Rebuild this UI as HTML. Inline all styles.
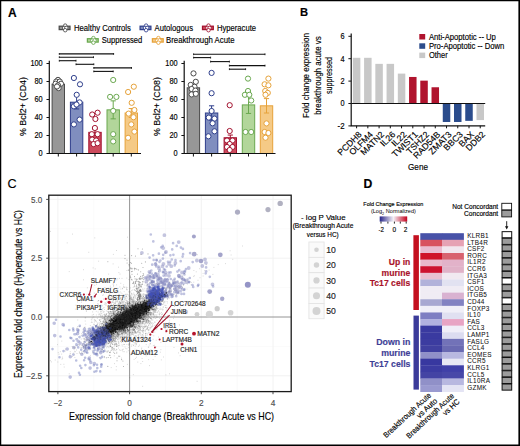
<!DOCTYPE html>
<html><head><meta charset="utf-8"><style>
html,body{margin:0;padding:0;background:#fff;}
svg{display:block;font-family:"Liberation Sans", sans-serif;}
</style></head><body>
<svg width="520" height="446" viewBox="0 0 520 446">
<rect x="0" y="0" width="520" height="446" fill="#fff"/>
<text x="8" y="16.5" font-size="12" font-weight="bold" stroke="#000" stroke-width="0.15">A</text>
<rect x="59.2" y="26.20" width="10.8" height="3.4" fill="#979797" stroke="#4a4a4a" stroke-width="1.25"/>
<circle cx="65.20" cy="25.60" r="1.75" fill="#fff" stroke="#4a4a4a" stroke-width="0.85"/>
<circle cx="64.10" cy="27.90" r="1.75" fill="#fff" stroke="#4a4a4a" stroke-width="0.85"/>
<circle cx="66.30" cy="27.90" r="1.75" fill="#fff" stroke="#4a4a4a" stroke-width="0.85"/>
<circle cx="65.20" cy="30.20" r="1.75" fill="#fff" stroke="#4a4a4a" stroke-width="0.85"/>
<text x="73.9" y="30.8" font-size="8.6" stroke="#000" stroke-width="0.15" textLength="57" lengthAdjust="spacingAndGlyphs">Healthy Controls</text>
<rect x="140.1" y="26.20" width="10.8" height="3.4" fill="#808ebf" stroke="#2f3f8c" stroke-width="1.25"/>
<circle cx="146.10" cy="25.60" r="1.75" fill="#fff" stroke="#2f3f8c" stroke-width="0.85"/>
<circle cx="145.00" cy="27.90" r="1.75" fill="#fff" stroke="#2f3f8c" stroke-width="0.85"/>
<circle cx="147.20" cy="27.90" r="1.75" fill="#fff" stroke="#2f3f8c" stroke-width="0.85"/>
<circle cx="146.10" cy="30.20" r="1.75" fill="#fff" stroke="#2f3f8c" stroke-width="0.85"/>
<text x="154.5" y="30.8" font-size="8.6" stroke="#000" stroke-width="0.15" textLength="38.5" lengthAdjust="spacingAndGlyphs">Autologous</text>
<rect x="202.5" y="26.20" width="10.8" height="3.4" fill="#cc4b5c" stroke="#a3122f" stroke-width="1.25"/>
<circle cx="208.50" cy="25.60" r="1.75" fill="#fff" stroke="#a3122f" stroke-width="0.85"/>
<circle cx="207.40" cy="27.90" r="1.75" fill="#fff" stroke="#a3122f" stroke-width="0.85"/>
<circle cx="209.60" cy="27.90" r="1.75" fill="#fff" stroke="#a3122f" stroke-width="0.85"/>
<circle cx="208.50" cy="30.20" r="1.75" fill="#fff" stroke="#a3122f" stroke-width="0.85"/>
<text x="217" y="30.8" font-size="8.6" stroke="#000" stroke-width="0.15" textLength="39" lengthAdjust="spacingAndGlyphs">Hyperacute</text>
<rect x="87.4" y="38.70" width="10.8" height="3.4" fill="#b2d69a" stroke="#6aa84f" stroke-width="1.25"/>
<circle cx="93.40" cy="38.10" r="1.75" fill="#fff" stroke="#6aa84f" stroke-width="0.85"/>
<circle cx="92.30" cy="40.40" r="1.75" fill="#fff" stroke="#6aa84f" stroke-width="0.85"/>
<circle cx="94.50" cy="40.40" r="1.75" fill="#fff" stroke="#6aa84f" stroke-width="0.85"/>
<circle cx="93.40" cy="42.70" r="1.75" fill="#fff" stroke="#6aa84f" stroke-width="0.85"/>
<text x="101.8" y="43.3" font-size="8.6" stroke="#000" stroke-width="0.15" textLength="40.5" lengthAdjust="spacingAndGlyphs">Suppressed</text>
<rect x="152.4" y="38.70" width="10.8" height="3.4" fill="#f5ca86" stroke="#e6a23a" stroke-width="1.25"/>
<circle cx="158.40" cy="38.10" r="1.75" fill="#fff" stroke="#e6a23a" stroke-width="0.85"/>
<circle cx="157.30" cy="40.40" r="1.75" fill="#fff" stroke="#e6a23a" stroke-width="0.85"/>
<circle cx="159.50" cy="40.40" r="1.75" fill="#fff" stroke="#e6a23a" stroke-width="0.85"/>
<circle cx="158.40" cy="42.70" r="1.75" fill="#fff" stroke="#e6a23a" stroke-width="0.85"/>
<text x="166" y="43.3" font-size="8.6" stroke="#000" stroke-width="0.15" textLength="68.5" lengthAdjust="spacingAndGlyphs">Breakthrough Acute</text>
<path d="M59.3 53.9H113.6" stroke="#111" stroke-width="1.1"/>
<path d="M59.3 53.0v1.8M113.6 53.0v1.8" stroke="#111" stroke-width="0.9"/>
<path d="M59.3 57.2H93.5" stroke="#111" stroke-width="1.1"/>
<path d="M59.3 56.300000000000004v1.8M93.5 56.300000000000004v1.8" stroke="#111" stroke-width="0.9"/>
<path d="M59.3 60.7H76.0" stroke="#111" stroke-width="1.1"/>
<path d="M59.3 59.800000000000004v1.8M76.0 59.800000000000004v1.8" stroke="#111" stroke-width="0.9"/>
<path d="M76.0 64.3H93.8" stroke="#111" stroke-width="1.1"/>
<path d="M76.0 63.4v1.8M93.8 63.4v1.8" stroke="#111" stroke-width="0.9"/>
<path d="M93.8 67.9H131.5" stroke="#111" stroke-width="1.1"/>
<path d="M93.8 67.0v1.8M131.5 67.0v1.8" stroke="#111" stroke-width="0.9"/>
<path d="M93.8 71.4H113.2" stroke="#111" stroke-width="1.1"/>
<path d="M93.8 70.5v1.8M113.2 70.5v1.8" stroke="#111" stroke-width="0.9"/>
<rect x="52.10" y="84.20" width="12.4" height="69.30" fill="#979797" stroke="#4a4a4a" stroke-width="1"/>
<rect x="70.40" y="102.20" width="12.4" height="51.30" fill="#808ebf" stroke="#2f3f8c" stroke-width="1"/>
<rect x="88.80" y="132.35" width="12.4" height="21.15" fill="#cc4b5c" stroke="#a3122f" stroke-width="1"/>
<rect x="107.00" y="109.85" width="12.4" height="43.65" fill="#b2d69a" stroke="#6aa84f" stroke-width="1"/>
<rect x="125.10" y="113.00" width="12.4" height="40.50" fill="#f5ca86" stroke="#e6a23a" stroke-width="1"/>
<path d="M58.3 82.85V85.55M55.70 82.85h5.2M55.70 85.55h5.2" stroke="#4a4a4a" stroke-width="1"/>
<path d="M76.6 95.45V108.95M74.00 95.45h5.2M74.00 108.95h5.2" stroke="#2f3f8c" stroke-width="1"/>
<path d="M95.0 129.20V135.50M92.40 129.20h5.2M92.40 135.50h5.2" stroke="#a3122f" stroke-width="1"/>
<path d="M113.2 100.85V118.85M110.60 100.85h5.2M110.60 118.85h5.2" stroke="#6aa84f" stroke-width="1"/>
<path d="M131.3 108.50V117.50M128.70 108.50h5.2M128.70 117.50h5.2" stroke="#e6a23a" stroke-width="1"/>
<circle cx="58" cy="79.9" r="2.6" fill="#fff" stroke="#4a4a4a" stroke-width="1"/>
<circle cx="56.2" cy="81.6" r="2.6" fill="#fff" stroke="#4a4a4a" stroke-width="1"/>
<circle cx="59.8" cy="81.6" r="2.6" fill="#fff" stroke="#4a4a4a" stroke-width="1"/>
<circle cx="55.6" cy="83.7" r="2.6" fill="#fff" stroke="#4a4a4a" stroke-width="1"/>
<circle cx="61" cy="83.7" r="2.6" fill="#fff" stroke="#4a4a4a" stroke-width="1"/>
<circle cx="58" cy="85.3" r="2.6" fill="#fff" stroke="#4a4a4a" stroke-width="1"/>
<circle cx="58.6" cy="88.1" r="2.6" fill="#fff" stroke="#4a4a4a" stroke-width="1"/>
<circle cx="57" cy="86.5" r="2.6" fill="#fff" stroke="#4a4a4a" stroke-width="1"/>
<circle cx="73.9" cy="78" r="2.6" fill="#fff" stroke="#2f3f8c" stroke-width="1"/>
<circle cx="80" cy="84.3" r="2.6" fill="#fff" stroke="#2f3f8c" stroke-width="1"/>
<circle cx="76.7" cy="94.8" r="2.6" fill="#fff" stroke="#2f3f8c" stroke-width="1"/>
<circle cx="73.9" cy="106.3" r="2.6" fill="#fff" stroke="#2f3f8c" stroke-width="1"/>
<circle cx="79.6" cy="102.4" r="2.6" fill="#fff" stroke="#2f3f8c" stroke-width="1"/>
<circle cx="76.5" cy="104.5" r="2.6" fill="#fff" stroke="#2f3f8c" stroke-width="1"/>
<circle cx="79.6" cy="119.6" r="2.6" fill="#fff" stroke="#2f3f8c" stroke-width="1"/>
<circle cx="73.9" cy="124.4" r="2.6" fill="#fff" stroke="#2f3f8c" stroke-width="1"/>
<circle cx="92.2" cy="114.5" r="2.6" fill="#fff" stroke="#a3122f" stroke-width="1"/>
<circle cx="97.6" cy="112.7" r="2.6" fill="#fff" stroke="#a3122f" stroke-width="1"/>
<circle cx="95.4" cy="119" r="2.6" fill="#fff" stroke="#a3122f" stroke-width="1"/>
<circle cx="94.9" cy="128" r="2.6" fill="#fff" stroke="#a3122f" stroke-width="1"/>
<circle cx="91.8" cy="134.2" r="2.6" fill="#fff" stroke="#a3122f" stroke-width="1"/>
<circle cx="97.6" cy="134.2" r="2.6" fill="#fff" stroke="#a3122f" stroke-width="1"/>
<circle cx="92.2" cy="139.6" r="2.6" fill="#fff" stroke="#a3122f" stroke-width="1"/>
<circle cx="96.1" cy="140.5" r="2.6" fill="#fff" stroke="#a3122f" stroke-width="1"/>
<circle cx="93.6" cy="144.1" r="2.6" fill="#fff" stroke="#a3122f" stroke-width="1"/>
<circle cx="97.6" cy="143.2" r="2.6" fill="#fff" stroke="#a3122f" stroke-width="1"/>
<circle cx="113.2" cy="80" r="2.6" fill="#fff" stroke="#6aa84f" stroke-width="1"/>
<circle cx="110.1" cy="96.9" r="2.6" fill="#fff" stroke="#6aa84f" stroke-width="1"/>
<circle cx="116.4" cy="96.9" r="2.6" fill="#fff" stroke="#6aa84f" stroke-width="1"/>
<circle cx="113.2" cy="110.9" r="2.6" fill="#fff" stroke="#6aa84f" stroke-width="1"/>
<circle cx="113.2" cy="134.2" r="2.6" fill="#fff" stroke="#6aa84f" stroke-width="1"/>
<circle cx="113.2" cy="141.4" r="2.6" fill="#fff" stroke="#6aa84f" stroke-width="1"/>
<circle cx="133.8" cy="86.7" r="2.6" fill="#fff" stroke="#e6a23a" stroke-width="1"/>
<circle cx="128.1" cy="92" r="2.6" fill="#fff" stroke="#e6a23a" stroke-width="1"/>
<circle cx="131.7" cy="102.8" r="2.6" fill="#fff" stroke="#e6a23a" stroke-width="1"/>
<circle cx="134.4" cy="110" r="2.6" fill="#fff" stroke="#e6a23a" stroke-width="1"/>
<circle cx="128.6" cy="113.6" r="2.6" fill="#fff" stroke="#e6a23a" stroke-width="1"/>
<circle cx="133.5" cy="117.2" r="2.6" fill="#fff" stroke="#e6a23a" stroke-width="1"/>
<circle cx="131.3" cy="124.4" r="2.6" fill="#fff" stroke="#e6a23a" stroke-width="1"/>
<circle cx="134.4" cy="131.6" r="2.6" fill="#fff" stroke="#e6a23a" stroke-width="1"/>
<circle cx="128.1" cy="137.8" r="2.6" fill="#fff" stroke="#e6a23a" stroke-width="1"/>
<path d="M49.3 60.8V153.5H141" fill="none" stroke="#111" stroke-width="1.2"/>
<path d="M46.5 153.50H49.3" stroke="#111" stroke-width="1"/>
<path d="M46.5 135.50H49.3" stroke="#111" stroke-width="1"/>
<path d="M46.5 117.50H49.3" stroke="#111" stroke-width="1"/>
<path d="M46.5 99.50H49.3" stroke="#111" stroke-width="1"/>
<path d="M46.5 81.50H49.3" stroke="#111" stroke-width="1"/>
<path d="M46.5 63.50H49.3" stroke="#111" stroke-width="1"/>
<path d="M58.3 153.5v3" stroke="#111" stroke-width="1"/>
<path d="M76.6 153.5v3" stroke="#111" stroke-width="1"/>
<path d="M95.0 153.5v3" stroke="#111" stroke-width="1"/>
<path d="M113.2 153.5v3" stroke="#111" stroke-width="1"/>
<path d="M131.3 153.5v3" stroke="#111" stroke-width="1"/>
<path d="M193.6 54.3H265.0" stroke="#111" stroke-width="1.1"/>
<path d="M193.6 53.4v1.8M265.0 53.4v1.8" stroke="#111" stroke-width="0.9"/>
<path d="M193.6 57.6H210.6" stroke="#111" stroke-width="1.1"/>
<path d="M193.6 56.7v1.8M210.6 56.7v1.8" stroke="#111" stroke-width="0.9"/>
<path d="M210.6 61.6H229.4" stroke="#111" stroke-width="1.1"/>
<path d="M210.6 60.7v1.8M229.4 60.7v1.8" stroke="#111" stroke-width="0.9"/>
<path d="M229.4 65.6H265.0" stroke="#111" stroke-width="1.1"/>
<path d="M229.4 64.69999999999999v1.8M265.0 64.69999999999999v1.8" stroke="#111" stroke-width="0.9"/>
<path d="M229.4 69.2H245.6" stroke="#111" stroke-width="1.1"/>
<path d="M229.4 68.3v1.8M245.6 68.3v1.8" stroke="#111" stroke-width="0.9"/>
<rect x="187.20" y="87.80" width="12.4" height="65.70" fill="#979797" stroke="#4a4a4a" stroke-width="1"/>
<rect x="205.40" y="113.00" width="12.4" height="40.50" fill="#808ebf" stroke="#2f3f8c" stroke-width="1"/>
<rect x="224.10" y="137.75" width="12.4" height="15.75" fill="#cc4b5c" stroke="#a3122f" stroke-width="1"/>
<rect x="242.30" y="104.90" width="12.4" height="48.60" fill="#b2d69a" stroke="#6aa84f" stroke-width="1"/>
<rect x="260.30" y="105.80" width="12.4" height="47.70" fill="#f5ca86" stroke="#e6a23a" stroke-width="1"/>
<path d="M193.4 86.45V89.15M190.80 86.45h5.2M190.80 89.15h5.2" stroke="#4a4a4a" stroke-width="1"/>
<path d="M211.6 105.80V120.20M209.00 105.80h5.2M209.00 120.20h5.2" stroke="#2f3f8c" stroke-width="1"/>
<path d="M230.3 135.05V140.45M227.70 135.05h5.2M227.70 140.45h5.2" stroke="#a3122f" stroke-width="1"/>
<path d="M248.5 96.35V113.45M245.90 96.35h5.2M245.90 113.45h5.2" stroke="#6aa84f" stroke-width="1"/>
<path d="M266.5 98.60V113.00M263.90 98.60h5.2M263.90 113.00h5.2" stroke="#e6a23a" stroke-width="1"/>
<circle cx="193.5" cy="73.4" r="2.6" fill="#fff" stroke="#4a4a4a" stroke-width="1"/>
<circle cx="195.8" cy="81.8" r="2.6" fill="#fff" stroke="#4a4a4a" stroke-width="1"/>
<circle cx="190.7" cy="84.9" r="2.6" fill="#fff" stroke="#4a4a4a" stroke-width="1"/>
<circle cx="194.5" cy="86.8" r="2.6" fill="#fff" stroke="#4a4a4a" stroke-width="1"/>
<circle cx="191.6" cy="89" r="2.6" fill="#fff" stroke="#4a4a4a" stroke-width="1"/>
<circle cx="195.4" cy="90.6" r="2.6" fill="#fff" stroke="#4a4a4a" stroke-width="1"/>
<circle cx="191.6" cy="94.4" r="2.6" fill="#fff" stroke="#4a4a4a" stroke-width="1"/>
<circle cx="195.8" cy="93.8" r="2.6" fill="#fff" stroke="#4a4a4a" stroke-width="1"/>
<circle cx="211.6" cy="72.9" r="2.6" fill="#fff" stroke="#2f3f8c" stroke-width="1"/>
<circle cx="211.6" cy="93.2" r="2.6" fill="#fff" stroke="#2f3f8c" stroke-width="1"/>
<circle cx="211.6" cy="111" r="2.6" fill="#fff" stroke="#2f3f8c" stroke-width="1"/>
<circle cx="208.8" cy="117.6" r="2.6" fill="#fff" stroke="#2f3f8c" stroke-width="1"/>
<circle cx="214.5" cy="118.6" r="2.6" fill="#fff" stroke="#2f3f8c" stroke-width="1"/>
<circle cx="212.6" cy="123.3" r="2.6" fill="#fff" stroke="#2f3f8c" stroke-width="1"/>
<circle cx="214.5" cy="131.3" r="2.6" fill="#fff" stroke="#2f3f8c" stroke-width="1"/>
<circle cx="208.4" cy="136.3" r="2.6" fill="#fff" stroke="#2f3f8c" stroke-width="1"/>
<circle cx="229.7" cy="105.2" r="2.6" fill="#fff" stroke="#a3122f" stroke-width="1"/>
<circle cx="229.7" cy="131" r="2.6" fill="#fff" stroke="#a3122f" stroke-width="1"/>
<circle cx="227" cy="140.5" r="2.6" fill="#fff" stroke="#a3122f" stroke-width="1"/>
<circle cx="232.5" cy="140.5" r="2.6" fill="#fff" stroke="#a3122f" stroke-width="1"/>
<circle cx="229.7" cy="144" r="2.6" fill="#fff" stroke="#a3122f" stroke-width="1"/>
<circle cx="227" cy="147" r="2.6" fill="#fff" stroke="#a3122f" stroke-width="1"/>
<circle cx="232.5" cy="147" r="2.6" fill="#fff" stroke="#a3122f" stroke-width="1"/>
<circle cx="229.7" cy="150" r="2.6" fill="#fff" stroke="#a3122f" stroke-width="1"/>
<circle cx="248" cy="78.6" r="2.6" fill="#fff" stroke="#6aa84f" stroke-width="1"/>
<circle cx="248" cy="91" r="2.6" fill="#fff" stroke="#6aa84f" stroke-width="1"/>
<circle cx="244.9" cy="94.8" r="2.6" fill="#fff" stroke="#6aa84f" stroke-width="1"/>
<circle cx="249.3" cy="94.8" r="2.6" fill="#fff" stroke="#6aa84f" stroke-width="1"/>
<circle cx="251.2" cy="100.5" r="2.6" fill="#fff" stroke="#6aa84f" stroke-width="1"/>
<circle cx="245.5" cy="132" r="2.6" fill="#fff" stroke="#6aa84f" stroke-width="1"/>
<circle cx="251.2" cy="132" r="2.6" fill="#fff" stroke="#6aa84f" stroke-width="1"/>
<circle cx="268.4" cy="78.6" r="2.6" fill="#fff" stroke="#e6a23a" stroke-width="1"/>
<circle cx="264.6" cy="84.3" r="2.6" fill="#fff" stroke="#e6a23a" stroke-width="1"/>
<circle cx="268.4" cy="85.3" r="2.6" fill="#fff" stroke="#e6a23a" stroke-width="1"/>
<circle cx="265.2" cy="91" r="2.6" fill="#fff" stroke="#e6a23a" stroke-width="1"/>
<circle cx="267.8" cy="92.9" r="2.6" fill="#fff" stroke="#e6a23a" stroke-width="1"/>
<circle cx="265.5" cy="94.8" r="2.6" fill="#fff" stroke="#e6a23a" stroke-width="1"/>
<circle cx="266.5" cy="123.4" r="2.6" fill="#fff" stroke="#e6a23a" stroke-width="1"/>
<circle cx="264.6" cy="132" r="2.6" fill="#fff" stroke="#e6a23a" stroke-width="1"/>
<circle cx="268.4" cy="133" r="2.6" fill="#fff" stroke="#e6a23a" stroke-width="1"/>
<circle cx="265.5" cy="137.7" r="2.6" fill="#fff" stroke="#e6a23a" stroke-width="1"/>
<path d="M184.2 60.8V153.5H275.5" fill="none" stroke="#111" stroke-width="1.2"/>
<path d="M181.39999999999998 153.50H184.2" stroke="#111" stroke-width="1"/>
<path d="M181.39999999999998 135.50H184.2" stroke="#111" stroke-width="1"/>
<path d="M181.39999999999998 117.50H184.2" stroke="#111" stroke-width="1"/>
<path d="M181.39999999999998 99.50H184.2" stroke="#111" stroke-width="1"/>
<path d="M181.39999999999998 81.50H184.2" stroke="#111" stroke-width="1"/>
<path d="M181.39999999999998 63.50H184.2" stroke="#111" stroke-width="1"/>
<path d="M193.4 153.5v3" stroke="#111" stroke-width="1"/>
<path d="M211.6 153.5v3" stroke="#111" stroke-width="1"/>
<path d="M230.3 153.5v3" stroke="#111" stroke-width="1"/>
<path d="M248.5 153.5v3" stroke="#111" stroke-width="1"/>
<path d="M266.5 153.5v3" stroke="#111" stroke-width="1"/>
<text x="42.699999999999996" y="156.45" font-size="8.2" text-anchor="end" stroke="#000" stroke-width="0.15" textLength="4.1" lengthAdjust="spacingAndGlyphs">0</text>
<text x="42.699999999999996" y="138.45" font-size="8.2" text-anchor="end" stroke="#000" stroke-width="0.15" textLength="8.2" lengthAdjust="spacingAndGlyphs">20</text>
<text x="42.699999999999996" y="120.45" font-size="8.2" text-anchor="end" stroke="#000" stroke-width="0.15" textLength="8.2" lengthAdjust="spacingAndGlyphs">40</text>
<text x="42.699999999999996" y="102.45" font-size="8.2" text-anchor="end" stroke="#000" stroke-width="0.15" textLength="8.2" lengthAdjust="spacingAndGlyphs">60</text>
<text x="42.699999999999996" y="84.45" font-size="8.2" text-anchor="end" stroke="#000" stroke-width="0.15" textLength="8.2" lengthAdjust="spacingAndGlyphs">80</text>
<text x="42.699999999999996" y="66.45" font-size="8.2" text-anchor="end" stroke="#000" stroke-width="0.15" textLength="12.299999999999999" lengthAdjust="spacingAndGlyphs">100</text>
<text x="177.6" y="156.45" font-size="8.2" text-anchor="end" stroke="#000" stroke-width="0.15" textLength="4.1" lengthAdjust="spacingAndGlyphs">0</text>
<text x="177.6" y="138.45" font-size="8.2" text-anchor="end" stroke="#000" stroke-width="0.15" textLength="8.2" lengthAdjust="spacingAndGlyphs">20</text>
<text x="177.6" y="120.45" font-size="8.2" text-anchor="end" stroke="#000" stroke-width="0.15" textLength="8.2" lengthAdjust="spacingAndGlyphs">40</text>
<text x="177.6" y="102.45" font-size="8.2" text-anchor="end" stroke="#000" stroke-width="0.15" textLength="8.2" lengthAdjust="spacingAndGlyphs">60</text>
<text x="177.6" y="84.45" font-size="8.2" text-anchor="end" stroke="#000" stroke-width="0.15" textLength="8.2" lengthAdjust="spacingAndGlyphs">80</text>
<text x="177.6" y="66.45" font-size="8.2" text-anchor="end" stroke="#000" stroke-width="0.15" textLength="12.299999999999999" lengthAdjust="spacingAndGlyphs">100</text>
<text x="0" y="0" font-size="9" text-anchor="middle" stroke="#000" stroke-width="0.15" textLength="59" lengthAdjust="spacingAndGlyphs" transform="translate(25.6 106.5) rotate(-90)">% Bcl2+ (CD4)</text>
<text x="0" y="0" font-size="9" text-anchor="middle" stroke="#000" stroke-width="0.15" textLength="59" lengthAdjust="spacingAndGlyphs" transform="translate(160.3 106.5) rotate(-90)">% Bcl2+ (CD8)</text>
<text x="300" y="16.2" font-size="11.2" font-weight="bold" stroke="#000" stroke-width="0.15">B</text>
<rect x="352.85" y="57.80" width="7.5" height="45.70" fill="#c8c8c8"/>
<rect x="364.09" y="57.80" width="7.5" height="45.70" fill="#c8c8c8"/>
<rect x="375.33" y="63.85" width="7.5" height="39.65" fill="#c8c8c8"/>
<rect x="386.57" y="63.85" width="7.5" height="39.65" fill="#c8c8c8"/>
<rect x="397.81" y="73.60" width="7.5" height="29.90" fill="#c8c8c8"/>
<rect x="409.05" y="76.96" width="7.5" height="26.54" fill="#b0142e"/>
<rect x="420.29" y="80.65" width="7.5" height="22.85" fill="#b0142e"/>
<rect x="431.53" y="87.26" width="7.5" height="16.24" fill="#b0142e"/>
<rect x="442.77" y="103.50" width="7.5" height="18.48" fill="#2b4c8c"/>
<rect x="454.01" y="103.50" width="7.5" height="18.48" fill="#2b4c8c"/>
<rect x="465.25" y="103.50" width="7.5" height="17.36" fill="#2b4c8c"/>
<rect x="476.49" y="103.50" width="7.5" height="16.58" fill="#c8c8c8"/>
<path d="M351.2 33.6V125.8H485.2" fill="none" stroke="#111" stroke-width="1.2"/>
<path d="M351.2 103.5H485.2" stroke="#111" stroke-width="1.2"/>
<path d="M348.4 36.30H351.2" stroke="#111" stroke-width="1"/>
<text x="344.59999999999997" y="39.25" font-size="8.2" text-anchor="end" stroke="#000" stroke-width="0.15" textLength="4.1" lengthAdjust="spacingAndGlyphs">6</text>
<path d="M348.4 58.70H351.2" stroke="#111" stroke-width="1"/>
<text x="344.59999999999997" y="61.65" font-size="8.2" text-anchor="end" stroke="#000" stroke-width="0.15" textLength="4.1" lengthAdjust="spacingAndGlyphs">4</text>
<path d="M348.4 81.10H351.2" stroke="#111" stroke-width="1"/>
<text x="344.59999999999997" y="84.05" font-size="8.2" text-anchor="end" stroke="#000" stroke-width="0.15" textLength="4.1" lengthAdjust="spacingAndGlyphs">2</text>
<path d="M348.4 103.50H351.2" stroke="#111" stroke-width="1"/>
<text x="344.59999999999997" y="106.45" font-size="8.2" text-anchor="end" stroke="#000" stroke-width="0.15" textLength="4.1" lengthAdjust="spacingAndGlyphs">0</text>
<path d="M348.4 125.90H351.2" stroke="#111" stroke-width="1"/>
<text x="344.59999999999997" y="128.85" font-size="8.2" text-anchor="end" stroke="#000" stroke-width="0.15" textLength="6.999999999999999" lengthAdjust="spacingAndGlyphs">-2</text>
<path d="M356.60 125.8v2.5" stroke="#111" stroke-width="1"/>
<text x="362.20000000000005" y="135.0" font-size="8.8" text-anchor="end" stroke="#000" stroke-width="0.15" transform="rotate(-45 362.20000000000005 135.0)">PCDH8</text>
<path d="M367.84 125.8v2.5" stroke="#111" stroke-width="1"/>
<text x="373.44000000000005" y="135.0" font-size="8.8" text-anchor="end" stroke="#000" stroke-width="0.15" transform="rotate(-45 373.44000000000005 135.0)">OLFM4</text>
<path d="M379.08 125.8v2.5" stroke="#111" stroke-width="1"/>
<text x="384.68000000000006" y="135.0" font-size="8.8" text-anchor="end" stroke="#000" stroke-width="0.15" transform="rotate(-45 384.68000000000006 135.0)">MATN2</text>
<path d="M390.32 125.8v2.5" stroke="#111" stroke-width="1"/>
<text x="395.9200000000001" y="135.0" font-size="8.8" text-anchor="end" stroke="#000" stroke-width="0.15" transform="rotate(-45 395.9200000000001 135.0)">IL26</text>
<path d="M401.56 125.8v2.5" stroke="#111" stroke-width="1"/>
<text x="407.16" y="135.0" font-size="8.8" text-anchor="end" stroke="#000" stroke-width="0.15" transform="rotate(-45 407.16 135.0)">IL22</text>
<path d="M412.80 125.8v2.5" stroke="#111" stroke-width="1"/>
<text x="418.40000000000003" y="135.0" font-size="8.8" text-anchor="end" stroke="#000" stroke-width="0.15" transform="rotate(-45 418.40000000000003 135.0)">TWIST1</text>
<path d="M424.04 125.8v2.5" stroke="#111" stroke-width="1"/>
<text x="429.64000000000004" y="135.0" font-size="8.8" text-anchor="end" stroke="#000" stroke-width="0.15" transform="rotate(-45 429.64000000000004 135.0)">TSHZ2</text>
<path d="M435.28 125.8v2.5" stroke="#111" stroke-width="1"/>
<text x="440.88000000000005" y="135.0" font-size="8.8" text-anchor="end" stroke="#000" stroke-width="0.15" transform="rotate(-45 440.88000000000005 135.0)">RAD54B</text>
<path d="M446.52 125.8v2.5" stroke="#111" stroke-width="1"/>
<text x="452.12000000000006" y="135.0" font-size="8.8" text-anchor="end" stroke="#000" stroke-width="0.15" transform="rotate(-45 452.12000000000006 135.0)">ZMAT3</text>
<path d="M457.76 125.8v2.5" stroke="#111" stroke-width="1"/>
<text x="463.36" y="135.0" font-size="8.8" text-anchor="end" stroke="#000" stroke-width="0.15" transform="rotate(-45 463.36 135.0)">BBC3</text>
<path d="M469.00 125.8v2.5" stroke="#111" stroke-width="1"/>
<text x="474.6" y="135.0" font-size="8.8" text-anchor="end" stroke="#000" stroke-width="0.15" transform="rotate(-45 474.6 135.0)">BAX</text>
<path d="M480.24 125.8v2.5" stroke="#111" stroke-width="1"/>
<text x="485.84000000000003" y="135.0" font-size="8.8" text-anchor="end" stroke="#000" stroke-width="0.15" transform="rotate(-45 485.84000000000003 135.0)">DDB2</text>
<rect x="419.3" y="34.00" width="5.9" height="5.5" fill="#b0142e"/>
<text x="428.9" y="39.83" font-size="8.7" stroke="#000" stroke-width="0.15" textLength="67" lengthAdjust="spacingAndGlyphs">Anti-Apoptotic -- Up</text>
<rect x="419.3" y="43.30" width="5.9" height="5.5" fill="#2b4c8c"/>
<text x="428.9" y="49.13" font-size="8.7" stroke="#000" stroke-width="0.15" textLength="75.5" lengthAdjust="spacingAndGlyphs">Pro-Apoptotic -- Down</text>
<rect x="419.3" y="52.60" width="5.9" height="5.5" fill="#c8c8c8"/>
<text x="428.9" y="58.43" font-size="8.7" stroke="#000" stroke-width="0.15" textLength="18.8" lengthAdjust="spacingAndGlyphs">Other</text>
<text x="0" y="0" font-size="9.4" text-anchor="middle" stroke="#000" stroke-width="0.15" textLength="85" lengthAdjust="spacingAndGlyphs" transform="translate(309.0 75.5) rotate(-90)">Fold change expression</text>
<text x="0" y="0" font-size="9.4" text-anchor="middle" stroke="#000" stroke-width="0.15" textLength="78.6" lengthAdjust="spacingAndGlyphs" transform="translate(320.7 75.5) rotate(-90)">breakthrough acute vs</text>
<text x="0" y="0" font-size="9.4" text-anchor="middle" stroke="#000" stroke-width="0.15" textLength="37.2" lengthAdjust="spacingAndGlyphs" transform="translate(332.0 75.5) rotate(-90)">suppressed</text>
<text x="418" y="169.87" font-size="8.8" text-anchor="middle" stroke="#000" stroke-width="0.15" textLength="20" lengthAdjust="spacingAndGlyphs">Gene</text>
<text x="7.6" y="187.9" font-size="12.6" stroke="#000" stroke-width="0.15">C</text>
<path d="M93.8 195.2V391.6 M165.4 195.2V391.6 M237.2 195.2V391.6 M48.8 346.4H291.2 M48.8 287.6H291.2 M48.8 228.8H291.2" stroke="#f6f6f6" stroke-width="0.6"/>
<path d="M57.9 195.2V391.6 M201.3 195.2V391.6 M273.0 195.2V391.6 M48.8 375.8H291.2 M48.8 258.2H291.2 M48.8 199.4H291.2" stroke="#f0f0f0" stroke-width="0.9"/>
<path d="M129.6 195.2V391.6M48.8 317.0H291.2" stroke="#888" stroke-width="0.9"/>
<path d="M151.9 288.4h0M150.1 288.7h0M151.8 273.7h0M151.7 299.5h0M168.2 287.0h0M183.6 283.6h0M165.4 293.8h0M156.7 275.7h0M158.4 284.5h0M188.9 281.8h0M182.6 256.6h0M166.8 295.4h0M173.0 283.8h0M153.2 289.5h0M155.2 290.5h0M159.3 294.5h0M155.4 273.5h0M171.9 285.5h0M165.0 294.8h0M170.4 255.3h0M150.0 279.2h0M150.8 295.9h0M150.6 290.7h0M150.0 291.4h0M151.3 287.8h0M174.0 285.8h0M154.6 284.9h0M184.0 293.9h0M155.5 292.8h0M150.5 277.1h0M151.7 295.9h0M167.5 282.1h0M163.1 294.0h0M168.4 285.2h0M158.6 296.5h0M150.3 283.0h0M159.2 299.4h0M170.2 261.8h0M185.0 271.8h0M150.6 292.7h0M150.2 289.2h0M184.0 272.7h0M173.4 254.8h0M161.4 281.5h0M150.7 293.1h0M197.9 285.8h0M155.4 298.4h0M155.4 293.6h0M152.0 299.7h0M157.4 280.5h0M154.2 275.1h0M157.6 281.7h0M165.4 252.7h0M164.3 292.1h0M175.5 260.2h0M158.4 291.2h0M152.0 281.7h0M150.0 295.3h0M150.7 300.6h0M189.8 278.0h0M166.7 266.5h0M154.4 277.3h0M206.1 267.4h0M154.7 294.2h0M165.4 284.8h0M169.4 291.5h0M151.0 292.9h0M151.1 289.7h0M159.5 286.5h0M186.0 269.2h0M159.4 289.4h0M165.8 294.8h0M150.7 289.8h0M150.4 288.1h0M153.2 277.5h0M169.9 287.9h0M152.6 293.3h0M168.9 272.7h0M154.0 300.1h0M171.8 259.5h0M150.4 292.0h0M184.8 279.8h0M150.1 296.2h0M157.4 298.7h0M178.5 292.9h0M155.8 290.1h0M153.7 260.0h0M169.8 295.0h0M170.3 294.4h0M151.9 299.2h0M162.7 245.9h0M168.0 261.8h0M164.1 280.8h0M152.3 298.0h0M161.7 286.0h0M151.0 300.1h0" stroke="#6a70b6" stroke-opacity="0.42" stroke-width="2.70" stroke-linecap="round" fill="none"/>
<path d="M156.6 292.8h0M152.9 285.0h0M150.8 296.0h0M163.6 275.7h0M153.3 292.1h0M157.6 295.2h0M177.4 271.6h0M170.8 279.0h0M158.5 293.0h0M175.0 291.4h0M150.4 300.0h0M152.0 297.9h0M156.5 276.1h0M150.8 234.5h0M163.0 283.4h0M176.7 245.9h0M176.2 296.2h0M151.3 270.5h0M163.8 287.8h0M151.7 283.1h0M167.6 293.5h0M165.8 291.4h0M162.4 289.5h0M153.3 299.4h0M149.6 257.6h0M159.3 289.2h0M150.8 299.2h0M166.1 296.7h0M164.0 269.2h0M152.2 264.7h0M162.5 295.8h0M184.4 274.4h0M172.8 294.5h0M151.2 294.0h0M184.4 289.4h0M158.9 283.9h0M150.5 298.3h0M150.2 297.6h0M153.7 282.0h0M169.5 283.5h0M150.6 296.4h0M156.9 286.1h0M151.7 290.0h0M171.7 294.3h0M154.9 295.9h0M155.1 297.5h0M175.4 282.6h0M150.1 298.7h0M174.5 289.0h0M178.6 286.3h0M180.9 247.6h0M192.7 262.1h0M184.5 271.1h0M173.1 243.2h0M163.2 287.0h0M154.6 287.7h0M160.6 277.8h0M158.9 253.7h0M167.8 286.2h0M153.6 292.2h0M181.8 282.3h0M164.6 295.7h0M154.2 296.6h0M157.2 293.7h0M167.1 293.0h0M167.4 279.3h0M174.3 292.1h0M157.5 294.5h0M176.4 290.3h0M153.6 295.2h0M156.5 259.9h0M150.8 297.1h0M170.6 272.4h0M171.6 296.9h0M182.9 248.9h0M157.7 292.5h0M155.8 298.8h0M153.6 295.0h0M150.8 290.5h0M152.5 298.0h0M163.2 254.8h0M174.7 278.8h0M158.3 289.2h0M158.4 285.2h0M158.7 286.7h0M154.3 278.0h0M173.3 283.0h0M174.7 265.4h0M192.5 285.0h0M166.2 288.9h0M159.0 278.6h0M174.7 283.5h0M181.5 293.9h0M151.1 295.6h0M163.5 272.4h0M158.0 287.5h0" stroke="#6a70b6" stroke-opacity="0.42" stroke-width="2.70" stroke-linecap="round" fill="none"/>
<path d="M152.4 298.8h0M171.7 294.8h0M164.5 297.3h0M190.1 253.1h0M153.1 282.0h0M155.4 294.6h0M172.7 296.4h0M180.7 261.2h0M159.2 271.4h0M152.4 285.1h0M151.7 280.8h0M152.3 288.0h0M183.9 289.9h0M160.4 260.5h0M180.6 291.2h0M149.7 272.8h0M165.4 279.5h0M150.1 292.0h0M172.2 249.4h0M153.3 285.9h0M163.5 282.6h0M158.6 266.7h0M198.4 284.8h0M159.5 261.8h0M154.9 288.9h0M209.8 276.8h0M152.2 294.6h0M165.1 270.0h0M184.6 280.4h0M161.1 282.6h0M165.5 291.6h0M171.6 285.7h0M156.2 266.5h0M164.9 279.2h0M187.5 279.6h0M151.0 295.8h0M159.9 270.7h0M162.1 296.4h0M154.8 295.0h0M162.9 258.6h0M179.2 270.2h0M161.0 292.1h0M162.9 271.9h0M150.6 296.4h0M213.1 286.4h0M150.4 293.6h0M156.2 265.2h0M152.6 299.7h0M159.9 295.4h0M151.7 295.9h0M154.8 295.0h0M169.0 283.5h0M160.3 281.1h0M165.9 293.0h0M174.2 282.9h0M167.8 297.3h0M150.9 300.0h0M205.7 273.3h0M193.2 286.9h0M179.4 277.1h0M156.6 289.4h0M177.5 281.5h0M206.2 271.4h0M153.3 241.4h0M182.1 279.2h0M156.1 298.8h0M154.5 292.7h0M183.1 254.2h0M156.7 260.4h0M165.1 283.8h0M163.7 284.7h0M149.9 293.2h0M160.2 298.8h0M159.9 290.0h0M153.0 289.7h0M158.5 279.5h0M175.9 286.5h0M154.8 298.1h0M151.0 295.9h0M153.1 255.3h0M156.9 288.8h0M150.2 276.1h0M182.1 289.1h0M157.5 298.4h0M175.4 285.8h0M154.4 296.6h0M189.0 282.3h0M153.4 275.6h0M152.6 300.4h0M161.8 279.3h0M165.9 290.7h0M165.4 282.1h0M155.7 273.4h0M155.7 299.5h0M161.2 247.3h0M155.6 263.4h0" stroke="#6a70b6" stroke-opacity="0.42" stroke-width="2.70" stroke-linecap="round" fill="none"/>
<path d="M151.1 296.8h0M155.5 264.3h0M169.2 292.7h0M147.7 291.0h0M158.2 276.1h0M148.4 288.8h0M160.2 278.7h0M141.9 252.8h0M160.9 282.6h0M170.2 287.0h0M159.0 268.5h0M157.4 284.5h0M158.9 297.8h0M163.4 263.9h0M177.4 291.6h0M177.8 290.5h0M169.7 285.9h0M188.7 268.0h0M167.3 280.1h0M153.1 296.0h0M171.3 266.2h0M165.6 272.6h0M205.0 259.4h0M183.4 279.3h0M147.9 279.2h0M157.9 274.3h0M166.0 251.9h0M177.1 283.2h0M180.8 287.4h0M173.7 280.8h0M174.9 288.8h0M178.8 275.7h0M205.9 262.8h0M158.6 294.3h0M149.4 271.8h0M202.3 266.0h0M156.6 298.1h0M186.4 282.2h0M147.1 278.1h0" stroke="#8a8cbf" stroke-opacity="0.5" stroke-width="3.80" stroke-linecap="round" fill="none"/>
<path d="M175.4 263.0h0M149.9 300.3h0M180.7 283.8h0M165.9 274.9h0M163.9 283.5h0M181.6 277.5h0M176.9 292.5h0M178.7 242.1h0M176.7 287.0h0M150.2 289.3h0M170.9 285.5h0M164.4 235.2h0M170.3 290.7h0M169.0 275.8h0M152.8 277.2h0M163.9 294.9h0M179.1 276.0h0M165.0 280.4h0M149.6 296.1h0M182.0 272.5h0M196.9 260.5h0M164.9 292.1h0M148.4 285.2h0M163.2 248.1h0M149.3 276.4h0M162.9 282.0h0M150.6 289.3h0M158.5 278.6h0M153.0 281.3h0M158.0 278.2h0M161.5 289.3h0M148.2 275.9h0M162.4 266.3h0M179.3 286.5h0M145.5 277.9h0M212.5 284.3h0M169.0 263.9h0M146.3 281.7h0" stroke="#8a8cbf" stroke-opacity="0.5" stroke-width="3.80" stroke-linecap="round" fill="none"/>
<path d="M140.6 289.4h0M140.2 286.4h0M139.7 282.1h0M138.4 269.9h0M140.0 295.1h0M138.5 296.7h0M139.7 294.4h0M138.9 288.7h0M138.1 292.7h0M137.4 291.3h0M132.0 268.2h0M140.6 294.6h0M128.7 270.1h0M137.6 293.8h0M141.1 287.1h0M139.0 292.6h0M139.2 297.0h0M143.3 279.6h0M135.4 256.1h0M139.4 298.5h0M138.7 296.4h0M140.1 296.7h0M139.3 290.4h0M140.6 278.7h0M139.8 285.0h0M139.3 292.0h0M141.6 278.2h0M140.1 297.9h0M139.9 299.1h0M135.1 278.9h0M134.7 268.2h0M139.8 278.5h0M131.6 255.6h0M148.0 253.9h0M138.6 292.1h0M138.7 295.6h0M140.6 276.6h0M135.4 282.7h0M142.0 284.3h0M140.5 296.2h0M140.3 282.5h0M136.9 279.0h0M136.8 269.3h0M138.1 295.7h0M141.1 285.0h0M141.0 254.4h0M139.6 297.3h0M132.3 271.2h0M138.8 285.5h0M133.9 283.6h0M125.0 255.2h0M137.6 292.2h0M139.3 293.1h0M135.8 268.6h0M134.2 286.6h0M138.3 284.3h0M143.0 281.7h0M140.1 291.1h0M136.8 288.7h0M139.4 296.2h0M138.8 296.1h0M138.7 292.2h0M127.0 260.1h0M140.7 290.1h0M139.3 287.0h0M142.6 284.1h0M140.9 291.4h0M133.7 281.8h0M127.1 263.0h0M139.5 279.2h0M142.4 249.0h0M140.2 299.0h0M138.8 297.2h0M136.2 286.8h0M142.6 278.3h0M136.4 291.6h0M138.5 284.4h0M140.7 271.8h0M136.6 288.7h0M129.0 264.5h0" stroke="#444" stroke-opacity="0.45" stroke-width="1.10" stroke-linecap="round" fill="none"/>
<path d="M131.9 268.9h0M143.2 273.5h0M134.6 269.7h0M140.8 290.5h0M136.9 289.3h0M141.4 286.2h0M130.6 277.7h0M139.3 290.4h0M142.5 275.9h0M134.5 285.0h0M134.5 276.6h0M139.4 283.0h0M137.7 288.5h0M140.0 293.5h0M132.0 279.9h0M131.6 271.6h0M140.2 291.3h0M137.4 290.6h0M130.6 262.6h0M138.8 282.9h0M139.9 296.4h0M137.7 293.6h0M129.1 265.8h0M135.6 283.4h0M139.8 295.9h0M132.0 274.3h0M135.8 281.4h0M137.2 281.2h0M140.0 296.7h0M140.3 291.0h0M140.0 298.5h0M145.4 261.9h0M136.6 285.1h0M139.4 295.2h0M139.8 277.9h0M142.7 281.8h0M138.0 248.8h0M140.3 295.1h0M141.7 263.2h0M130.4 276.1h0M143.0 267.5h0M130.7 277.2h0M130.7 268.6h0M143.1 277.5h0M139.0 278.7h0M139.6 284.4h0M138.8 296.9h0M139.0 292.1h0M135.3 281.9h0M137.0 287.1h0M143.3 275.3h0M139.0 294.8h0M130.7 267.9h0M137.4 274.1h0M143.6 274.9h0M138.9 296.8h0M137.2 292.0h0M139.6 296.9h0M139.1 295.8h0M138.3 292.1h0M136.4 280.7h0M139.8 285.1h0M132.8 283.4h0M131.4 279.3h0M138.7 287.4h0M136.2 288.5h0M136.7 291.0h0M139.7 291.9h0M138.5 281.4h0M133.5 282.6h0M134.3 268.3h0M139.4 298.8h0M139.6 293.9h0M138.4 291.5h0M131.5 263.2h0M125.0 258.6h0M140.8 279.3h0M136.9 279.4h0M139.8 299.4h0" stroke="#444" stroke-opacity="0.45" stroke-width="1.10" stroke-linecap="round" fill="none"/>
<path d="M97.0 335.9h0M103.4 333.4h0M70.4 337.7h0M105.2 342.9h0M98.3 349.1h0M102.4 346.6h0M103.3 351.2h0M86.3 352.1h0M95.0 332.9h0M104.1 333.8h0M84.1 360.2h0M106.2 334.3h0M73.3 354.6h0M93.1 334.0h0M52.5 349.1h0M85.1 357.8h0M97.5 350.8h0M101.6 364.4h0M103.6 342.1h0M106.8 334.6h0M89.7 335.4h0M78.2 347.4h0M103.2 351.6h0M100.1 332.5h0M78.0 331.7h0M106.6 335.5h0M97.3 368.1h0M76.5 339.3h0M105.0 339.0h0M95.0 342.3h0M95.5 354.1h0M106.4 337.1h0M101.7 332.5h0M93.1 330.3h0M104.2 336.1h0M69.3 330.0h0M83.7 347.3h0M104.8 337.1h0M85.0 350.3h0M105.0 339.1h0M102.5 333.2h0M104.0 334.2h0M93.4 333.1h0M86.7 350.6h0M94.7 349.9h0M100.3 339.3h0M100.2 336.7h0M89.9 340.0h0M99.0 339.0h0M100.9 351.2h0M91.0 338.7h0M79.5 337.1h0M107.2 334.0h0M81.3 368.0h0M98.1 344.1h0M91.2 333.8h0M98.4 343.4h0M95.6 334.7h0M94.4 371.7h0M89.6 349.0h0M101.7 336.6h0M76.2 360.5h0M102.8 346.7h0M92.6 334.4h0M101.1 334.9h0M97.4 340.7h0M103.1 342.2h0M87.9 344.9h0M103.1 333.1h0M94.2 341.9h0M104.0 334.9h0M99.9 336.9h0M102.8 338.0h0M104.7 332.6h0" stroke="#6670b8" stroke-opacity="0.45" stroke-width="2.60" stroke-linecap="round" fill="none"/>
<path d="M85.4 334.6h0M86.1 348.5h0M76.4 344.4h0M100.7 343.1h0M105.6 335.9h0M88.7 359.1h0M93.2 335.5h0M97.2 345.1h0M103.6 343.6h0M98.5 343.1h0M94.0 340.1h0M107.4 336.3h0M75.7 334.3h0M88.9 344.1h0M103.2 333.9h0M84.2 351.3h0M97.0 364.7h0M84.9 331.0h0M96.1 334.7h0M91.0 328.9h0M103.0 337.0h0M96.1 330.2h0M60.5 336.5h0M77.0 344.9h0M95.6 343.4h0M103.3 341.4h0M73.1 328.6h0M97.8 349.4h0M101.1 332.3h0M63.5 351.1h0M104.3 337.8h0M106.2 341.9h0M103.1 334.3h0M96.8 342.7h0M85.9 345.6h0M107.2 335.6h0M99.0 334.7h0M105.1 336.3h0M95.4 338.4h0M106.1 334.4h0M73.5 340.7h0M97.7 340.9h0M89.7 342.0h0M85.4 365.1h0M74.4 334.3h0M87.3 352.7h0M107.5 333.4h0M91.5 329.2h0M100.2 371.4h0M94.6 335.3h0M99.8 342.5h0M93.3 351.5h0M63.7 325.5h0M106.5 336.3h0M88.9 340.6h0M100.1 331.0h0M103.5 333.4h0M87.4 331.6h0M102.5 335.6h0M88.1 332.9h0M98.9 337.6h0M100.5 343.9h0M95.1 346.0h0M90.0 347.9h0M105.0 333.9h0M101.0 336.4h0M102.3 341.6h0M96.7 353.5h0M96.4 371.1h0M107.3 335.9h0M98.4 341.6h0M71.4 338.2h0M104.9 332.9h0M79.9 374.7h0" stroke="#6670b8" stroke-opacity="0.45" stroke-width="2.60" stroke-linecap="round" fill="none"/>
<path d="M79.8 325.9h0M101.7 336.2h0M104.2 345.5h0M94.7 333.5h0M89.5 333.6h0M94.0 353.4h0M80.1 365.8h0M103.8 347.4h0M100.4 343.0h0M81.2 349.7h0M103.0 339.0h0M101.2 366.8h0M99.5 330.8h0M93.3 338.0h0M56.0 319.8h0M82.8 335.7h0M78.4 330.2h0M92.1 331.1h0M97.6 346.6h0M73.4 330.4h0M94.2 329.6h0M96.5 335.3h0M92.0 333.1h0M102.2 356.9h0M96.4 354.3h0M103.9 333.2h0M104.3 351.0h0M101.0 337.2h0M104.2 341.3h0M96.3 341.8h0M89.4 330.1h0M90.9 331.1h0M92.8 343.7h0M107.6 334.9h0M102.1 336.1h0M102.5 332.9h0M99.1 340.6h0M79.0 372.7h0M105.3 333.1h0M85.6 345.6h0M91.6 339.2h0M89.5 334.1h0M101.9 348.8h0M104.0 340.5h0M96.5 345.4h0M103.3 342.0h0M97.4 331.3h0M83.6 332.3h0M104.8 338.5h0M103.7 343.1h0M90.3 345.1h0M102.5 344.1h0M89.8 342.5h0M100.6 358.1h0M95.0 342.7h0M100.1 336.8h0M105.4 340.8h0M102.4 333.6h0M106.1 333.1h0M97.2 355.3h0M88.5 334.7h0M87.4 337.5h0M99.0 339.4h0M59.5 357.3h0M88.9 329.1h0M101.3 364.8h0M103.1 341.4h0M96.1 338.8h0M90.1 360.4h0M93.9 365.3h0M97.7 331.9h0M102.5 339.0h0M84.9 342.1h0M105.1 340.7h0" stroke="#6670b8" stroke-opacity="0.45" stroke-width="2.60" stroke-linecap="round" fill="none"/>
<path d="M94.0 343.2h0M85.2 347.7h0M77.6 329.8h0M94.0 338.3h0M90.0 337.7h0M63.1 324.5h0M99.2 348.6h0M103.9 334.7h0M106.9 333.2h0M70.3 356.7h0M100.9 332.3h0M84.6 334.5h0M102.9 340.0h0M80.1 343.1h0M94.5 330.4h0M96.1 345.2h0M83.4 344.5h0M106.5 333.0h0M92.0 342.6h0M87.1 339.6h0M99.5 346.1h0M104.4 339.9h0M86.2 336.6h0M70.2 377.1h0M100.7 336.2h0M104.6 333.1h0M90.1 368.1h0" stroke="#8a8ec4" stroke-opacity="0.55" stroke-width="3.60" stroke-linecap="round" fill="none"/>
<path d="M97.6 334.1h0M98.8 344.2h0M73.9 347.5h0M77.6 333.6h0M89.3 358.1h0M103.5 341.0h0M95.4 336.8h0M105.1 337.1h0M94.4 363.6h0M54.2 323.3h0M95.8 337.6h0M78.2 341.2h0M92.3 332.4h0M67.2 349.0h0M96.0 338.5h0M88.3 347.8h0M89.4 331.9h0M81.8 354.3h0M103.7 345.1h0M54.7 335.6h0M104.3 334.2h0M96.2 332.9h0M84.5 329.2h0M90.8 362.5h0M100.7 352.7h0M104.3 338.5h0" stroke="#8a8ec4" stroke-opacity="0.55" stroke-width="3.60" stroke-linecap="round" fill="none"/>
<path d="M112.3 332.8h0M113.9 349.8h0M113.0 336.0h0M116.7 353.0h0M110.2 341.7h0M113.2 338.7h0M116.5 346.2h0M113.3 339.0h0M112.2 331.8h0M117.0 344.8h0M110.0 352.6h0M114.5 340.9h0M112.0 339.8h0M111.3 343.0h0M112.5 332.1h0M111.9 341.7h0M108.8 339.4h0M111.0 337.7h0M109.9 355.4h0M112.5 347.3h0M110.9 339.3h0M112.3 335.2h0M112.2 349.2h0M112.9 333.4h0M111.9 347.7h0M111.2 333.2h0M109.3 342.5h0M112.4 338.5h0M111.8 330.8h0M113.2 335.7h0M118.9 356.1h0M104.5 356.7h0M110.4 352.0h0M112.4 341.6h0M112.8 344.5h0M111.9 337.8h0M113.8 339.8h0M110.7 346.5h0M111.4 334.6h0M112.6 333.4h0M113.2 334.4h0M114.7 353.5h0M111.3 335.0h0M112.4 331.2h0M111.2 332.5h0M109.6 337.4h0M111.9 330.2h0M106.4 357.8h0M112.4 331.3h0M111.2 339.6h0M109.6 338.8h0M112.9 333.4h0M112.5 334.9h0M122.9 361.0h0M108.4 340.4h0M109.7 337.0h0M112.7 332.6h0" stroke="#444" stroke-opacity="0.45" stroke-width="1.10" stroke-linecap="round" fill="none"/>
<path d="M115.9 343.2h0M111.9 330.8h0M113.2 335.1h0M110.0 338.1h0M112.1 330.2h0M117.0 360.8h0M110.6 335.9h0M110.7 357.6h0M115.3 340.7h0M108.2 357.5h0M112.1 343.8h0M114.0 348.3h0M114.9 344.6h0M108.7 343.5h0M108.4 341.6h0M109.9 336.1h0M123.5 366.5h0M117.1 358.0h0M108.9 341.2h0M111.0 339.7h0M113.2 335.4h0M113.5 340.3h0M108.1 350.9h0M111.2 350.3h0M113.8 352.3h0M113.0 339.9h0M117.0 346.1h0M112.8 332.8h0M110.4 344.1h0M112.9 340.4h0M109.4 339.4h0M108.2 343.4h0M112.7 334.5h0M107.8 366.4h0M112.9 332.9h0M116.2 344.1h0M107.1 351.9h0M109.5 341.6h0M111.8 331.6h0M110.9 337.6h0M115.0 338.6h0M116.7 349.3h0M112.3 331.7h0M110.6 337.1h0M110.7 338.7h0M111.1 334.6h0M110.1 345.9h0M110.1 338.8h0M112.4 333.0h0M112.8 336.6h0M116.5 343.9h0M112.3 332.4h0M108.0 346.7h0M111.0 334.5h0M121.6 359.6h0M109.5 352.3h0" stroke="#444" stroke-opacity="0.45" stroke-width="1.10" stroke-linecap="round" fill="none"/>
<path d="M106.9 328.0h0M141.3 311.2h0M149.5 310.2h0M118.0 321.0h0M137.2 311.8h0M124.9 320.3h0M140.4 310.1h0M146.1 306.2h0M131.9 311.0h0M149.0 305.5h0M131.7 321.3h0M153.5 302.6h0M133.6 311.2h0M122.7 319.1h0M110.9 329.6h0M128.6 318.1h0M111.8 323.8h0M117.1 321.1h0M133.1 314.7h0M109.7 326.0h0M112.0 328.7h0M136.3 313.9h0M125.4 323.1h0M119.2 324.9h0M138.6 312.5h0M124.5 322.8h0M132.6 319.1h0M156.6 301.2h0M123.8 319.8h0M125.9 322.7h0M125.5 320.3h0M108.9 330.2h0M125.9 316.5h0M137.1 316.8h0M110.1 326.9h0M124.7 319.0h0M127.5 318.6h0M129.1 312.9h0M120.7 319.6h0M127.2 320.3h0M138.0 308.5h0M156.3 304.0h0M115.5 326.1h0M135.5 314.5h0M121.6 327.2h0M125.7 321.3h0M138.3 308.0h0M137.2 314.8h0M135.0 316.2h0M107.8 323.7h0M134.8 312.8h0M114.2 321.4h0M137.0 316.4h0M109.0 329.1h0M117.5 324.2h0M129.9 313.2h0M129.4 311.4h0M102.9 336.5h0M121.5 317.6h0M114.9 322.0h0M131.7 316.7h0M111.3 330.4h0M122.0 320.8h0M131.0 314.5h0M124.2 321.9h0M118.9 320.3h0M122.4 328.1h0M125.4 324.7h0M130.3 318.7h0M120.8 327.5h0M148.0 305.3h0M108.5 333.1h0M126.9 312.9h0M149.7 304.8h0M131.3 318.4h0M94.6 337.1h0M130.4 320.1h0M107.1 328.1h0M125.2 317.7h0M151.0 303.4h0M135.2 311.0h0M134.6 310.3h0M126.0 315.7h0M121.6 316.4h0M114.3 321.8h0M123.2 322.0h0M134.9 311.9h0M125.1 314.6h0M130.8 317.0h0M123.0 314.9h0M133.6 309.6h0M128.0 315.5h0M141.7 308.8h0M113.2 325.7h0M101.3 333.4h0M139.4 308.6h0M103.4 329.8h0M120.6 322.2h0M129.6 307.5h0M121.4 327.2h0M113.0 323.6h0M134.5 321.8h0M119.4 318.4h0M111.8 327.6h0M127.9 312.2h0M139.2 305.1h0M130.4 317.8h0M122.6 318.7h0M138.9 312.8h0M117.3 325.9h0M129.4 316.7h0M131.0 310.9h0M118.4 325.2h0M119.9 321.2h0M132.5 316.3h0M138.0 313.6h0M128.8 312.8h0M108.4 326.6h0M133.2 314.2h0M122.6 323.8h0M131.0 310.7h0M133.2 310.4h0M114.4 328.2h0M134.3 313.9h0M127.9 321.3h0M138.2 314.1h0M130.0 311.8h0M118.0 322.3h0M121.2 319.1h0M131.7 310.9h0M98.4 337.3h0M104.4 333.6h0M132.3 318.6h0M102.8 333.8h0M134.1 313.5h0M112.4 320.4h0M125.1 317.5h0M142.7 308.9h0M121.2 326.3h0M134.3 310.8h0M124.0 320.4h0M126.6 315.9h0M117.6 327.1h0M123.2 317.9h0M139.4 310.4h0M119.0 326.3h0M97.7 337.5h0M144.5 308.5h0M146.7 307.4h0M130.1 317.3h0M135.1 311.1h0M113.5 321.9h0M118.5 321.3h0M134.5 312.7h0M117.6 323.5h0M122.4 328.4h0M127.6 321.2h0M140.8 307.0h0M134.3 311.1h0M103.7 332.9h0M126.5 321.4h0M125.8 316.7h0M120.8 319.9h0M124.3 321.0h0M115.2 328.9h0M121.8 320.2h0M136.0 314.8h0M117.1 327.9h0M129.7 318.6h0M132.7 315.2h0M120.0 325.3h0M128.2 320.6h0M112.7 327.4h0M136.6 310.5h0M137.1 313.9h0M125.4 317.1h0M146.1 306.0h0M134.9 312.7h0M120.4 324.6h0M131.1 315.8h0M121.3 323.1h0M134.0 312.1h0M129.5 316.9h0M144.7 307.7h0M137.0 314.9h0M132.5 317.5h0M114.0 324.6h0M111.8 327.8h0M129.9 316.0h0M128.6 318.1h0M123.3 325.5h0M110.1 328.5h0M125.2 320.2h0M124.6 325.7h0M118.8 327.6h0M130.4 318.5h0M130.4 313.7h0M126.6 323.3h0M95.0 337.5h0M131.4 312.4h0M124.3 319.7h0M125.4 314.4h0M118.3 325.5h0M121.8 322.9h0M122.1 322.0h0M118.9 329.6h0M126.0 318.4h0M137.5 304.0h0M119.3 318.0h0M144.6 307.5h0M109.8 326.8h0M127.9 320.7h0M129.4 320.5h0M117.7 327.1h0M133.3 315.6h0M117.6 324.6h0M111.1 328.3h0M120.7 323.0h0M132.9 312.6h0M116.4 327.7h0M132.5 313.8h0M131.3 315.3h0M124.6 318.3h0M149.0 301.3h0M135.4 309.7h0M134.9 309.7h0M126.1 322.1h0M123.0 322.5h0M109.1 320.4h0M126.3 315.2h0M128.2 318.9h0M106.7 329.4h0M128.6 315.6h0M125.1 317.7h0M102.1 334.8h0M108.1 331.4h0M125.0 316.0h0M129.4 316.3h0M123.4 322.1h0M115.5 326.3h0M135.3 311.2h0M128.6 316.5h0M136.1 304.9h0M114.7 325.8h0M119.5 322.3h0M120.7 319.0h0M116.3 326.8h0M131.4 309.4h0M120.9 321.2h0M120.7 321.9h0M118.6 326.4h0M131.3 314.0h0M138.0 312.7h0M129.3 315.3h0M107.1 327.5h0M121.9 323.9h0M123.2 313.1h0M129.8 314.2h0M140.0 315.4h0M141.6 311.5h0M128.6 318.4h0M127.4 320.9h0M142.5 307.1h0M136.6 318.0h0M122.2 325.8h0M116.4 327.3h0M138.6 306.3h0M112.9 323.9h0M116.8 316.4h0M132.7 317.9h0M146.3 303.1h0M118.4 325.1h0M115.9 325.7h0M116.1 323.0h0M107.3 326.2h0M140.4 311.8h0M122.8 318.5h0M128.3 317.1h0M122.0 319.0h0M125.6 321.9h0M133.9 313.7h0M128.6 314.3h0M123.0 327.5h0M145.8 305.1h0M126.5 314.4h0M122.6 313.6h0M123.1 323.5h0M132.9 316.2h0M104.1 334.8h0M117.9 326.8h0M136.2 318.2h0M160.5 299.2h0M139.2 310.2h0M134.8 314.4h0M136.4 312.5h0M117.7 323.4h0M111.4 320.1h0M117.0 323.5h0M134.5 316.6h0M128.7 317.2h0M114.8 327.0h0M132.5 313.8h0M120.2 322.8h0M141.2 313.1h0M129.7 318.9h0M114.1 326.8h0M136.1 305.5h0M142.3 309.7h0M135.1 317.0h0M137.2 310.7h0M110.9 323.3h0M138.5 313.2h0M140.1 312.6h0M111.8 325.5h0M146.3 306.6h0M139.3 314.7h0M113.2 323.8h0M121.9 317.9h0M141.2 311.1h0M121.3 322.7h0M109.4 330.2h0M103.0 334.1h0M130.1 311.3h0M148.7 306.6h0M128.5 319.3h0M113.5 329.9h0M129.1 324.0h0M142.1 307.2h0M117.0 320.0h0M132.7 316.8h0M143.0 312.6h0M151.0 305.9h0M132.8 313.2h0M134.6 315.0h0M133.2 316.2h0M119.7 316.5h0M136.4 311.8h0M129.4 319.7h0M140.1 308.6h0M135.5 312.1h0M117.6 322.5h0M126.0 320.5h0M102.3 332.2h0M124.8 321.9h0M121.8 327.8h0M127.2 318.0h0M123.6 321.1h0M127.1 319.9h0M130.8 321.5h0M113.4 329.4h0M138.3 311.3h0M129.4 319.5h0M120.0 322.1h0M135.6 313.3h0M104.0 330.1h0M125.7 324.4h0M147.5 307.8h0M135.2 310.2h0M149.8 306.2h0M145.4 311.1h0M128.4 313.7h0M113.6 329.3h0M115.7 318.4h0M123.0 321.5h0M115.9 320.5h0M132.2 315.7h0M141.2 311.2h0M118.5 322.2h0M129.6 314.7h0M126.8 318.6h0M139.2 307.9h0M129.5 318.9h0M123.9 322.2h0M146.3 311.0h0M122.9 320.9h0M124.1 316.7h0M114.3 323.3h0M132.8 320.9h0M113.7 320.7h0M126.2 313.3h0M129.8 316.8h0M132.2 315.8h0M122.6 329.2h0M131.3 320.0h0M136.9 315.7h0M116.3 327.2h0M145.8 307.4h0M143.1 309.6h0M120.4 326.6h0M132.1 312.3h0M113.8 328.0h0M146.7 306.0h0M127.6 319.1h0M132.0 313.9h0M116.9 326.1h0M146.7 306.5h0M120.2 321.8h0M111.1 329.2h0M131.0 314.3h0M127.8 320.9h0M132.3 313.4h0M158.3 300.6h0M132.1 316.4h0M147.0 304.6h0M115.1 320.4h0M121.9 326.0h0M113.2 327.6h0M136.8 310.4h0M135.6 315.4h0M137.4 321.1h0M132.5 315.7h0M144.6 308.4h0M126.1 319.0h0M125.0 318.0h0M105.6 333.7h0M124.0 313.9h0M136.9 312.2h0M134.7 315.6h0M107.9 328.1h0M124.4 318.0h0M148.6 310.3h0M122.2 328.5h0M126.5 320.4h0M142.5 308.5h0M105.4 331.3h0M130.2 315.5h0M159.6 299.5h0M140.2 304.4h0M131.1 314.1h0M137.9 316.4h0M136.7 314.0h0M140.1 314.8h0M134.7 310.6h0M116.6 323.3h0M132.9 311.3h0M125.1 319.1h0M118.9 322.5h0M118.2 323.4h0M138.0 312.8h0M107.6 333.3h0M154.5 302.7h0M120.7 321.8h0M150.5 302.2h0M136.0 312.5h0M130.6 321.4h0M157.8 299.8h0M109.5 328.1h0M114.6 323.8h0M111.3 328.8h0M116.8 327.0h0M138.4 309.4h0M114.6 320.8h0M127.4 317.1h0M153.0 300.8h0M133.6 315.2h0M129.2 316.2h0M118.4 325.2h0M127.6 321.1h0M124.1 326.6h0M114.2 327.0h0M144.8 308.3h0M122.5 323.7h0M122.3 325.6h0M130.0 311.0h0M127.6 321.6h0M126.0 318.5h0M119.7 330.0h0M118.5 325.7h0M137.4 310.2h0M136.4 310.3h0M131.1 316.7h0M133.2 312.1h0M121.8 321.9h0M125.5 313.4h0M122.9 320.4h0M133.4 316.5h0M113.3 329.2h0M121.7 319.6h0M130.7 318.6h0M126.8 321.2h0M99.9 334.2h0M143.8 306.4h0M136.3 317.1h0M140.7 309.7h0M115.6 323.7h0M133.0 312.5h0M128.2 316.7h0M106.1 335.9h0M123.6 320.8h0M119.5 323.6h0M112.9 330.9h0M140.3 318.0h0M132.4 309.4h0M120.0 320.1h0M139.1 307.3h0M144.4 306.1h0M134.2 310.6h0M134.6 308.6h0M132.6 316.7h0M119.6 322.1h0M135.9 310.6h0M126.8 320.5h0M150.3 305.7h0M126.4 316.4h0M136.7 314.4h0M119.0 317.8h0M119.0 321.3h0M142.2 308.1h0M130.2 320.4h0M125.7 316.6h0M129.6 313.8h0M123.4 315.3h0M112.9 320.2h0M128.9 318.4h0M135.6 314.4h0M124.8 320.4h0M131.1 313.4h0M110.2 320.1h0M126.5 318.7h0M128.4 315.1h0M96.4 336.1h0M146.9 311.2h0M117.7 333.8h0M122.1 321.0h0M136.0 309.2h0M127.5 322.4h0M119.7 326.6h0M139.3 310.4h0M140.6 309.2h0M143.6 307.1h0M119.7 324.1h0M116.3 316.7h0M117.5 329.4h0M129.8 321.5h0M140.4 312.6h0M128.5 320.4h0M139.8 312.7h0M123.0 320.1h0M114.9 324.4h0M117.0 328.3h0M125.4 319.1h0M112.9 323.6h0M125.2 316.3h0M133.6 311.8h0M123.4 319.3h0M137.2 312.1h0M91.3 341.3h0M117.2 318.4h0M122.1 320.6h0M125.6 323.9h0M146.6 308.5h0M125.1 318.3h0M127.1 317.8h0M128.7 313.3h0M135.4 313.5h0M136.9 307.9h0M124.5 323.4h0M120.4 321.8h0M128.6 317.9h0M138.1 317.2h0M136.1 309.8h0M125.2 318.8h0M130.2 319.4h0M130.1 317.7h0M127.6 314.2h0M129.6 317.9h0M149.2 305.9h0M140.4 307.3h0M139.3 311.5h0M133.9 319.5h0M142.9 305.2h0M103.8 331.8h0M119.6 323.2h0M137.4 309.3h0M120.3 324.3h0M140.0 308.6h0M124.4 320.4h0M136.1 309.3h0M136.0 312.4h0M124.1 317.3h0M141.6 308.3h0M155.6 304.7h0M132.7 318.7h0M141.5 310.5h0M130.7 317.6h0M124.0 320.7h0M92.9 337.5h0M149.5 306.7h0M143.5 314.7h0M134.2 313.0h0M140.2 313.7h0M132.7 316.9h0M135.2 310.1h0M125.2 316.0h0M146.1 306.4h0M131.0 311.2h0M126.1 311.3h0M123.2 323.6h0M132.4 311.3h0M130.3 314.4h0M128.4 315.0h0M115.9 326.3h0M147.2 306.7h0M112.5 325.9h0M133.6 311.9h0M119.6 323.7h0M108.7 332.1h0M139.1 310.2h0M128.9 319.8h0M101.5 333.7h0M110.5 321.1h0M117.0 332.6h0M136.9 312.1h0M126.7 313.0h0M98.6 333.2h0M135.2 312.4h0M149.6 302.0h0M123.9 319.5h0M115.8 323.3h0M141.1 307.7h0M136.4 313.4h0M135.6 305.3h0M143.4 303.2h0M119.6 323.1h0M103.0 330.2h0M120.1 322.0h0M124.9 319.7h0M118.0 321.1h0M108.9 326.0h0M141.9 306.8h0M142.8 313.1h0M131.8 312.9h0M98.5 338.6h0M134.2 316.8h0M140.8 307.4h0M135.6 313.5h0M135.8 309.6h0M117.4 320.5h0M138.2 317.1h0M117.9 322.1h0M137.7 309.7h0M108.0 327.0h0M124.8 316.4h0M124.5 318.4h0M136.9 315.3h0M141.4 309.2h0M115.7 325.0h0M127.1 314.8h0M113.6 330.3h0M133.2 308.3h0M128.5 317.7h0M115.4 329.7h0M123.5 323.8h0M125.8 317.0h0M123.3 316.0h0M124.5 320.1h0M139.3 307.3h0M108.6 328.4h0M131.5 315.2h0M106.9 326.0h0M132.5 312.0h0M131.3 312.2h0M128.4 314.4h0M115.6 321.4h0M136.3 310.8h0M152.1 302.9h0M134.6 315.3h0M153.2 305.1h0M115.5 322.3h0M119.1 321.4h0M142.1 307.3h0M128.0 313.5h0M133.3 320.4h0M121.6 318.3h0M139.5 313.5h0M154.1 300.0h0M109.8 327.5h0M155.2 303.2h0M124.9 314.5h0M119.9 323.2h0M128.1 314.7h0M127.4 321.2h0M116.6 324.7h0M141.1 310.1h0M126.3 322.7h0M128.7 321.6h0M132.4 318.8h0M118.5 319.6h0M123.0 320.0h0M132.2 316.2h0M116.1 319.4h0M131.8 314.0h0M144.2 313.0h0M137.4 315.3h0M119.2 327.8h0M130.9 314.4h0M116.2 320.7h0M123.4 319.9h0M117.0 325.2h0M139.4 311.6h0" stroke="#000" stroke-opacity="0.85" stroke-width="1.30" stroke-linecap="round" fill="none"/>
<path d="M120.1 323.8h0M128.4 318.8h0M140.1 309.2h0M119.7 326.6h0M115.3 323.2h0M115.9 323.7h0M112.9 320.3h0M111.3 326.1h0M128.7 316.0h0M122.8 322.5h0M109.1 329.3h0M143.4 310.1h0M127.1 317.8h0M124.1 315.5h0M147.6 303.2h0M137.1 312.8h0M130.7 319.5h0M122.0 313.9h0M140.0 304.4h0M99.8 331.7h0M120.1 322.7h0M131.2 320.0h0M135.2 313.5h0M128.7 317.9h0M149.0 302.1h0M132.1 317.9h0M122.4 317.4h0M143.5 309.6h0M130.6 321.9h0M128.6 314.6h0M119.2 324.9h0M119.7 319.9h0M135.2 311.3h0M116.8 323.7h0M117.6 320.7h0M127.8 323.0h0M115.7 325.7h0M145.8 307.9h0M129.5 320.0h0M129.0 320.6h0M124.4 316.1h0M123.6 318.5h0M137.3 308.2h0M107.2 333.0h0M116.1 326.2h0M120.2 324.7h0M142.8 311.2h0M124.4 324.4h0M139.5 312.7h0M132.9 319.6h0M122.6 326.9h0M125.7 313.4h0M121.3 319.4h0M115.8 322.1h0M126.6 313.9h0M117.2 325.9h0M127.8 315.8h0M122.9 319.9h0M131.6 314.8h0M116.4 323.8h0M119.6 320.7h0M148.7 301.9h0M123.8 318.5h0M124.9 313.5h0M131.4 315.4h0M121.8 324.0h0M119.4 322.0h0M131.0 308.2h0M138.4 311.9h0M139.7 311.4h0M143.9 313.5h0M122.1 324.9h0M107.1 330.0h0M133.1 311.1h0M136.8 313.1h0M128.9 318.0h0M131.0 321.9h0M131.5 319.3h0M120.1 328.7h0M127.5 318.0h0M134.9 315.7h0M145.2 305.0h0M125.5 319.9h0M123.5 322.8h0M93.3 338.7h0M132.4 315.9h0M131.4 312.1h0M127.8 320.5h0M126.2 320.5h0M121.5 329.1h0M133.3 306.2h0M130.4 318.5h0M142.8 306.7h0M130.4 316.4h0M113.1 330.6h0M131.6 318.3h0M114.6 326.4h0M153.2 303.0h0M138.8 311.4h0M118.0 323.2h0M113.7 325.7h0M148.5 306.8h0M139.6 307.4h0M140.4 309.9h0M120.4 321.2h0M131.5 313.0h0M112.0 324.6h0M122.2 320.2h0M111.9 324.9h0M128.7 321.9h0M133.9 306.9h0M136.4 316.3h0M120.5 318.7h0M108.9 324.1h0M106.4 328.0h0M126.5 320.4h0M135.3 317.0h0M121.9 317.8h0M107.2 330.2h0M124.4 322.3h0M139.0 311.4h0M127.5 315.1h0M140.3 308.5h0M118.7 326.4h0M134.3 309.6h0M135.5 304.0h0M125.3 317.8h0M125.5 316.0h0M149.8 308.3h0M121.8 324.3h0M124.2 317.9h0M114.6 330.9h0M108.4 329.4h0M132.8 310.5h0M127.4 327.6h0M140.6 308.2h0M113.6 329.9h0M130.9 318.0h0M117.3 322.7h0M128.8 318.8h0M119.2 327.6h0M125.7 321.2h0M132.2 318.1h0M143.1 305.5h0M109.9 323.9h0M134.8 318.0h0M141.1 309.1h0M132.4 316.2h0M130.5 315.0h0M139.8 311.7h0M135.0 311.5h0M133.0 316.1h0M120.9 324.7h0M137.1 316.8h0M111.9 320.1h0M125.9 314.8h0M135.6 314.0h0M136.7 311.4h0M145.5 303.8h0M132.0 314.8h0M109.5 326.8h0M115.3 327.7h0M129.4 316.7h0M125.7 321.9h0M125.4 323.5h0M125.0 315.8h0M133.7 316.3h0M127.7 318.2h0M106.1 332.0h0M152.4 304.2h0M118.0 321.0h0M117.0 323.8h0M140.3 308.8h0M112.6 327.0h0M134.7 316.2h0M124.3 321.3h0M137.2 310.6h0M130.2 312.9h0M137.7 311.4h0M137.0 319.3h0M134.1 317.2h0M125.3 319.5h0M126.1 317.8h0M122.9 319.4h0M126.2 323.0h0M127.9 317.5h0M146.3 301.2h0M126.8 315.8h0M110.5 328.9h0M123.2 325.0h0M144.5 308.3h0M115.0 326.9h0M117.9 319.7h0M140.1 310.9h0M118.1 326.9h0M131.9 317.3h0M124.6 327.7h0M136.1 311.7h0M140.4 305.0h0M102.9 336.1h0M95.6 338.2h0M133.3 320.2h0M111.9 329.0h0M121.0 324.1h0M132.6 312.6h0M124.5 321.3h0M147.6 307.9h0M130.8 315.4h0M121.8 320.5h0M114.3 321.4h0M135.1 313.1h0M129.7 316.6h0M124.6 319.4h0M142.1 309.0h0M129.8 321.3h0M136.5 307.9h0M122.8 315.1h0M121.2 323.5h0M128.9 313.2h0M134.8 316.6h0M139.2 306.8h0M133.9 316.0h0M131.7 317.1h0M128.9 319.2h0M126.8 321.3h0M112.7 327.9h0M154.7 301.8h0M109.9 326.9h0M128.1 321.8h0M134.2 307.5h0M134.2 310.5h0M138.2 310.8h0M125.9 319.3h0M146.4 304.6h0M127.6 313.3h0M132.0 318.6h0M119.3 323.6h0M136.4 314.4h0M128.1 319.1h0M129.2 321.7h0M116.8 328.0h0M125.4 316.9h0M119.9 324.0h0M132.4 306.4h0M110.1 325.0h0M131.2 314.7h0M128.5 314.3h0M133.1 313.3h0M113.5 324.7h0M98.7 337.6h0M132.7 315.6h0M122.4 321.9h0M116.9 322.0h0M109.6 328.9h0M113.9 326.7h0M113.8 324.8h0M133.8 313.8h0M115.4 329.9h0M136.2 308.8h0M130.4 319.7h0M124.9 323.6h0M119.7 319.1h0M120.2 324.6h0M148.2 308.4h0M134.7 314.6h0M146.6 303.3h0M134.9 313.2h0M116.7 320.5h0M111.5 324.2h0M127.4 321.2h0M121.7 323.3h0M107.9 331.1h0M116.9 318.5h0M136.2 314.8h0M146.4 313.2h0M136.5 320.4h0M133.9 316.1h0M112.5 330.6h0M140.4 306.9h0M120.6 316.2h0M119.6 321.0h0M140.1 311.4h0M119.9 322.3h0M142.9 308.0h0M126.0 318.8h0M146.2 308.9h0M122.8 316.3h0M122.1 316.1h0M139.3 318.2h0M136.3 313.6h0M122.4 320.3h0M126.7 317.4h0M142.9 308.2h0M123.5 315.7h0M124.4 311.8h0M120.4 324.1h0M128.3 314.5h0M123.2 321.1h0M128.6 322.6h0M132.7 309.4h0M120.4 323.8h0M126.2 324.2h0M117.0 322.5h0M117.6 324.2h0M124.4 318.6h0M108.7 327.6h0M129.1 319.7h0M119.9 325.7h0M127.3 317.7h0M129.9 314.1h0M136.1 315.6h0M142.9 304.6h0M121.0 320.9h0M139.3 313.2h0M110.6 329.1h0M127.9 319.2h0M121.3 315.4h0M143.7 311.0h0M114.9 320.8h0M134.6 313.3h0M119.2 325.0h0M129.9 321.3h0M120.9 316.2h0M127.9 322.2h0M126.7 318.4h0M147.3 306.4h0M137.8 309.4h0M124.1 313.8h0M134.0 316.2h0M132.5 314.6h0M118.4 323.7h0M121.7 325.9h0M134.1 319.6h0M128.8 315.2h0M134.3 312.3h0M126.7 318.5h0M118.9 320.9h0M159.1 296.6h0M103.2 334.4h0M112.7 328.2h0M123.4 320.4h0M138.8 311.1h0M126.9 315.6h0M144.3 309.8h0M133.7 308.5h0M133.3 317.4h0M113.8 326.6h0M98.1 336.9h0M136.0 318.8h0M123.4 322.9h0M127.6 317.0h0M107.6 330.5h0M141.3 305.5h0M111.6 330.3h0M117.2 324.7h0M110.6 331.1h0M136.0 316.6h0M127.3 319.6h0M113.2 325.4h0M124.2 321.2h0M128.6 312.0h0M126.8 318.5h0M129.5 312.0h0M132.0 314.5h0M122.9 319.6h0M135.9 309.8h0M118.7 325.9h0M107.9 330.9h0M124.8 318.7h0M111.3 333.9h0M126.3 315.2h0M127.0 313.4h0M139.0 311.9h0M124.6 319.2h0M135.2 308.8h0M142.9 305.7h0M125.4 315.1h0M132.7 317.8h0M138.1 306.5h0M123.0 319.3h0M124.9 320.9h0M154.6 302.3h0M129.4 317.6h0M122.4 321.9h0M122.3 323.1h0M130.2 317.4h0M141.5 309.1h0M126.1 320.1h0M130.8 315.1h0M140.9 307.1h0M124.2 320.9h0M131.9 313.5h0M140.2 313.7h0M136.1 317.7h0M113.4 325.9h0M142.2 312.2h0M127.4 314.3h0M115.4 329.5h0M111.5 319.7h0M122.4 322.6h0M147.7 308.4h0M145.1 305.9h0M113.8 323.4h0M156.2 301.0h0M130.9 319.4h0M119.7 320.7h0M123.9 316.3h0M112.0 323.6h0M122.2 320.2h0M132.5 321.9h0M124.4 324.1h0M139.8 313.7h0M135.2 314.5h0M136.5 311.9h0M128.1 320.4h0M128.8 318.1h0M127.8 316.1h0M123.2 321.6h0M125.2 313.9h0M110.8 331.9h0M121.9 318.4h0M125.8 318.1h0M136.9 317.0h0M137.8 314.2h0M132.6 316.3h0M122.6 314.9h0M130.3 315.4h0M102.4 331.6h0M131.5 315.3h0M132.5 317.9h0M125.5 317.3h0M126.6 320.5h0M137.7 314.9h0M132.9 314.8h0M123.3 316.9h0M105.8 333.2h0M131.7 310.9h0M109.7 324.5h0M136.1 317.2h0M118.8 318.0h0M119.0 320.2h0M139.9 314.6h0M116.0 325.3h0M142.0 313.1h0M155.6 300.4h0M121.7 325.9h0M126.0 318.8h0M119.5 321.3h0M121.2 317.6h0M132.2 317.5h0M114.0 326.2h0M105.9 330.7h0M114.8 326.4h0M130.4 316.5h0M132.0 315.9h0M126.2 320.4h0M155.9 297.8h0M108.2 330.1h0M110.0 330.3h0M146.1 305.9h0M111.3 325.6h0M140.9 304.0h0M128.7 315.0h0M113.4 324.6h0M134.2 309.4h0M144.2 309.2h0M137.7 315.9h0M116.0 328.4h0M135.0 311.3h0M137.2 316.3h0M123.4 315.9h0M117.4 322.8h0M137.6 309.6h0M130.7 317.1h0M117.5 326.3h0M126.5 318.3h0M109.8 324.7h0M135.0 312.7h0M116.0 315.9h0M143.1 305.9h0M146.0 311.8h0M123.3 318.7h0M128.7 320.8h0M125.8 316.6h0M116.0 321.0h0M100.6 333.1h0M136.3 317.4h0M116.3 322.0h0M136.5 308.7h0M122.1 321.6h0M116.1 329.3h0M141.2 308.9h0M131.7 310.3h0M116.6 321.3h0M121.2 319.1h0M137.8 310.5h0M138.9 308.9h0M111.0 325.2h0M115.5 325.7h0M118.4 321.3h0M113.0 325.2h0M132.5 319.8h0M115.7 323.4h0M151.0 305.7h0M102.6 327.1h0M124.6 327.8h0M118.1 323.6h0M118.5 319.8h0M114.4 329.0h0M121.7 318.8h0M143.4 319.5h0M133.6 316.4h0M118.0 324.2h0M138.0 309.2h0M119.2 323.1h0M122.3 315.1h0M132.7 311.6h0M119.0 317.1h0M151.1 304.1h0M133.8 310.9h0M118.3 319.9h0M133.9 311.8h0M149.7 305.3h0M123.7 316.2h0M123.1 312.7h0M138.6 310.0h0M121.8 326.7h0M126.8 323.3h0M125.4 326.8h0M119.8 321.3h0M129.4 313.8h0M115.9 324.1h0M136.4 317.9h0M121.6 317.6h0M130.0 316.1h0M119.7 323.3h0M132.9 309.7h0M136.9 319.5h0M130.9 318.7h0M124.4 321.8h0M121.6 324.4h0M118.7 320.1h0M138.6 311.0h0M124.3 322.6h0M138.5 313.2h0M120.1 318.8h0M128.5 312.9h0M127.9 320.6h0M152.1 303.1h0M108.3 328.3h0M150.8 306.0h0M133.1 309.7h0M114.8 323.1h0M135.8 311.3h0M141.9 306.1h0M117.9 326.0h0M148.4 305.2h0M136.5 313.2h0M138.2 312.8h0M120.5 325.1h0M107.7 327.3h0M117.3 327.6h0M112.8 323.1h0M125.8 312.7h0M129.7 316.3h0M124.1 317.3h0M126.9 314.7h0M118.1 323.3h0M133.3 313.0h0M107.5 326.7h0M140.0 309.8h0M129.0 316.2h0M117.0 318.3h0M113.1 324.1h0M110.6 327.7h0M109.8 326.7h0M135.6 309.8h0M101.3 336.6h0M117.8 322.4h0M130.6 319.7h0M111.5 329.5h0M124.1 323.5h0M113.1 327.1h0M131.8 318.2h0M139.1 310.5h0M147.2 304.9h0M124.4 322.1h0M131.0 323.1h0M129.4 318.2h0M130.4 319.3h0M120.7 323.2h0M136.2 311.2h0M124.7 317.2h0M125.1 321.6h0M138.1 306.9h0M128.1 316.0h0M130.5 312.3h0M130.5 311.5h0M122.4 314.8h0M104.2 330.6h0M114.7 325.6h0M117.7 324.7h0M139.9 311.4h0M117.7 320.6h0M112.6 324.7h0M125.8 317.8h0M131.0 321.0h0M126.3 317.7h0M120.2 316.4h0M116.2 324.4h0M133.7 310.2h0M144.8 307.1h0M106.7 327.2h0M130.6 314.5h0M134.8 316.2h0M101.9 331.5h0M116.6 322.0h0M116.1 328.7h0M136.2 315.9h0M139.1 308.2h0M123.2 319.9h0M122.3 317.0h0M121.6 321.7h0M146.9 307.9h0M124.1 322.2h0M113.5 326.3h0M126.7 323.3h0M118.3 327.3h0M137.1 315.5h0M125.2 325.5h0M139.3 307.8h0M150.1 305.8h0M108.1 330.7h0M120.2 326.4h0M122.9 317.1h0M132.6 316.5h0M112.1 328.2h0M107.3 330.2h0M137.0 319.5h0M103.8 332.5h0M126.6 319.0h0M109.6 329.3h0M127.3 311.9h0M141.1 308.5h0M116.4 322.1h0M131.3 314.6h0M139.7 311.6h0M129.5 315.6h0M114.2 327.6h0M99.2 334.2h0M120.5 323.5h0M134.5 313.5h0M131.7 314.1h0M117.3 322.6h0M139.6 313.0h0M124.3 319.0h0M144.0 308.6h0M126.3 321.4h0M124.4 320.1h0M118.6 325.7h0M139.1 310.1h0M133.5 315.5h0M139.6 309.3h0M117.8 324.3h0M124.2 328.2h0M108.2 329.1h0M137.8 310.1h0M136.3 321.2h0M121.9 316.0h0M145.8 302.3h0M119.6 319.8h0M126.6 319.4h0M118.3 323.8h0M118.6 329.1h0M128.1 314.5h0M98.2 339.1h0M125.4 316.1h0M116.2 331.4h0M118.8 324.9h0M119.4 318.2h0M132.9 314.8h0M128.7 319.9h0M106.0 330.2h0M120.9 325.2h0M133.0 320.4h0M158.2 300.2h0M125.5 320.0h0M141.5 310.5h0M123.3 313.8h0M117.4 326.7h0M128.1 317.8h0M122.2 319.3h0M125.1 327.7h0M120.0 321.9h0M127.7 319.7h0M119.5 324.5h0M113.0 327.8h0M125.1 312.7h0M131.1 317.0h0M123.3 320.3h0" stroke="#000" stroke-opacity="0.85" stroke-width="1.30" stroke-linecap="round" fill="none"/>
<path d="M143.2 308.9h0M106.8 333.8h0M125.2 324.6h0M121.1 322.3h0M128.0 319.0h0M129.0 317.5h0M125.5 316.8h0M144.1 311.2h0M134.3 311.0h0M135.1 314.2h0M118.5 315.9h0M148.2 308.6h0M113.2 331.4h0M128.5 310.5h0M120.4 323.8h0M115.9 325.7h0M134.7 310.1h0M140.8 312.9h0M137.3 312.4h0M137.1 311.4h0M121.9 315.3h0M129.2 316.5h0M124.9 321.0h0M129.3 311.7h0M137.7 312.6h0M124.5 317.4h0M110.7 324.4h0M141.0 311.4h0M121.5 317.9h0M130.9 316.1h0M114.8 323.4h0M128.9 311.6h0M108.6 329.9h0M118.3 324.6h0M132.6 317.3h0M115.9 324.5h0M121.1 322.8h0M124.3 321.4h0M135.3 319.2h0M136.7 316.7h0M117.1 325.9h0M129.0 317.0h0M128.0 315.9h0M115.6 332.4h0M119.1 316.5h0M147.1 309.7h0M106.6 327.3h0M138.7 307.1h0M129.8 315.2h0M126.9 315.1h0M132.4 316.5h0M116.1 325.3h0M101.3 334.7h0M124.7 317.9h0M125.1 318.8h0M129.5 315.1h0M127.1 314.6h0M122.2 316.5h0M139.1 308.6h0M112.4 330.9h0M139.5 311.8h0M134.1 317.9h0M121.9 318.7h0M110.4 331.4h0M121.1 316.6h0M95.5 338.9h0M133.3 315.2h0M136.1 312.0h0M116.4 325.3h0M132.3 315.6h0M127.0 314.3h0M127.5 322.0h0M123.0 316.3h0M122.2 319.2h0M144.9 308.7h0M124.4 323.4h0M126.4 319.6h0M129.7 310.0h0M93.0 338.6h0M128.5 316.3h0M120.7 326.7h0M136.7 316.1h0M141.7 311.5h0M131.2 316.8h0M105.3 328.9h0M105.1 331.0h0M125.5 318.1h0M121.7 320.7h0M138.2 309.3h0M116.8 321.8h0M121.8 321.8h0M134.0 310.1h0M115.8 328.4h0M116.3 325.1h0M113.6 324.9h0M133.3 318.6h0M118.9 325.7h0M128.0 316.7h0M120.9 322.3h0M109.8 327.9h0M117.0 317.2h0M127.9 316.0h0M113.9 326.4h0M133.4 315.0h0M121.8 321.7h0M120.5 323.6h0M119.7 316.7h0M115.5 323.4h0M129.5 316.9h0M120.3 317.8h0M119.2 317.4h0M125.6 314.1h0M113.4 326.9h0M134.0 314.5h0M124.6 322.5h0M136.4 314.3h0M125.7 315.9h0M126.9 322.9h0M119.3 324.7h0M122.5 317.4h0M159.8 297.7h0M116.1 327.3h0M101.1 332.8h0M140.7 307.7h0M130.0 317.9h0M144.2 309.3h0M126.3 322.4h0M125.4 325.8h0M133.1 309.9h0M138.9 312.9h0M137.1 308.5h0M126.1 314.0h0M123.6 319.5h0M138.1 314.6h0M134.1 316.1h0M140.5 310.6h0M116.3 324.1h0M146.9 308.2h0M123.6 319.0h0M127.4 323.2h0M137.7 314.5h0M105.1 331.4h0M133.9 322.4h0M139.6 313.1h0M123.7 323.7h0M118.4 328.6h0M144.0 314.5h0M140.1 313.6h0M124.7 317.7h0M135.3 311.3h0M128.2 314.5h0M123.1 320.0h0M139.0 309.7h0M122.5 322.7h0M136.2 313.2h0M132.2 316.2h0M153.1 302.9h0M142.2 310.1h0M144.6 305.3h0M127.1 321.1h0M129.3 323.3h0M113.4 321.4h0M106.9 330.8h0M112.8 324.5h0M143.3 305.7h0M114.8 327.5h0M128.9 314.9h0M140.8 309.8h0M115.2 323.8h0M119.1 319.5h0M129.7 314.4h0M120.2 325.5h0M124.8 312.0h0M123.3 322.9h0M121.1 320.9h0M128.4 321.2h0M147.6 305.5h0M122.2 321.7h0M120.6 328.5h0M140.7 313.6h0M132.8 316.5h0M145.0 305.0h0M111.3 330.9h0M130.5 309.8h0M123.3 319.3h0M125.6 323.9h0M142.6 309.4h0M130.7 314.9h0M127.4 317.2h0M139.0 312.1h0M113.8 329.2h0M115.6 318.8h0M112.0 326.8h0M113.2 328.6h0M121.7 322.0h0M130.9 315.3h0M131.8 315.7h0M141.5 313.1h0M144.1 312.1h0M123.5 323.6h0M124.7 318.3h0M147.1 305.0h0M139.0 314.7h0M131.1 311.5h0M113.4 325.3h0M108.1 332.4h0M131.4 314.2h0M114.5 330.0h0M143.8 302.0h0M150.6 303.0h0M112.6 323.1h0M125.3 317.0h0M118.5 317.8h0M117.3 325.7h0M151.5 301.8h0M133.7 316.7h0M138.6 312.1h0M124.9 322.8h0M153.8 303.3h0M142.3 307.2h0M124.5 323.4h0M118.9 323.8h0M131.1 313.8h0M130.1 312.4h0M132.3 316.2h0M122.9 318.7h0M116.4 325.1h0M115.6 323.5h0M133.8 314.4h0M139.8 306.9h0M138.7 308.8h0M127.9 311.4h0M135.0 312.5h0M133.0 320.2h0M120.5 323.8h0M132.1 316.0h0M132.4 314.8h0M148.1 312.1h0M130.2 313.5h0M108.5 331.2h0M130.4 314.0h0M133.5 311.7h0M124.9 320.6h0M112.6 327.7h0M141.7 310.3h0M133.0 311.1h0M116.4 324.6h0M94.7 340.5h0M132.0 322.1h0M119.7 320.6h0M135.1 313.6h0M144.4 307.7h0M131.5 317.0h0M131.8 315.6h0M115.3 323.8h0M119.7 321.6h0M132.5 317.2h0M113.4 333.0h0M136.8 316.7h0M134.8 318.5h0M119.5 323.2h0M102.1 334.2h0M131.5 315.3h0M139.3 312.4h0M145.1 305.9h0M145.5 303.8h0M116.1 321.7h0M113.4 326.8h0M136.4 313.7h0M137.2 317.0h0M148.3 305.2h0M120.5 321.3h0M110.8 328.4h0M144.2 306.6h0M166.4 292.9h0M146.0 310.1h0M125.2 320.3h0M118.9 326.1h0M134.6 311.2h0M136.6 313.9h0M146.4 311.3h0M133.4 316.2h0M133.5 317.4h0M103.9 331.4h0M126.8 315.3h0M140.6 311.3h0M142.1 307.2h0M136.4 313.4h0M137.6 314.5h0M138.6 317.3h0M139.4 308.2h0M117.2 327.3h0M141.3 312.7h0M134.5 318.7h0M118.7 327.6h0M140.6 315.5h0M112.5 324.1h0M125.7 319.2h0M127.5 317.5h0M129.5 312.7h0M128.8 316.4h0M125.4 315.1h0M138.4 304.2h0M134.9 318.3h0M138.4 313.4h0M108.6 329.3h0M124.8 326.1h0M123.5 318.4h0M127.1 320.8h0M116.0 324.4h0M140.6 309.9h0M125.6 324.6h0M139.8 315.9h0M127.8 317.8h0M135.3 318.8h0M114.1 323.9h0M138.8 310.6h0M127.1 311.5h0M116.1 328.1h0M115.9 317.5h0M124.7 318.2h0M125.8 319.0h0M132.0 312.4h0M121.1 320.6h0M118.0 319.3h0M126.8 316.0h0M138.3 313.1h0M115.7 329.7h0M113.1 330.0h0M136.3 307.4h0M149.7 306.9h0M135.7 316.9h0M129.6 315.8h0M111.8 329.6h0M155.4 302.1h0M121.9 327.1h0M133.3 313.4h0M131.6 320.2h0M117.4 329.8h0M131.1 314.2h0M133.6 311.3h0M137.2 313.3h0M133.7 320.9h0M134.2 314.5h0M140.7 309.8h0M140.4 315.6h0M134.3 307.0h0M126.5 317.2h0M148.6 304.7h0M112.1 328.0h0M137.8 308.2h0M123.5 324.7h0M127.4 311.3h0M124.4 323.4h0M137.4 314.6h0M126.4 318.6h0M125.3 319.6h0M137.4 311.7h0M124.5 314.5h0M130.7 321.2h0M125.7 317.3h0M117.0 319.2h0M143.6 305.9h0M137.8 321.0h0M115.6 328.2h0M131.6 317.6h0M124.6 316.7h0M131.4 317.1h0M123.7 317.4h0M112.5 327.3h0M139.3 315.0h0M126.8 314.4h0M114.7 322.3h0M124.6 325.7h0M133.4 316.2h0M114.1 325.7h0M117.0 318.8h0M145.0 311.2h0M121.8 320.0h0M120.6 323.7h0M140.4 310.1h0M127.0 318.0h0M132.1 316.6h0M132.3 315.0h0M128.8 316.3h0M140.8 306.5h0M141.7 310.8h0M126.4 321.1h0M112.5 327.4h0M131.5 316.5h0M140.1 307.4h0M113.1 327.7h0M96.9 335.9h0M139.2 308.4h0M136.1 312.2h0M141.7 313.5h0M115.2 328.5h0M126.9 318.0h0M140.5 311.1h0M124.0 317.9h0M129.4 317.9h0M132.7 310.7h0M128.8 317.0h0M134.6 315.4h0M146.1 309.1h0M111.8 327.7h0M152.0 303.6h0M130.1 313.3h0M117.2 314.5h0M130.3 317.2h0M136.3 312.8h0M138.0 313.5h0M149.4 306.0h0M127.0 316.8h0M125.8 320.9h0M136.8 306.2h0M157.4 302.2h0M137.2 312.0h0M113.5 323.8h0M129.5 317.3h0M115.3 324.5h0M110.4 329.3h0M133.1 314.8h0M147.5 305.9h0M134.7 311.5h0M134.7 321.0h0M131.2 315.0h0M108.0 331.2h0M113.7 318.7h0M134.6 317.5h0M135.0 312.6h0M145.4 309.5h0M138.7 313.0h0M123.3 311.8h0M113.9 325.4h0M115.9 324.8h0M140.8 308.0h0M137.6 315.7h0M130.8 316.9h0M115.0 325.7h0M107.0 333.6h0M118.4 324.8h0M116.9 322.1h0M143.7 309.6h0M139.4 311.1h0M131.0 313.9h0M118.9 318.4h0M132.5 317.2h0M120.2 324.2h0M119.9 320.8h0M140.0 312.0h0M127.9 316.0h0M151.6 303.6h0M129.4 320.2h0M119.6 319.4h0M122.2 322.6h0M108.4 327.7h0M113.8 325.2h0M110.9 329.7h0M108.3 332.6h0M133.6 317.4h0M127.2 319.2h0M159.6 298.8h0M136.0 317.1h0M133.0 310.8h0M127.0 318.3h0M130.1 310.8h0M135.5 312.3h0M133.2 310.4h0M130.3 319.7h0M134.8 311.9h0M122.9 320.4h0M122.8 319.5h0M120.4 323.1h0M126.0 320.1h0M118.7 326.3h0M119.5 326.3h0M101.7 333.5h0M140.0 312.6h0M129.3 314.2h0M117.4 322.3h0M152.7 302.5h0M137.5 312.2h0M118.5 322.2h0M124.3 318.2h0M123.5 320.1h0M127.8 317.7h0M102.8 334.2h0M138.6 304.9h0M104.0 330.4h0M132.7 316.6h0M144.2 311.5h0M114.8 323.6h0M137.7 308.5h0M135.6 307.8h0M109.0 331.4h0M140.0 321.2h0M129.0 319.7h0M139.9 312.1h0M119.9 322.6h0M101.6 333.2h0M121.4 316.1h0M125.2 317.5h0M125.0 318.9h0M141.3 311.3h0M140.4 308.4h0M138.1 304.4h0M116.9 322.1h0M129.8 318.0h0M138.3 312.5h0M121.4 316.1h0M105.4 330.6h0M133.8 318.9h0M116.5 325.2h0M115.5 328.0h0M121.3 314.4h0M129.2 319.8h0M126.9 317.9h0M155.9 300.7h0M123.7 320.7h0M132.8 309.2h0M136.9 311.9h0M136.5 306.2h0M116.5 324.7h0M132.2 319.4h0M137.2 307.8h0M124.2 319.8h0M134.7 315.2h0M123.7 318.3h0M149.8 302.4h0M138.1 313.0h0M125.7 322.5h0M123.9 319.1h0M128.9 321.4h0M129.8 316.0h0M113.3 326.5h0M130.5 311.1h0M110.0 329.6h0M142.2 307.9h0M109.3 330.2h0M132.8 308.8h0M113.5 327.6h0M138.1 317.6h0M110.6 324.6h0M122.4 322.9h0M133.4 316.3h0M130.6 317.3h0M129.8 323.7h0M155.2 300.9h0M125.9 327.0h0M142.5 304.2h0M142.7 303.9h0M121.4 321.5h0M142.9 307.8h0M135.8 311.9h0M121.6 326.7h0M114.9 324.4h0M91.2 341.4h0M154.8 300.3h0M109.5 329.3h0M116.3 323.3h0M130.1 317.4h0M154.6 300.4h0M130.6 316.2h0M131.8 313.8h0M150.9 304.6h0M125.3 317.1h0M121.9 319.8h0M134.7 314.6h0M121.8 320.6h0M135.8 316.4h0M126.6 313.4h0M116.2 321.1h0M119.7 318.0h0M121.4 325.3h0M146.1 307.9h0M93.7 339.2h0M127.0 318.7h0M137.0 315.3h0M111.0 332.5h0M103.3 336.7h0M114.5 323.5h0M123.7 324.6h0M122.7 315.8h0M128.3 314.1h0M141.7 308.6h0M128.4 315.0h0M107.9 326.4h0M121.5 325.1h0M150.7 303.5h0M110.8 332.2h0M141.5 306.6h0M131.7 317.5h0M151.5 302.8h0M108.4 325.6h0M116.4 327.0h0M127.5 320.3h0M137.5 311.5h0M134.4 309.3h0M117.7 322.3h0M132.8 313.3h0M113.0 321.5h0M119.6 322.2h0M141.3 307.3h0M150.8 305.9h0M128.8 319.3h0M114.8 326.8h0M122.4 322.9h0M131.2 321.7h0M124.3 313.9h0M131.6 312.8h0M139.5 309.7h0M96.2 334.3h0M120.8 320.2h0M120.1 321.6h0M122.4 320.1h0M118.5 318.4h0M135.6 314.0h0M126.0 318.1h0M145.8 307.2h0M131.2 315.6h0M110.0 328.1h0M111.2 325.3h0M135.3 313.5h0M119.8 322.4h0M127.7 317.8h0M123.7 318.3h0M148.2 309.1h0M121.4 322.9h0M151.5 301.1h0M131.5 318.0h0M120.8 319.7h0M124.1 317.2h0M103.2 329.9h0M126.4 320.0h0M120.2 319.7h0M109.6 330.6h0M124.9 323.9h0M131.3 318.5h0M141.6 307.0h0M140.3 311.9h0M125.9 316.8h0M124.7 318.5h0M130.4 316.6h0M120.8 326.9h0M131.6 319.2h0M139.4 313.7h0M113.7 325.8h0M116.9 323.7h0M130.7 317.5h0M127.5 321.0h0M117.4 318.3h0M122.5 317.0h0M140.1 307.2h0M130.2 320.9h0M141.1 307.4h0M118.0 325.0h0M140.9 312.0h0M125.3 314.6h0M144.0 302.6h0M129.0 317.8h0M110.8 322.6h0M128.6 319.1h0M127.9 317.0h0M131.7 315.3h0M107.4 332.3h0M143.7 307.4h0M139.1 310.8h0M112.9 322.5h0M143.2 309.1h0M144.2 307.5h0M144.3 307.5h0M127.6 318.5h0M117.8 320.4h0M120.8 318.9h0M130.8 312.8h0M120.0 315.6h0M125.1 323.6h0M110.9 324.9h0M128.4 320.7h0M154.3 300.2h0M138.1 307.3h0M122.1 322.3h0M129.9 322.3h0M112.6 329.4h0M140.3 311.7h0M143.6 305.9h0M132.2 318.0h0M136.8 311.7h0M128.0 313.7h0M130.2 321.0h0M144.8 300.5h0M121.2 326.3h0M144.2 308.4h0M136.9 315.4h0M127.8 319.8h0M134.3 312.5h0M115.8 324.3h0M106.7 332.0h0M121.9 319.7h0" stroke="#000" stroke-opacity="0.85" stroke-width="1.30" stroke-linecap="round" fill="none"/>
<path d="M127.7 310.1h0M131.2 315.5h0M127.2 317.6h0M129.1 315.1h0M118.9 320.4h0M114.5 321.4h0M148.5 301.7h0M137.3 312.1h0M124.8 320.7h0M133.8 318.0h0M143.7 311.0h0M128.4 317.9h0M118.4 320.8h0M129.6 319.5h0M119.2 315.7h0M132.3 317.2h0M111.5 326.7h0M129.8 314.5h0M136.3 312.6h0M100.6 333.4h0M137.2 314.5h0M141.7 308.4h0M136.0 314.7h0M131.1 313.0h0M117.3 328.7h0M141.7 307.3h0M135.2 313.6h0M122.6 320.5h0M128.0 316.2h0M113.0 325.4h0M116.5 324.6h0M125.9 319.1h0M136.1 314.9h0M128.2 322.8h0M140.1 309.5h0M120.6 319.2h0M118.2 322.3h0M123.3 319.6h0M122.5 317.1h0M121.9 315.3h0M119.5 317.2h0M121.4 317.7h0M141.8 308.7h0M137.0 314.3h0M144.5 306.1h0M135.7 306.9h0M116.3 320.2h0M152.2 305.9h0M122.3 321.2h0M133.8 321.7h0M137.5 313.3h0M156.2 300.1h0M125.2 317.7h0M124.9 316.2h0M112.8 327.0h0M124.2 317.1h0M113.8 329.5h0M145.2 310.2h0M133.7 315.9h0M130.6 313.7h0M147.8 303.2h0M113.5 325.8h0M112.6 323.3h0M122.7 324.7h0M137.1 319.1h0M116.0 326.8h0M131.2 317.0h0M149.0 308.1h0M151.5 301.9h0M127.1 322.3h0M125.8 310.2h0M113.1 324.7h0M125.5 315.4h0M145.7 306.5h0M129.4 319.3h0M126.3 316.5h0M132.1 313.9h0M114.1 329.0h0M127.9 309.9h0M120.1 323.6h0M121.7 320.8h0M132.1 318.9h0M132.4 308.0h0M120.1 323.8h0M143.5 306.9h0M105.4 333.7h0M112.1 326.0h0M116.5 318.8h0M108.3 333.6h0M110.3 328.7h0M122.3 315.8h0M131.3 326.2h0M137.0 311.3h0M122.3 318.1h0M139.6 311.5h0M119.8 326.0h0M125.8 319.4h0M121.6 322.0h0M137.5 308.4h0M130.4 317.1h0M132.4 313.8h0M149.9 302.4h0M129.7 315.3h0M144.2 311.8h0M123.1 322.4h0M120.6 317.7h0M113.8 325.1h0M135.3 311.4h0M127.4 312.4h0M141.9 304.3h0M118.1 326.7h0M145.6 304.9h0M130.0 320.1h0M142.3 309.4h0M143.0 313.9h0M111.2 328.4h0M125.6 320.7h0M128.0 315.4h0M120.1 319.9h0M105.4 330.1h0M128.9 318.0h0M126.2 319.0h0M129.1 316.8h0M118.1 317.5h0M118.5 327.0h0M138.0 308.9h0M149.9 307.0h0M123.6 321.8h0M118.1 321.8h0M111.2 328.1h0M125.5 318.5h0M118.5 317.9h0M123.1 319.6h0M154.4 301.3h0M115.1 327.7h0M133.1 315.4h0M135.6 313.3h0M139.5 308.5h0M132.7 313.4h0M141.4 311.4h0M113.0 331.2h0M111.5 325.5h0M140.6 312.6h0M115.6 323.6h0M137.0 316.6h0M128.8 313.2h0M146.4 311.5h0M124.7 316.7h0M111.3 323.7h0M129.7 320.5h0M115.3 319.2h0M103.0 333.4h0M111.6 319.7h0M123.4 318.6h0M123.8 317.0h0M130.0 311.3h0M124.6 324.0h0M126.7 317.4h0M108.8 334.0h0M123.1 319.4h0M129.3 317.7h0M131.1 320.2h0M117.5 327.1h0M121.0 322.0h0M135.0 312.9h0M139.7 307.6h0M128.0 311.7h0M130.4 316.6h0M104.6 334.4h0M126.3 315.8h0M115.7 320.2h0M126.2 323.5h0M132.0 315.8h0M116.4 321.5h0M145.9 303.0h0M146.1 313.9h0M131.5 313.3h0M110.5 327.5h0M111.5 325.6h0M124.9 315.5h0M150.8 307.4h0M108.7 329.6h0M107.1 331.0h0M121.3 328.7h0M135.0 305.4h0M120.9 324.1h0M134.9 315.4h0M127.0 320.9h0M123.0 325.0h0M118.6 320.2h0M135.3 316.2h0M128.0 317.5h0M119.0 314.5h0M132.1 305.5h0M143.9 308.4h0M133.6 311.8h0M115.9 324.6h0M119.7 319.2h0M115.9 325.7h0M126.5 320.9h0M122.0 326.3h0M117.3 322.1h0M112.0 330.9h0M129.2 316.8h0M138.7 314.9h0M143.9 309.5h0M115.6 324.2h0M134.1 310.8h0M118.5 327.4h0M141.7 313.0h0M107.5 330.9h0M124.8 320.1h0M124.9 321.0h0M120.1 317.5h0M125.9 315.8h0M110.7 324.4h0M121.9 314.9h0M136.7 316.8h0M126.8 319.6h0M132.8 310.3h0M125.6 325.6h0M125.7 318.8h0M156.6 300.1h0M111.2 328.6h0M123.6 313.2h0M95.0 337.9h0M124.3 321.2h0M150.7 303.6h0M125.7 319.4h0M113.5 329.0h0M118.7 320.7h0M130.4 315.3h0M143.3 311.4h0M134.9 308.0h0M127.9 318.7h0M123.5 318.4h0M139.3 312.9h0M133.6 310.9h0M141.9 309.6h0M121.0 321.1h0M133.6 309.0h0M129.5 313.4h0M136.8 312.6h0M109.8 327.7h0M117.7 326.6h0M123.0 313.2h0M130.0 312.3h0M125.7 323.2h0M135.0 312.7h0M135.7 310.2h0M142.9 309.6h0M121.1 322.9h0M120.6 321.1h0M131.8 315.5h0M124.6 328.0h0M122.1 320.6h0M115.7 330.9h0M128.5 318.6h0M141.3 306.7h0M144.2 304.8h0M125.5 318.3h0M103.4 334.2h0M109.0 325.2h0M111.8 330.0h0M128.1 330.8h0M133.9 320.8h0M132.6 319.5h0M138.9 307.1h0M115.3 318.7h0M136.9 309.1h0M121.9 319.1h0M134.9 312.1h0M113.5 328.0h0M120.1 322.4h0M118.6 322.7h0M122.5 318.7h0M132.0 313.7h0M106.9 327.4h0M127.2 323.2h0M122.4 326.1h0M139.5 308.0h0M129.3 317.4h0M123.6 319.5h0M120.1 327.8h0M117.2 327.4h0M125.0 314.0h0M123.4 322.2h0M127.7 313.9h0M124.2 325.1h0M135.9 309.3h0M138.7 308.5h0M137.7 309.0h0M131.0 312.5h0M120.4 322.9h0M107.9 327.6h0M119.2 322.8h0M125.4 318.0h0M131.1 314.8h0M130.5 317.2h0M126.3 315.6h0M130.4 319.8h0M122.2 315.6h0M117.2 323.6h0M129.8 316.6h0M111.8 328.3h0M138.4 314.5h0M115.0 325.0h0M114.6 331.2h0M124.1 321.4h0M110.9 327.4h0M135.2 316.3h0M136.7 319.1h0M146.9 305.1h0M157.2 300.3h0M119.5 324.0h0M104.3 334.9h0M110.7 328.5h0M117.3 326.7h0M135.6 314.9h0M141.8 308.3h0M133.7 313.1h0M116.1 326.3h0M116.2 323.0h0M128.3 315.7h0M121.5 318.2h0M136.7 308.6h0M107.8 328.2h0M135.1 312.1h0M117.9 324.6h0M136.4 309.8h0M126.7 310.2h0M118.5 326.2h0M154.4 299.2h0M147.3 305.4h0M111.9 332.4h0M108.1 326.8h0M130.7 312.3h0M118.4 326.1h0M135.9 309.9h0M116.2 329.1h0M111.3 318.6h0M112.6 326.4h0M132.5 313.5h0M132.5 311.9h0M120.7 323.9h0M149.6 303.9h0M134.0 314.5h0M130.9 314.4h0M142.4 314.0h0M124.4 314.9h0M122.7 316.7h0M98.0 333.3h0M118.1 321.5h0M141.5 311.3h0M115.5 328.8h0M134.8 314.7h0M135.0 316.1h0M130.8 317.1h0M114.5 324.9h0M136.2 311.5h0M133.5 315.6h0M132.5 311.4h0M138.2 314.5h0M127.2 312.5h0M131.2 314.9h0M141.8 309.0h0M108.2 331.0h0M131.4 316.7h0M124.7 320.7h0M141.9 309.1h0M127.3 321.8h0M125.5 324.4h0M126.8 316.3h0M125.9 318.8h0M125.6 319.3h0M120.6 325.0h0M123.9 318.7h0M144.3 307.6h0M120.4 323.7h0M113.6 322.7h0M116.3 324.7h0M117.9 323.6h0M123.5 327.5h0M131.6 312.7h0M138.4 315.1h0M123.2 318.1h0M118.4 323.4h0M143.6 309.1h0M137.2 317.3h0M115.5 331.6h0M126.2 321.8h0M108.6 327.7h0M124.5 316.4h0M160.2 299.6h0M130.9 313.4h0M121.8 325.1h0M120.0 321.1h0M139.1 313.7h0M123.5 322.0h0M137.7 321.4h0M143.8 309.6h0M126.2 319.5h0M123.3 325.1h0M150.9 301.8h0M131.9 310.3h0M141.4 309.8h0M113.9 328.3h0M120.0 325.2h0M139.7 307.3h0M159.9 297.2h0M124.6 324.0h0M130.7 319.9h0M138.7 314.4h0M105.2 329.4h0M140.1 308.9h0M119.7 328.7h0M116.4 328.3h0M123.2 318.9h0M129.2 323.2h0M115.5 327.9h0M132.1 317.0h0M103.3 331.8h0M122.0 325.5h0M106.5 332.2h0M131.7 316.8h0M136.8 318.6h0M134.4 307.2h0M151.2 300.2h0M123.8 317.6h0M124.9 315.3h0M142.1 306.2h0M139.7 310.7h0M98.6 337.2h0M137.2 309.4h0M104.1 330.8h0M126.1 318.7h0M122.8 322.7h0M125.4 318.3h0M115.6 325.8h0M142.7 310.4h0M117.1 324.9h0M129.0 322.5h0M128.0 314.0h0M150.6 302.7h0M138.5 312.8h0M138.5 311.5h0M127.3 316.5h0M144.3 311.2h0M132.3 317.5h0M141.1 307.5h0M117.6 319.4h0M134.4 314.9h0M124.7 323.1h0M132.1 315.8h0M114.8 327.6h0M136.5 312.8h0M131.0 316.0h0M131.6 321.1h0M120.3 322.3h0M140.8 315.7h0M136.8 311.6h0M122.7 321.6h0M131.3 313.9h0M129.8 312.7h0M134.7 313.0h0M142.4 306.6h0M130.9 320.3h0M128.7 313.1h0M130.4 318.0h0M133.4 322.2h0M138.8 313.2h0M156.7 301.5h0M108.7 329.6h0M116.0 322.2h0M136.2 309.4h0M128.3 315.2h0M107.4 328.5h0M120.7 312.3h0M139.0 311.1h0M116.8 326.4h0M148.6 308.5h0M118.6 327.9h0M142.6 312.6h0M116.4 325.3h0M132.9 320.3h0M138.6 308.6h0M124.1 324.3h0M114.5 322.5h0M118.1 325.6h0M133.3 309.9h0M122.8 324.9h0M127.1 315.5h0M117.9 322.7h0M144.7 308.5h0M110.7 328.8h0M108.2 327.8h0M122.0 325.1h0M130.0 316.5h0M123.4 321.8h0M141.3 311.0h0M131.6 313.3h0M117.3 320.8h0M127.0 319.2h0M134.7 319.0h0M106.9 326.0h0M155.7 302.1h0M139.0 314.1h0M115.6 326.0h0M137.0 313.3h0M123.0 315.8h0M132.2 318.5h0M124.4 319.9h0M131.5 316.1h0M112.5 330.5h0M144.7 306.9h0M128.7 316.8h0M114.7 319.2h0M132.1 315.1h0M126.9 323.9h0M149.2 307.3h0M123.9 325.9h0M130.0 317.9h0M129.0 315.0h0M144.5 310.9h0M122.1 322.4h0M109.7 331.8h0M125.3 319.1h0M125.8 324.9h0M145.0 310.3h0M140.9 307.5h0M135.4 305.1h0M137.2 318.4h0M108.8 329.7h0M117.2 325.5h0M131.1 310.4h0M130.4 314.4h0M143.4 309.0h0M137.8 309.8h0M133.6 314.7h0M123.2 321.1h0M137.4 318.4h0M121.3 310.0h0M120.0 322.9h0M126.8 308.8h0M128.1 315.7h0M129.7 315.1h0M119.2 318.9h0M117.7 326.0h0M142.7 311.7h0M136.9 309.0h0M109.9 329.4h0M119.7 322.0h0M136.0 312.8h0M110.8 321.5h0M147.5 306.4h0M131.5 314.5h0M137.1 316.0h0M119.0 323.7h0M115.8 327.6h0M110.5 330.0h0M119.5 319.3h0M120.8 319.5h0M137.1 317.2h0M111.3 330.3h0M106.3 330.6h0M125.3 324.1h0M118.3 319.6h0M120.6 320.3h0M127.8 316.8h0M120.5 324.2h0M145.6 308.7h0M131.3 310.7h0M128.7 316.6h0M119.4 324.0h0M114.0 322.8h0M148.7 305.3h0M136.6 316.9h0M128.2 319.4h0M117.5 321.5h0M122.3 317.9h0M129.2 314.8h0M124.0 319.7h0M149.1 305.7h0M118.1 325.7h0M141.3 307.1h0M137.4 316.2h0M120.0 328.0h0M100.4 334.4h0M118.8 321.8h0M131.7 320.3h0M112.1 326.1h0M118.1 322.0h0M113.1 330.2h0M119.1 325.7h0M117.5 326.4h0M121.7 315.4h0M144.8 310.4h0M134.4 311.9h0M137.3 307.9h0M126.6 320.9h0M140.7 313.3h0M139.0 310.2h0M137.3 316.2h0M123.1 320.4h0M120.6 325.6h0M122.3 318.4h0M123.9 317.9h0M146.6 306.0h0M114.8 322.1h0M120.1 322.6h0M146.0 308.4h0M133.8 316.8h0M118.5 320.3h0M137.6 309.6h0M106.6 328.4h0M137.1 314.1h0M140.1 309.9h0M132.8 316.4h0M142.1 308.2h0M122.5 320.5h0M156.1 302.8h0M110.9 329.8h0M116.2 317.4h0M152.2 302.7h0M143.4 311.2h0M140.6 302.5h0M123.2 315.1h0M137.9 309.3h0M151.2 303.4h0M138.4 306.6h0M148.8 302.5h0M139.7 315.1h0M122.5 322.0h0M135.9 313.8h0M136.9 311.2h0M134.0 313.5h0M128.9 323.6h0M103.3 336.8h0M114.6 324.1h0M124.1 318.2h0M126.8 317.4h0M138.0 315.3h0M123.2 323.8h0M121.1 320.7h0M108.5 324.1h0M123.6 317.5h0M131.9 311.2h0M124.4 324.6h0M131.4 320.2h0M130.7 314.3h0M134.0 320.2h0M142.1 310.6h0M133.4 316.1h0M136.9 315.0h0M128.3 319.4h0M121.5 321.4h0M132.3 314.7h0M127.7 313.2h0M125.9 323.9h0M139.8 308.8h0M134.4 310.3h0M127.3 325.0h0M117.5 326.4h0M122.6 322.8h0M111.1 331.2h0M135.3 311.5h0M130.3 318.7h0M122.4 317.5h0M122.1 319.4h0M130.3 320.8h0M116.4 320.8h0M125.6 323.5h0M145.5 310.7h0M118.3 319.2h0M132.9 322.1h0M125.8 313.4h0M124.3 316.1h0M113.3 327.4h0M130.7 308.6h0M109.4 330.5h0M131.4 311.7h0M116.2 324.9h0M125.3 317.4h0M130.4 314.6h0M105.7 334.6h0M134.0 316.0h0M136.1 311.0h0M123.2 323.7h0M131.2 313.5h0M125.0 315.3h0M141.5 306.9h0M119.6 318.8h0M134.9 313.9h0M117.2 328.2h0M118.6 324.3h0M138.6 312.7h0M120.6 327.2h0M102.9 332.9h0M132.5 318.4h0M139.8 308.8h0" stroke="#000" stroke-opacity="0.85" stroke-width="1.30" stroke-linecap="round" fill="none"/>
<path d="M131.0 315.5h0M91.9 339.0h0M127.0 313.1h0M131.6 315.9h0M117.2 325.9h0M137.7 317.1h0M122.9 314.3h0M137.3 308.8h0M133.8 313.2h0M128.0 314.0h0M116.0 324.4h0M132.7 317.5h0M110.1 327.7h0M132.6 311.0h0M118.6 323.1h0M119.1 321.0h0M129.7 317.9h0M120.5 316.6h0M146.6 307.5h0M129.6 322.1h0M109.4 327.7h0M129.1 314.7h0M124.1 309.7h0M141.6 311.4h0M111.1 328.1h0M140.4 307.9h0M127.9 322.2h0M114.5 327.4h0M154.6 299.9h0M105.4 328.0h0M124.0 322.9h0M111.2 327.0h0M120.6 319.4h0M134.1 310.8h0M121.4 322.0h0M127.3 313.3h0M139.6 311.9h0M113.6 329.7h0M114.1 326.0h0M125.1 321.8h0M131.7 315.8h0M127.3 316.1h0M124.3 325.9h0M127.0 314.6h0M120.3 320.8h0M143.7 308.9h0M135.3 318.8h0M134.7 313.9h0M130.5 316.7h0M122.6 322.7h0M137.2 313.6h0M119.9 325.5h0M114.7 322.1h0M113.0 323.4h0M132.0 310.1h0M132.5 326.2h0M126.7 319.9h0M135.3 315.3h0M131.3 316.5h0M124.8 321.6h0M131.0 313.0h0M141.3 313.7h0M156.1 304.0h0M129.3 316.1h0M99.6 336.3h0M135.1 315.0h0M120.2 321.5h0M140.0 315.0h0M132.3 318.7h0M124.9 331.0h0M120.7 325.6h0M138.3 315.1h0M112.2 325.5h0M140.5 310.6h0M124.8 319.6h0M127.5 322.7h0M122.4 322.8h0M121.4 319.1h0M133.3 324.9h0M125.6 316.5h0M144.5 310.2h0M142.0 306.4h0M146.1 308.4h0M137.7 310.8h0M127.4 319.4h0M110.1 331.9h0M139.5 317.1h0M121.0 322.8h0M141.1 310.0h0M138.2 312.3h0M123.0 319.7h0M150.6 302.9h0M129.2 313.6h0M143.1 306.8h0M118.4 321.2h0M143.1 306.5h0M135.0 310.5h0M126.6 315.6h0M126.4 323.8h0M125.6 322.2h0M132.3 318.1h0M132.8 315.5h0M125.0 322.5h0M127.6 313.1h0M119.0 324.1h0M137.9 309.9h0M105.0 330.9h0M153.5 306.6h0M144.7 307.8h0M136.7 316.1h0M107.6 334.4h0M115.0 323.4h0M125.6 322.8h0M136.1 313.5h0M132.7 315.1h0M120.7 321.1h0M131.1 312.3h0M137.8 309.2h0M122.1 316.8h0M111.5 328.6h0M119.4 325.6h0M127.9 320.3h0M124.0 319.5h0M150.4 304.8h0M140.7 312.6h0M124.8 316.2h0M134.0 316.2h0M123.5 319.0h0M120.9 321.3h0M122.9 322.7h0M118.2 322.9h0M127.7 318.8h0M126.7 324.7h0M135.4 312.3h0M129.1 314.4h0M134.6 308.8h0M129.0 314.6h0M120.7 317.9h0M143.7 309.1h0M122.5 318.5h0M113.8 325.4h0M133.2 313.4h0M118.2 320.8h0M124.5 320.1h0M133.1 314.0h0M139.7 313.5h0M137.9 311.9h0M123.0 316.1h0M133.0 314.0h0M131.7 318.4h0M137.7 312.0h0M128.5 320.0h0M120.0 329.3h0M129.2 317.8h0M160.1 296.9h0M130.4 310.7h0M124.1 321.8h0M124.7 318.9h0M138.3 315.0h0M114.5 329.4h0M127.0 320.7h0M137.8 309.8h0M121.9 318.5h0M129.2 314.4h0M145.4 306.9h0M138.0 316.3h0M141.6 309.9h0M126.3 321.3h0M127.5 323.6h0M121.8 318.4h0M111.8 325.5h0M137.6 313.3h0M137.7 309.4h0M145.4 303.6h0M145.3 310.9h0M118.6 327.3h0M133.6 316.4h0M145.4 308.1h0M124.5 326.6h0M131.4 313.9h0M134.6 313.1h0M120.3 321.9h0M131.5 318.5h0M110.0 325.1h0M132.8 317.1h0M138.3 310.5h0M128.4 319.7h0M132.4 313.5h0M113.3 327.3h0M137.6 309.6h0M128.3 316.6h0M128.2 316.3h0M133.4 313.7h0M114.8 324.4h0M120.3 322.8h0M116.3 329.8h0M133.8 309.6h0M121.7 324.4h0M141.1 309.8h0M124.1 322.5h0M128.1 320.9h0M146.4 305.9h0M139.7 314.7h0M132.8 307.8h0M127.7 317.0h0M139.4 312.8h0M103.8 334.0h0M124.4 322.1h0M122.4 319.9h0M111.6 330.0h0M134.8 308.2h0M114.9 324.8h0M109.2 326.9h0M125.0 313.5h0M129.9 313.6h0M123.8 327.8h0M131.8 318.2h0M130.1 320.3h0M117.5 322.4h0M119.9 316.1h0M138.9 308.6h0M141.0 312.7h0M119.2 325.1h0M139.7 312.8h0M138.7 314.3h0M126.3 319.7h0M117.7 325.6h0M126.1 322.3h0M123.9 325.1h0M103.2 331.1h0M151.5 304.2h0M107.1 325.5h0M145.1 307.5h0M126.5 322.5h0M134.7 306.7h0M121.4 321.4h0M121.4 322.2h0M135.8 313.2h0M142.6 309.3h0M109.0 330.0h0M146.6 304.5h0M120.5 318.7h0M128.3 320.6h0M116.4 326.6h0M127.6 321.0h0M139.9 311.5h0M124.0 314.9h0M130.1 318.6h0M103.3 331.4h0M114.7 324.5h0M126.8 315.0h0M128.7 315.7h0M126.4 320.0h0M140.1 316.9h0M136.7 310.4h0M125.3 317.1h0M137.0 312.4h0M115.2 324.5h0M136.7 309.8h0M132.7 315.2h0M105.6 325.7h0M135.5 312.9h0M117.2 317.8h0M129.0 320.3h0M141.3 311.7h0M147.9 307.2h0M122.6 314.4h0M104.3 330.8h0M139.6 306.4h0M123.6 323.2h0M119.4 319.2h0M125.8 316.9h0M149.3 303.2h0M126.4 318.9h0M107.8 327.8h0M131.0 316.6h0M128.3 315.1h0M133.7 307.2h0M103.3 332.3h0M123.7 314.1h0M151.1 307.7h0M128.8 322.8h0M113.1 331.0h0M134.4 309.2h0M142.4 311.7h0M127.4 318.0h0M134.2 314.1h0M131.1 320.9h0M127.2 321.6h0M136.1 307.7h0M137.8 313.2h0M112.0 329.1h0M112.3 326.0h0M119.3 323.7h0M151.9 304.9h0M133.3 312.5h0M134.2 309.3h0M101.0 333.0h0M126.3 320.0h0M114.0 322.7h0M141.2 312.6h0M145.7 303.5h0M130.1 313.0h0M137.4 313.8h0M128.0 313.9h0M139.3 314.9h0M135.1 310.6h0M141.9 312.1h0M140.2 310.5h0M119.4 324.3h0M109.3 331.0h0M125.7 321.4h0M124.6 315.8h0M127.7 316.8h0M142.9 307.2h0M146.5 302.7h0M153.5 301.6h0M138.6 312.1h0M124.4 323.9h0M121.9 321.7h0M130.9 318.7h0M127.1 318.4h0M143.4 311.3h0M119.8 317.5h0M117.0 326.1h0M113.7 326.5h0M141.1 310.5h0M128.7 318.9h0M149.5 305.9h0M97.8 335.0h0M113.8 327.3h0M122.5 325.0h0M115.9 327.2h0M123.2 329.1h0M111.9 325.6h0M121.9 320.3h0M122.2 322.1h0M127.6 322.1h0M133.0 315.8h0M110.6 323.6h0M137.1 317.4h0M112.0 328.0h0M133.3 315.4h0M124.5 316.7h0M115.9 323.4h0M147.1 306.9h0M122.9 317.3h0M125.9 318.1h0M135.9 315.6h0M139.4 308.9h0M106.4 334.1h0M122.4 321.5h0M108.2 332.4h0M117.8 321.2h0M110.8 327.9h0M145.7 307.0h0M145.8 307.6h0M131.4 319.3h0M137.9 311.7h0M128.3 313.9h0M112.2 330.6h0M140.3 305.3h0M133.9 316.0h0M118.0 317.0h0M110.9 327.4h0M121.2 322.6h0M138.7 306.3h0M142.4 311.3h0M112.6 328.7h0M121.7 325.4h0M118.8 326.0h0M138.3 307.4h0M145.6 308.4h0M123.2 324.6h0M119.7 323.8h0M141.6 308.2h0M128.6 314.8h0M124.2 320.7h0M126.0 326.2h0M160.4 297.3h0M107.2 333.6h0M126.0 320.2h0M139.5 307.8h0M135.8 313.0h0M144.4 304.9h0M156.1 300.1h0M144.3 308.7h0M131.6 314.2h0M131.0 318.1h0M118.5 317.6h0M121.7 322.2h0M123.5 316.6h0M132.3 316.0h0M132.8 317.0h0M133.5 314.4h0M125.6 322.1h0M151.7 303.6h0M126.8 317.9h0M150.5 305.2h0M123.9 315.7h0M139.8 305.3h0M126.4 316.7h0M147.3 305.2h0M132.9 315.2h0M121.6 316.1h0M141.0 309.5h0M121.0 318.4h0M124.0 319.6h0M128.9 309.2h0M141.4 306.1h0M121.8 321.0h0M99.8 333.3h0M107.8 329.1h0M119.1 326.0h0M126.3 317.4h0M102.5 334.6h0M119.1 323.5h0M141.2 305.2h0M128.1 317.8h0M150.5 306.6h0M111.7 327.5h0M143.6 305.9h0M120.7 317.8h0M131.8 320.5h0M104.9 327.5h0M146.4 310.0h0M128.8 320.4h0M136.2 311.0h0M116.9 325.9h0M113.5 323.6h0M141.6 307.9h0M140.3 311.7h0M106.9 331.7h0M120.7 320.0h0M165.8 295.9h0M133.6 318.1h0M124.7 314.1h0M145.0 303.2h0M147.3 305.3h0M140.2 309.6h0M134.5 317.3h0M118.1 325.7h0M136.7 313.0h0M130.6 315.2h0M145.2 306.7h0M139.7 311.6h0M141.0 306.4h0M129.6 319.5h0M125.0 318.3h0M127.7 312.1h0M135.8 310.4h0M112.2 329.2h0M143.2 303.4h0M114.3 326.4h0M131.4 313.9h0M145.0 307.0h0M126.4 318.3h0M126.2 315.8h0M121.3 325.6h0M134.9 314.6h0M139.9 311.9h0M130.8 316.9h0M128.9 316.4h0M129.5 317.1h0M129.2 318.8h0M132.0 316.7h0M134.7 317.0h0M146.0 306.0h0M119.3 319.5h0M138.9 308.9h0M154.5 301.5h0M125.2 323.2h0M127.7 312.7h0M129.8 319.9h0M126.8 316.2h0M112.8 323.5h0M131.6 320.7h0M133.2 316.8h0M153.3 300.2h0M139.0 316.8h0M131.9 317.7h0M120.8 321.9h0M137.6 312.5h0M136.9 312.8h0M124.4 319.3h0M132.3 319.0h0M131.4 314.9h0M111.8 327.5h0M121.1 322.3h0M130.0 316.9h0M112.2 327.1h0M130.6 317.5h0M122.6 321.2h0M115.7 323.5h0M125.1 320.8h0M116.4 323.7h0M123.2 321.8h0M143.0 311.8h0M125.1 323.2h0M115.6 325.5h0M107.3 329.4h0M136.9 308.2h0M135.4 317.6h0M133.3 323.4h0M122.6 319.0h0M138.6 309.5h0M143.5 310.3h0M127.3 319.2h0M127.7 317.2h0M134.0 312.9h0M128.1 315.6h0M139.1 316.3h0M134.6 318.4h0M139.5 312.3h0M128.8 323.0h0M113.1 325.6h0M104.2 332.5h0M126.2 317.8h0M135.8 316.1h0M139.4 315.8h0M106.3 330.0h0M143.5 303.1h0M123.0 320.4h0M138.2 309.5h0M155.8 300.5h0M113.0 319.5h0M139.8 310.1h0M154.9 302.3h0M123.5 317.2h0M125.0 320.1h0M129.9 316.3h0M122.6 325.3h0M139.0 308.2h0M139.5 311.9h0M147.2 306.1h0M139.6 308.7h0M121.9 326.2h0M128.0 318.3h0M123.9 321.2h0M139.5 309.7h0M143.8 308.4h0M124.0 324.2h0M129.1 320.5h0M114.7 323.2h0M125.3 320.9h0M107.0 333.3h0M119.5 319.4h0M141.3 304.7h0M143.1 313.5h0M120.7 318.2h0M137.3 313.2h0M124.0 321.9h0M131.0 324.7h0M108.6 329.4h0M134.4 316.5h0M120.2 313.3h0M123.2 323.5h0M145.0 304.1h0M125.5 317.1h0M131.8 308.1h0M137.1 311.7h0M137.3 310.9h0M133.0 313.0h0M119.3 323.1h0M114.3 321.3h0M125.0 320.0h0M127.1 314.9h0M133.8 312.7h0M137.5 310.5h0M107.1 331.6h0M108.0 329.5h0M134.8 312.9h0M121.9 317.7h0M119.2 323.8h0M110.5 330.2h0M112.7 330.0h0M121.7 318.2h0M132.7 311.1h0M135.9 311.9h0M115.7 329.9h0M120.0 320.7h0M131.7 317.7h0M107.6 330.8h0M131.3 320.2h0M128.7 316.3h0M116.5 325.6h0M127.3 313.4h0M124.8 317.5h0M124.6 316.5h0M133.4 314.4h0M130.8 313.3h0M157.3 299.8h0M130.5 321.5h0M132.9 317.9h0M134.2 320.8h0M133.4 314.4h0M112.2 324.9h0M135.2 312.2h0M137.6 311.1h0M139.2 310.3h0M136.7 312.4h0M130.0 313.3h0M130.0 309.7h0M112.0 328.1h0M138.5 308.0h0M135.3 310.9h0M132.0 319.1h0M133.9 309.1h0M146.6 303.1h0M103.2 333.6h0M116.4 323.0h0M116.6 328.3h0M117.0 323.0h0M123.5 326.1h0M116.3 322.5h0M133.1 314.5h0M147.0 307.0h0M113.9 322.6h0M143.3 307.3h0M137.5 316.2h0M124.5 321.1h0M129.6 318.8h0M112.8 323.9h0M126.5 316.5h0M127.9 319.5h0M126.5 315.1h0M120.1 321.3h0M128.2 324.3h0M106.5 326.5h0M141.0 311.1h0M132.0 313.4h0M122.8 323.9h0M107.1 330.8h0M122.0 319.2h0M125.9 320.2h0M123.3 320.0h0M112.5 327.7h0M144.4 309.1h0M137.2 312.8h0M120.7 317.3h0M116.1 321.4h0M140.2 309.1h0M135.0 316.7h0M136.6 314.2h0M140.2 309.1h0M135.5 315.5h0M123.3 312.7h0M116.2 327.1h0M118.1 326.9h0M114.0 329.0h0M118.2 316.4h0M149.9 301.3h0M117.2 323.1h0M132.9 318.6h0M150.2 306.9h0M119.1 317.0h0M120.8 322.0h0M99.5 335.0h0M138.9 306.7h0M134.8 309.1h0M139.8 308.4h0M138.8 314.5h0M134.2 317.3h0M133.2 313.8h0M138.3 310.9h0M135.3 307.0h0M110.3 329.5h0M126.6 322.1h0M139.0 307.3h0M105.1 326.1h0M125.7 321.4h0M132.9 314.6h0M136.2 310.2h0M111.7 323.5h0M117.7 321.3h0M130.0 316.4h0M129.9 322.5h0M127.7 322.0h0M120.8 325.1h0M141.0 308.4h0M138.0 313.1h0M130.8 312.5h0M147.6 307.2h0M114.9 318.8h0M143.0 307.2h0M120.3 322.2h0M136.0 315.6h0M133.2 317.3h0M120.8 327.5h0M115.0 329.4h0M128.2 317.6h0M117.5 322.8h0M139.9 306.9h0M123.2 317.3h0M148.5 302.6h0M114.5 322.3h0M145.8 305.1h0M118.8 320.6h0M152.7 305.0h0M122.0 317.5h0" stroke="#000" stroke-opacity="0.85" stroke-width="1.30" stroke-linecap="round" fill="none"/>
<path d="M130.5 318.1h0M105.2 333.8h0M138.9 308.2h0M125.9 323.9h0M144.1 310.8h0M141.8 317.0h0M143.0 308.1h0M148.7 306.1h0M104.1 331.0h0M130.3 317.7h0M116.9 326.6h0M135.4 308.9h0M147.6 307.5h0M121.4 322.9h0M120.0 319.0h0M140.1 305.9h0M129.3 316.3h0M124.4 317.6h0M109.8 328.9h0M136.0 311.8h0M129.1 311.9h0M126.6 317.0h0M140.8 310.3h0M132.7 316.2h0M137.3 316.5h0M116.1 328.5h0M133.0 315.5h0M142.8 310.6h0M125.5 322.8h0M119.5 320.1h0M128.1 322.4h0M122.2 319.2h0M132.4 321.4h0M119.9 320.5h0M123.4 320.7h0M127.1 315.8h0M144.2 309.0h0M129.7 316.8h0M127.9 320.8h0M145.0 303.0h0M134.6 308.7h0M124.9 324.0h0M130.2 315.9h0M105.5 329.0h0M150.3 303.2h0M149.6 304.0h0M130.7 317.4h0M138.2 313.2h0M130.9 319.6h0M136.2 318.7h0M113.9 318.2h0M119.3 324.2h0M118.9 317.2h0M123.3 330.0h0M120.6 325.7h0M131.6 313.3h0M100.8 331.8h0M137.9 308.2h0M126.2 314.4h0M118.4 321.2h0M122.2 327.6h0M106.6 327.0h0M122.6 320.7h0M135.8 308.2h0M132.6 311.3h0M153.4 301.3h0M126.7 321.2h0M134.3 312.2h0M145.2 310.7h0M117.1 323.7h0M108.1 333.5h0M131.9 311.9h0M102.0 332.8h0M133.4 316.1h0M134.5 314.4h0M130.6 314.4h0M138.2 310.2h0M144.0 310.7h0M134.6 313.8h0M130.6 323.9h0M115.7 323.5h0M133.2 318.1h0M123.2 319.6h0M130.3 313.9h0M130.4 319.0h0M127.4 316.2h0M126.3 323.4h0M111.6 325.6h0M125.4 316.5h0M126.4 321.8h0M142.2 315.6h0M117.3 325.4h0M136.6 310.5h0M129.1 324.1h0M107.0 324.7h0M125.4 317.8h0M119.6 323.8h0M111.8 324.7h0M132.6 318.9h0M126.8 323.5h0M120.6 324.4h0M145.0 312.1h0M104.0 331.2h0M93.2 337.1h0M116.5 325.0h0M131.1 314.1h0M138.9 313.6h0M130.1 307.4h0M126.1 315.7h0M134.3 320.5h0M140.8 309.3h0M140.2 308.0h0M134.3 318.4h0M125.9 317.4h0M117.4 324.2h0M133.4 319.8h0M134.8 308.2h0M110.6 325.3h0M120.0 322.2h0M121.2 319.6h0M128.4 315.5h0M110.6 327.2h0M142.8 307.8h0M148.5 310.2h0M134.9 319.6h0M125.6 312.9h0M150.4 306.9h0M127.2 320.7h0M135.6 312.2h0M146.6 305.0h0M117.8 325.0h0M127.8 322.4h0M117.0 323.7h0M145.8 306.0h0M124.0 315.2h0M147.1 307.8h0M109.7 327.0h0M129.4 318.4h0M118.9 326.5h0M141.6 305.2h0M125.8 319.4h0M134.9 315.6h0M146.0 309.9h0M130.5 314.7h0M117.8 328.2h0M128.0 317.5h0M109.3 330.6h0M127.1 322.5h0M125.5 313.5h0M129.4 317.8h0M139.4 313.3h0M140.1 313.4h0M124.2 320.2h0M123.8 321.4h0M135.0 313.6h0M132.4 313.8h0M135.0 311.4h0M134.4 311.9h0M122.2 326.0h0M116.3 325.3h0M129.9 313.9h0M130.8 319.4h0M127.7 319.9h0M106.0 330.3h0M141.6 306.5h0M131.3 309.0h0M116.6 320.6h0M137.0 312.1h0M124.1 323.9h0M95.0 337.2h0M131.8 309.7h0M144.3 308.6h0M115.1 322.3h0M147.7 308.5h0M139.7 314.5h0M129.9 318.4h0M143.8 308.4h0M121.7 318.3h0M131.8 325.6h0M128.4 321.2h0M118.6 320.1h0M120.2 321.7h0M143.0 304.6h0M143.2 311.0h0M124.3 319.9h0M126.6 327.1h0M129.7 315.1h0M120.6 324.9h0M122.4 318.7h0M134.8 310.4h0M138.3 315.3h0M126.9 315.9h0M138.2 309.3h0M128.6 313.3h0M134.5 313.5h0M127.4 316.5h0M118.2 320.2h0M139.0 311.5h0M133.2 317.8h0M122.4 319.2h0M124.3 325.1h0M127.2 323.5h0M133.1 318.2h0M127.5 318.0h0M115.1 326.0h0M116.9 328.3h0M108.3 328.3h0M119.4 321.8h0M143.2 309.6h0M147.6 304.7h0M131.2 313.2h0M134.5 314.5h0M125.7 323.0h0M136.1 311.6h0M158.3 298.2h0M136.8 311.8h0M118.9 321.1h0M150.8 305.5h0M129.2 316.8h0M125.1 317.8h0M131.1 318.3h0M126.8 320.8h0M129.9 318.2h0M135.4 308.4h0M126.5 316.5h0M140.0 318.3h0M120.9 320.0h0M139.2 313.5h0M124.3 317.5h0M123.8 316.7h0M129.4 314.4h0M122.2 317.1h0M142.6 310.4h0M110.6 326.1h0M109.2 327.3h0M107.7 326.5h0M133.1 316.4h0M135.9 311.2h0M153.4 301.9h0M143.6 314.2h0M137.5 313.0h0M112.8 325.2h0M139.7 308.7h0M130.2 319.2h0M129.6 314.8h0M121.4 323.1h0M122.8 322.3h0M134.0 316.0h0M111.1 329.8h0M131.5 321.0h0M140.3 311.8h0M156.3 302.0h0M111.3 330.3h0M153.4 302.9h0M121.9 317.7h0M110.5 327.3h0M137.9 314.4h0M112.2 327.6h0M114.6 326.8h0M146.6 308.5h0M124.0 313.9h0M118.0 327.2h0M124.7 319.2h0M125.2 318.7h0M143.5 308.0h0M128.8 313.6h0M123.7 324.5h0M127.5 316.1h0M124.0 316.9h0M127.8 318.6h0M106.1 326.8h0M121.7 324.1h0M129.5 315.1h0M115.1 330.2h0M144.0 308.2h0M136.8 312.7h0M105.4 333.2h0M123.7 320.4h0M137.9 318.0h0M135.8 308.7h0M124.7 314.8h0M126.8 324.8h0M124.5 311.7h0M127.2 315.4h0M112.6 320.4h0M118.8 319.1h0M134.2 317.6h0M124.7 325.2h0M132.4 318.1h0M105.2 329.8h0M126.8 318.3h0M153.1 309.6h0M120.3 320.6h0M131.2 315.2h0M114.8 325.4h0M132.0 316.9h0M126.4 321.7h0M108.1 333.2h0M121.9 320.3h0M130.8 317.5h0M138.3 313.3h0M134.5 317.9h0M126.2 311.5h0M142.1 307.1h0M116.4 324.9h0M128.9 317.4h0M137.3 313.0h0M134.2 310.6h0M121.0 323.1h0M127.6 318.7h0M101.3 334.7h0M119.7 321.1h0M148.2 303.4h0M120.7 326.7h0M126.2 318.1h0M127.1 310.9h0M124.0 318.3h0M132.8 314.6h0M101.0 329.9h0M125.3 316.7h0M138.4 308.3h0M120.2 325.3h0M134.2 318.7h0M117.2 328.1h0M129.2 317.0h0M134.0 319.7h0M106.7 322.7h0M116.1 325.1h0M120.3 326.1h0M123.1 323.4h0M132.3 311.1h0M131.7 321.8h0M106.9 332.7h0M111.8 328.9h0M123.9 319.2h0M134.8 311.2h0M125.1 323.0h0M119.8 319.8h0M128.7 319.0h0M133.9 315.3h0M154.4 303.0h0M130.0 321.6h0M143.1 308.1h0M139.1 311.4h0M119.4 324.0h0M131.7 317.1h0M125.2 318.0h0M113.9 323.1h0M125.5 315.6h0M136.8 305.2h0M127.1 313.1h0M143.6 312.0h0M138.8 316.2h0M133.5 316.9h0M113.0 330.2h0M123.2 320.9h0M145.4 307.6h0M132.0 318.0h0M141.1 310.4h0M132.6 318.0h0M123.0 320.9h0M113.2 326.3h0M126.6 317.3h0M106.8 325.5h0M124.0 319.6h0M119.6 324.6h0M133.0 307.6h0M147.4 301.5h0M117.7 324.8h0M139.6 316.3h0M126.1 317.9h0M125.2 318.8h0M127.9 316.2h0M124.4 321.3h0M164.8 294.5h0M113.6 322.9h0M137.4 310.5h0M105.6 329.3h0M146.2 306.1h0M128.2 319.1h0M122.6 323.8h0M119.3 323.6h0M127.3 318.5h0M117.6 321.8h0M121.6 318.7h0M105.6 329.9h0M141.1 308.4h0M123.9 320.0h0M111.0 330.0h0M135.5 307.8h0M136.8 310.8h0M106.3 329.1h0M123.4 324.1h0M115.2 320.1h0M129.4 314.6h0M113.5 327.8h0M123.8 315.6h0M138.3 311.8h0M123.7 325.9h0M141.3 308.4h0M125.7 317.3h0M126.2 318.8h0M136.9 311.6h0M138.1 317.0h0M127.6 316.0h0M130.2 323.2h0M123.2 321.3h0M112.1 322.4h0M155.3 299.9h0M124.1 317.6h0M130.5 309.2h0M126.1 317.9h0M127.1 314.7h0M126.1 322.2h0M121.4 322.7h0M159.9 297.5h0M122.3 319.6h0M131.5 311.1h0M154.7 302.7h0M136.9 313.8h0M117.3 325.8h0M118.7 317.1h0M146.6 305.9h0M123.1 317.0h0M124.0 316.7h0M132.2 318.0h0M124.2 319.4h0M131.4 308.4h0M141.4 308.4h0M148.7 305.8h0M136.7 313.6h0M114.5 328.9h0M130.6 313.8h0M114.9 323.9h0M123.8 320.1h0M138.6 314.2h0M106.3 330.1h0M128.7 313.8h0M129.4 322.3h0M146.7 307.4h0M96.0 337.6h0M151.1 308.8h0M131.1 310.9h0M124.4 322.3h0M144.6 308.5h0M123.7 317.9h0M136.9 310.6h0M130.5 313.4h0M118.3 323.7h0M124.7 318.5h0M119.6 321.7h0M150.0 305.8h0M94.2 338.1h0M138.0 309.3h0M134.6 306.8h0M126.9 320.4h0M144.4 309.8h0M119.7 322.3h0M130.5 325.9h0M145.8 304.6h0M134.3 314.0h0M120.7 317.3h0M122.3 319.6h0M131.3 309.8h0M136.9 308.1h0M129.6 320.4h0M130.4 317.2h0M152.8 303.9h0M97.2 336.3h0M137.9 308.6h0M118.9 326.0h0M128.8 321.4h0M136.9 309.4h0M115.0 326.0h0M139.7 306.3h0M138.7 314.8h0M119.6 324.5h0M139.7 309.6h0M155.1 304.9h0M144.1 309.3h0M129.6 316.3h0M114.0 323.7h0M143.2 314.0h0M120.7 320.4h0M114.1 323.2h0M140.3 307.7h0M139.8 312.9h0M120.3 320.2h0M136.0 317.1h0M113.8 322.8h0M122.0 319.5h0M131.7 318.3h0M134.3 311.3h0M123.8 316.5h0M132.9 310.2h0M135.3 309.8h0M117.0 325.3h0M118.1 323.8h0M115.2 323.9h0M126.9 311.6h0M119.3 326.0h0M131.2 319.2h0M132.2 320.5h0M120.8 323.9h0M129.7 319.7h0M130.1 318.8h0M138.4 310.2h0M126.0 321.5h0M96.4 338.6h0M120.3 317.2h0M132.5 311.1h0M132.8 310.1h0M129.6 320.7h0M118.2 323.7h0M111.3 329.1h0M126.7 325.3h0M142.2 305.3h0M116.2 321.9h0M105.7 328.9h0M134.3 314.3h0M119.6 321.0h0M94.1 337.0h0M106.9 332.1h0M122.1 317.3h0M110.1 329.1h0M125.5 318.0h0M107.2 329.7h0M106.0 330.3h0M138.6 313.0h0M132.1 320.0h0M124.9 327.3h0M118.9 321.8h0M139.2 309.9h0M142.6 307.0h0M117.7 322.8h0M114.2 323.9h0M146.4 307.3h0M122.4 324.5h0M114.8 317.5h0M128.6 321.9h0M119.5 323.6h0M116.0 322.3h0M128.6 312.5h0M122.0 319.6h0M120.4 321.5h0M106.3 327.0h0M124.3 322.1h0M139.5 312.4h0M120.8 323.0h0M107.4 329.2h0M121.4 330.1h0M112.9 327.5h0M128.4 317.0h0M133.4 314.8h0M120.3 323.3h0M139.2 313.5h0M143.6 308.1h0M128.6 315.2h0M123.6 323.8h0M132.1 320.2h0M132.0 313.9h0M146.5 303.8h0M128.9 317.2h0M127.2 319.8h0M118.7 320.8h0M109.6 328.8h0M126.0 324.4h0M130.9 314.7h0M132.8 313.7h0M141.3 306.3h0M141.7 307.9h0M138.4 317.2h0M109.3 329.5h0M134.6 314.6h0M137.3 310.4h0M130.8 312.7h0M134.5 317.2h0M142.7 313.5h0M124.8 318.3h0M139.7 313.9h0M115.3 322.3h0M145.3 306.4h0M126.0 317.0h0M135.0 316.7h0M136.6 309.3h0M130.9 318.5h0M134.3 311.7h0M140.4 315.4h0M129.7 318.9h0M140.0 310.8h0M136.1 316.1h0M158.4 298.8h0M117.5 322.0h0M122.7 319.8h0M118.3 318.2h0M129.0 321.5h0M134.6 316.4h0M137.0 312.8h0M132.5 317.9h0M141.7 309.3h0M121.4 325.5h0M153.6 303.9h0M112.4 329.1h0M130.3 319.8h0M134.5 311.2h0M132.8 324.8h0M128.6 322.4h0M127.0 320.5h0M140.6 307.1h0M134.5 311.2h0M149.1 305.6h0M147.8 308.9h0M133.9 309.8h0M111.1 330.3h0M126.9 327.1h0M136.7 311.2h0M132.3 316.1h0M121.2 320.2h0M134.1 318.9h0M150.9 306.2h0M122.1 323.3h0M121.3 321.9h0M141.6 307.9h0M138.3 311.0h0M135.8 311.4h0M149.3 309.6h0M125.3 317.9h0M123.0 323.8h0M133.4 315.8h0M117.0 320.5h0M102.6 333.5h0M126.4 313.0h0M138.3 314.1h0M134.9 308.3h0M105.1 331.5h0M122.4 319.3h0M138.2 312.2h0M129.9 322.3h0M125.7 323.5h0M106.6 333.7h0M133.4 312.3h0M127.4 319.9h0M123.6 324.5h0M127.3 321.0h0M143.3 306.7h0M123.6 316.3h0M125.7 324.8h0M142.1 312.7h0M148.1 306.1h0M130.5 325.4h0M125.8 317.2h0M147.8 308.0h0M115.2 324.6h0M124.3 317.0h0M130.2 319.1h0M142.1 313.7h0M131.0 313.1h0M136.4 306.8h0M128.9 321.3h0M118.8 324.3h0M139.9 311.1h0M145.6 302.9h0M134.7 317.4h0M109.5 323.5h0M129.5 315.6h0M108.0 332.1h0M104.2 329.8h0M127.4 322.7h0M127.2 316.3h0M142.3 307.9h0M121.7 319.8h0M127.4 316.1h0M113.8 325.5h0M135.6 318.6h0M139.6 310.1h0M124.7 320.1h0M119.2 316.8h0M147.1 309.2h0M133.6 311.2h0M113.0 323.7h0M122.1 322.1h0M160.0 296.5h0M132.9 313.7h0M128.5 311.6h0M127.4 315.9h0M129.7 310.8h0M117.7 321.7h0M129.1 318.0h0M119.1 321.4h0M101.7 336.1h0M127.4 318.3h0M122.4 321.6h0M122.7 320.1h0M121.7 318.9h0M132.6 319.4h0M120.4 324.0h0M113.0 326.4h0M127.0 317.6h0M138.2 310.4h0M135.2 313.8h0" stroke="#000" stroke-opacity="0.85" stroke-width="1.30" stroke-linecap="round" fill="none"/>
<path d="M159.0 294.7h0M150.4 297.4h0M161.4 296.9h0M158.7 301.4h0M157.0 295.2h0M157.2 299.2h0M147.9 304.7h0M157.2 295.6h0M153.3 295.4h0M158.0 299.2h0M152.5 297.7h0M153.3 295.7h0M155.2 293.5h0M161.1 295.7h0M158.5 297.1h0M153.3 304.4h0M157.6 291.5h0M154.6 296.1h0M155.9 294.8h0M156.0 294.1h0M154.6 294.8h0M156.7 291.6h0M154.4 296.9h0M156.4 292.5h0M151.9 295.3h0M155.3 298.4h0M162.1 290.8h0M152.2 297.7h0M158.5 297.3h0M158.7 294.9h0M151.1 305.2h0M150.6 290.9h0M154.6 301.2h0M150.5 295.7h0M154.7 300.9h0M159.6 298.0h0M155.7 302.4h0M160.1 296.3h0M155.0 293.5h0M150.2 300.3h0M157.7 301.2h0M161.0 295.7h0M153.0 293.2h0M156.3 294.4h0M152.7 296.6h0M147.4 298.1h0M158.4 300.2h0M150.7 297.6h0M159.0 289.1h0M151.0 292.9h0M158.6 293.7h0M155.5 303.2h0M158.1 286.9h0M162.2 295.1h0M157.6 290.9h0M150.4 302.1h0M161.9 291.2h0M159.6 295.8h0M152.8 297.4h0M151.1 295.9h0M156.6 296.2h0M160.3 297.4h0M159.7 295.7h0M158.5 297.8h0M146.6 295.7h0M167.3 295.6h0M152.9 295.3h0M162.2 291.8h0M152.3 298.9h0M157.4 293.5h0M149.1 295.8h0M158.4 289.9h0M162.0 293.7h0M157.0 297.2h0M156.1 299.0h0M154.8 294.2h0M164.2 296.2h0M155.7 296.8h0M153.2 297.2h0M160.3 303.7h0" stroke="#3f4fb8" stroke-opacity="0.6" stroke-width="2.60" stroke-linecap="round" fill="none"/>
<path d="M153.7 289.4h0M151.2 294.8h0M158.3 296.5h0M154.0 297.6h0M152.2 297.0h0M161.7 289.3h0M152.7 297.9h0M159.4 291.5h0M151.7 295.9h0M151.6 303.7h0M155.6 298.9h0M161.7 296.6h0M156.4 295.1h0M155.3 295.8h0M155.1 296.3h0M152.9 290.1h0M156.9 292.7h0M156.8 300.5h0M151.9 298.8h0M157.7 294.4h0M158.5 292.3h0M155.0 286.7h0M162.6 288.4h0M155.3 297.6h0M154.8 299.0h0M153.6 296.8h0M152.5 297.1h0M151.0 300.2h0M157.1 297.8h0M154.0 289.0h0M150.5 296.6h0M155.6 301.6h0M152.4 300.2h0M155.9 291.6h0M159.2 293.9h0M160.9 294.1h0M154.7 301.0h0M159.0 291.5h0M158.4 294.5h0M158.3 292.7h0M158.4 289.6h0M159.3 298.7h0M159.8 295.8h0M154.4 296.6h0M153.9 294.0h0M151.3 300.8h0M159.4 292.1h0M152.2 296.2h0M157.3 297.4h0M154.2 296.6h0M154.3 295.0h0M160.3 304.8h0M151.5 297.3h0M154.4 288.4h0M151.6 294.6h0M164.3 295.9h0M159.1 299.1h0M151.8 299.6h0M162.0 293.7h0M158.5 299.9h0M150.8 292.2h0M155.6 296.3h0M157.0 296.3h0M154.6 298.4h0M157.9 297.6h0M154.4 295.5h0M152.7 298.6h0M157.1 287.3h0M158.3 301.9h0M159.9 293.5h0M155.2 299.7h0M157.4 291.2h0M153.2 295.9h0M149.9 293.9h0M152.9 300.8h0M157.3 294.2h0M156.7 295.0h0M151.2 305.5h0M149.1 294.7h0M157.2 295.3h0" stroke="#3f4fb8" stroke-opacity="0.6" stroke-width="2.60" stroke-linecap="round" fill="none"/>
<path d="M153.5 296.4h0M156.0 296.2h0M155.5 294.9h0M162.6 299.2h0M159.4 300.6h0M152.1 299.6h0M154.0 299.6h0M152.6 293.4h0M158.2 295.0h0M160.6 294.3h0M156.2 291.1h0M153.6 297.8h0M149.4 301.4h0M159.7 294.7h0M149.7 302.1h0M147.9 303.5h0M152.4 295.1h0M154.6 295.8h0M151.3 297.3h0M155.2 294.5h0M153.5 288.6h0M156.6 292.6h0M152.9 290.7h0M151.2 296.9h0M157.4 295.8h0M163.4 293.4h0M156.3 297.6h0M159.0 296.4h0M153.5 295.6h0M149.4 298.4h0M153.7 297.4h0M162.3 292.5h0M149.7 287.1h0M159.0 295.3h0M155.9 292.1h0M150.2 294.2h0M149.1 300.5h0M152.8 302.5h0M152.9 296.1h0M162.4 295.9h0M151.2 295.1h0M154.7 295.6h0M153.2 294.2h0M152.1 294.4h0M159.7 298.7h0M158.3 287.5h0M159.3 298.9h0M153.7 292.3h0M152.5 296.7h0M150.6 301.1h0M155.0 303.8h0M156.2 295.1h0M151.9 295.0h0M159.0 296.5h0M153.8 299.2h0M151.4 296.6h0M146.6 297.6h0M155.6 298.4h0M159.3 296.9h0M156.5 290.8h0M152.9 296.4h0M151.9 297.5h0M153.7 297.8h0M154.8 296.8h0M155.1 300.3h0M157.9 294.6h0M154.3 297.8h0M153.6 298.7h0M156.6 299.4h0M158.1 301.0h0M154.5 289.2h0M160.1 296.3h0M154.1 294.3h0M152.7 296.8h0M154.5 298.4h0M158.0 296.0h0M155.1 291.3h0M150.7 297.3h0M154.1 291.3h0M152.4 296.4h0" stroke="#3f4fb8" stroke-opacity="0.6" stroke-width="2.60" stroke-linecap="round" fill="none"/>
<path d="M151.9 301.9h0M149.0 295.4h0M153.0 299.5h0M154.8 299.2h0M157.2 297.2h0M148.4 291.5h0M154.0 294.2h0M160.0 296.0h0M158.6 300.4h0M156.9 293.9h0M155.3 298.6h0M156.9 295.0h0M163.0 288.6h0M155.8 296.9h0M153.2 295.7h0M154.6 295.1h0M161.7 295.4h0M152.4 295.8h0M148.4 303.1h0M154.0 293.6h0M155.2 289.9h0M157.8 297.4h0M155.4 293.6h0M155.5 296.4h0M158.2 304.4h0M155.0 293.9h0M161.3 300.2h0M161.3 294.0h0M156.8 294.9h0M159.6 290.1h0M159.5 296.5h0M156.9 299.8h0M160.5 291.0h0M153.2 302.3h0M159.9 298.1h0M156.6 301.7h0M154.8 294.9h0M155.0 292.4h0M153.0 302.0h0M156.9 297.0h0M157.7 292.0h0M152.6 304.8h0M155.9 291.0h0M157.1 293.4h0M158.1 297.8h0M152.1 293.4h0M162.0 296.4h0M153.8 291.0h0M153.9 297.6h0M162.5 291.9h0M158.5 299.6h0M164.1 295.5h0M153.6 296.7h0M150.3 295.5h0M155.6 293.5h0M153.7 292.7h0M157.1 296.3h0M152.8 295.0h0M152.6 290.8h0M154.5 293.4h0M152.9 297.3h0M152.9 294.6h0M154.4 298.6h0M153.2 296.5h0M158.8 293.3h0M154.4 292.3h0M155.8 298.7h0M159.4 294.7h0M153.7 288.3h0M148.7 294.3h0M150.3 294.7h0M156.7 295.5h0M158.0 294.8h0M157.8 293.5h0M155.0 299.6h0M152.7 295.3h0M162.6 290.6h0M153.4 290.6h0M152.4 306.2h0M159.4 294.0h0" stroke="#3f4fb8" stroke-opacity="0.6" stroke-width="2.60" stroke-linecap="round" fill="none"/>
<path d="M104.9 336.4h0M100.2 342.2h0M101.4 343.8h0M100.7 337.0h0M101.1 343.5h0M102.9 333.4h0M94.6 331.1h0M101.7 344.4h0M104.3 338.5h0M96.6 336.8h0M105.4 327.6h0M109.6 334.9h0M104.1 331.7h0M105.2 332.4h0M100.8 337.3h0M94.1 347.5h0M106.0 332.9h0M100.0 343.1h0M104.8 336.7h0M100.6 337.8h0M103.4 333.3h0M101.4 331.7h0M106.8 336.8h0M97.5 341.7h0M106.2 324.2h0M103.9 343.3h0M107.8 331.1h0M100.7 339.6h0M97.7 335.0h0M107.7 330.2h0M96.5 345.8h0M103.7 338.3h0M101.6 333.3h0M98.0 336.6h0M102.8 342.9h0M98.4 341.1h0M97.9 338.1h0M102.1 335.8h0M104.4 340.7h0M99.9 329.2h0M100.1 342.1h0M104.7 342.1h0M97.7 330.5h0M110.3 328.2h0M102.3 342.6h0M108.1 335.3h0M105.7 337.4h0M110.7 336.0h0M100.8 336.8h0M102.4 331.9h0M104.8 340.9h0M98.7 338.3h0M100.5 338.0h0M102.4 328.1h0M103.0 341.0h0M97.6 332.1h0M103.0 338.6h0M98.1 336.1h0M98.3 340.7h0M102.3 332.2h0M99.1 340.5h0M101.7 336.9h0M102.3 341.4h0M108.2 333.1h0M97.3 333.7h0M100.1 337.5h0M93.1 339.3h0M100.2 334.1h0M103.1 332.6h0M94.5 339.1h0" stroke="#3f4fb8" stroke-opacity="0.6" stroke-width="2.60" stroke-linecap="round" fill="none"/>
<path d="M105.0 334.1h0M104.8 341.7h0M105.7 329.8h0M107.8 333.6h0M100.7 337.3h0M94.9 332.7h0M97.9 336.1h0M99.3 340.1h0M96.2 326.2h0M97.8 341.6h0M100.0 332.8h0M98.1 333.8h0M104.5 335.0h0M102.5 331.3h0M105.3 329.3h0M103.7 328.5h0M100.1 331.7h0M95.8 343.6h0M93.4 344.7h0M97.1 341.9h0M103.2 339.8h0M100.6 336.8h0M96.1 331.4h0M97.3 341.5h0M98.2 331.7h0M91.0 336.3h0M109.6 336.3h0M100.3 336.3h0M100.0 337.6h0M100.0 333.4h0M106.4 338.0h0M94.6 340.4h0M100.1 335.1h0M103.3 335.9h0M109.2 340.5h0M99.3 345.1h0M102.6 338.0h0M99.2 336.5h0M104.7 336.5h0M103.5 336.0h0M98.9 343.9h0M98.9 340.3h0M100.7 335.2h0M97.3 337.6h0M100.2 337.0h0M110.6 339.6h0M106.2 336.6h0M98.1 340.1h0M105.7 341.3h0M97.5 337.7h0M106.6 337.5h0M95.8 343.8h0M100.0 342.7h0M98.9 340.4h0M105.4 332.6h0M99.7 336.5h0M96.5 338.2h0M104.9 332.8h0M100.8 341.1h0M107.6 337.1h0M102.6 340.0h0M92.4 339.0h0M103.9 340.6h0M103.7 338.5h0M103.6 337.5h0M97.2 336.9h0M106.9 337.5h0M108.0 339.1h0M106.3 331.7h0M92.1 344.1h0" stroke="#3f4fb8" stroke-opacity="0.6" stroke-width="2.60" stroke-linecap="round" fill="none"/>
<path d="M106.1 337.5h0M102.0 341.5h0M92.2 335.2h0M105.6 337.7h0M98.5 328.0h0M98.8 341.4h0M103.4 343.6h0M96.4 345.7h0M99.9 331.5h0M103.1 339.2h0M104.1 335.0h0M101.2 330.6h0M108.6 334.5h0M108.9 333.6h0M101.3 335.0h0M107.1 332.8h0M105.0 331.6h0M100.6 344.4h0M108.0 337.5h0M98.9 335.7h0M94.8 341.4h0M98.9 344.4h0M106.8 331.1h0M104.9 333.5h0M96.5 342.7h0M97.1 332.3h0M97.0 336.5h0M99.8 338.0h0M103.5 333.1h0M105.0 338.5h0M104.0 335.4h0M103.5 332.2h0M100.8 336.9h0M98.9 335.9h0M106.1 331.9h0M107.3 334.3h0M108.0 333.0h0M94.4 339.7h0M107.0 336.3h0M96.4 336.5h0M97.8 336.8h0M93.0 327.7h0M101.5 343.4h0M106.0 334.3h0M106.3 334.7h0M96.1 337.4h0M104.2 338.7h0M106.0 331.3h0M98.4 344.5h0M101.6 333.1h0M96.0 337.0h0M110.2 336.6h0M98.0 341.3h0M100.4 337.9h0M107.1 336.5h0M102.3 337.2h0M101.5 340.0h0M108.6 336.9h0M104.9 339.3h0M102.9 333.1h0M103.5 335.9h0M98.1 338.1h0M98.9 336.1h0M104.9 337.4h0M103.2 334.1h0M97.2 340.2h0M99.6 338.7h0M95.7 342.3h0M105.0 336.8h0M99.9 333.4h0" stroke="#3f4fb8" stroke-opacity="0.6" stroke-width="2.60" stroke-linecap="round" fill="none"/>
<path d="M96.7 332.3h0M95.0 341.5h0M108.1 335.0h0M103.1 335.0h0M102.1 334.9h0M91.2 335.7h0M101.3 337.0h0M104.9 338.6h0M102.8 330.6h0M101.8 339.0h0M103.6 338.0h0M97.2 341.8h0M100.7 338.7h0M101.8 332.9h0M98.7 332.2h0M102.3 335.0h0M105.4 334.7h0M101.8 334.6h0M104.2 337.2h0M103.4 337.9h0M99.6 337.6h0M102.2 334.6h0M97.5 338.0h0M103.6 344.1h0M110.6 339.6h0M101.8 330.7h0M104.5 334.3h0M96.4 344.4h0M95.6 341.5h0M97.4 329.6h0M93.2 337.7h0M104.9 336.4h0M101.3 337.2h0M94.1 337.7h0M100.8 328.1h0M104.8 337.6h0M101.9 336.8h0M105.4 330.2h0M101.3 334.2h0M93.3 329.4h0M102.0 338.8h0M94.3 344.1h0M103.7 332.9h0M100.8 328.2h0M105.3 335.9h0M101.4 334.2h0M98.9 333.9h0M100.2 339.3h0M105.3 337.0h0M103.0 333.0h0M98.5 333.2h0M99.8 338.1h0M105.7 336.3h0M103.5 336.1h0M99.6 337.9h0M99.1 342.0h0M103.1 327.9h0M88.7 347.6h0M97.3 344.6h0M99.3 335.6h0M103.2 340.9h0M100.3 337.6h0M104.5 335.4h0M99.8 339.4h0M106.0 331.5h0M102.5 338.6h0M101.3 336.8h0M104.4 340.3h0M96.9 341.8h0M103.3 338.8h0" stroke="#3f4fb8" stroke-opacity="0.6" stroke-width="2.60" stroke-linecap="round" fill="none"/>
<path d="M75.4 351.7h0M107.8 330.4h0M193.8 282.2h0M140.3 301.7h0M123.5 332.8h0M70.2 351.7h0M117.9 312.3h0M95.7 336.9h0M114.7 331.4h0M124.8 329.2h0M130.8 310.5h0M145.8 309.9h0M152.2 293.7h0M131.7 299.3h0M113.0 298.4h0M125.2 321.0h0M143.4 314.7h0M115.3 339.1h0M139.7 303.6h0M159.4 314.1h0M111.2 334.4h0M124.4 325.8h0M115.5 305.9h0M127.9 308.6h0M133.2 342.3h0M139.8 298.3h0M110.1 336.0h0M173.4 318.4h0M114.0 314.4h0M93.9 340.1h0M110.0 319.3h0M115.7 318.5h0M108.2 333.0h0M140.5 311.1h0M104.4 357.6h0M126.6 319.8h0M152.5 302.4h0M143.4 312.3h0M155.7 307.8h0M106.7 339.4h0M138.4 314.2h0M86.9 294.2h0M178.6 352.9h0M133.0 328.5h0M135.1 318.2h0M106.8 332.0h0M150.3 314.0h0M164.6 287.7h0M104.3 319.4h0M122.6 324.2h0M123.0 319.3h0M104.2 316.8h0M104.5 319.5h0M144.3 350.1h0M133.8 326.5h0M113.5 300.7h0M133.9 327.8h0M128.5 303.3h0M123.4 318.3h0M135.6 343.2h0M149.5 309.5h0M141.2 313.3h0M84.7 327.3h0M113.9 334.9h0M91.9 343.1h0M131.9 320.3h0M124.1 301.4h0M145.8 335.8h0M109.8 331.2h0M146.8 316.2h0M115.3 322.8h0M126.1 333.7h0M145.5 321.9h0M116.8 313.9h0M126.4 306.3h0M126.0 309.6h0M150.9 312.5h0M155.7 347.0h0M107.5 334.6h0M128.7 309.6h0M166.9 294.8h0M139.3 311.9h0M100.5 336.9h0M199.7 268.7h0M125.3 331.1h0M114.3 322.4h0M127.3 319.4h0M144.3 313.8h0M133.2 312.4h0M180.1 355.7h0M116.3 366.6h0M142.8 288.9h0M117.7 301.4h0M167.7 284.3h0M113.4 315.6h0M120.8 328.5h0M119.1 320.1h0M145.2 318.1h0M142.2 331.6h0M146.2 344.6h0M92.6 311.9h0M116.1 334.5h0M96.4 325.1h0M74.9 357.5h0M108.7 274.1h0M112.2 309.6h0M99.1 309.7h0M148.9 294.5h0M111.7 330.6h0M124.7 341.1h0M130.7 320.5h0M94.5 345.8h0M111.3 325.8h0M143.1 330.6h0M114.8 333.7h0M146.0 315.4h0M118.9 305.9h0M110.9 287.7h0M143.6 336.9h0M100.4 315.0h0M128.2 311.6h0M152.1 308.0h0M86.5 343.8h0M122.9 333.4h0M108.7 327.4h0M138.4 309.3h0M147.6 293.1h0M115.4 332.8h0M136.6 320.4h0M123.4 304.2h0M133.1 322.5h0M92.5 329.1h0M110.1 334.9h0M125.1 324.3h0M143.5 328.4h0M92.5 342.7h0M129.3 343.6h0M242.6 246.0h0M112.9 324.7h0M111.9 311.7h0M117.2 314.0h0M113.9 330.7h0M94.0 347.0h0M149.2 345.0h0M113.3 283.1h0M138.4 294.0h0M149.0 314.4h0M138.6 309.9h0M147.2 284.4h0M132.2 332.1h0M150.5 333.4h0M85.8 301.1h0M131.0 321.4h0M116.9 280.0h0M128.2 309.9h0M115.0 306.0h0M124.9 314.7h0M139.9 307.4h0M127.7 324.0h0M151.8 326.9h0M124.7 296.7h0M118.1 309.4h0M109.6 313.4h0M106.1 330.8h0M124.3 336.8h0M139.2 323.4h0M175.6 281.9h0M134.6 311.7h0M150.1 327.9h0M154.9 327.5h0M126.5 339.1h0M98.5 339.7h0M118.4 324.9h0M128.9 315.3h0M138.2 287.0h0M118.4 331.6h0M112.7 321.4h0M127.8 319.8h0M114.8 330.8h0M165.9 332.2h0M139.2 292.0h0M120.3 302.3h0M109.8 324.6h0M169.8 282.0h0M146.1 333.2h0M116.3 333.2h0M124.0 315.7h0M148.9 330.0h0M128.7 303.6h0M147.4 327.9h0M111.7 318.8h0M65.2 351.0h0M129.7 313.0h0M131.3 294.9h0M166.5 310.3h0M121.1 327.8h0M198.0 280.3h0M120.5 331.3h0M62.0 359.2h0M126.1 287.1h0M94.8 237.9h0M157.1 328.1h0M130.1 303.5h0M141.3 319.4h0M129.8 316.1h0M74.3 347.8h0M134.2 300.4h0M121.1 325.3h0M142.1 316.7h0M110.7 316.9h0M114.5 335.6h0M99.6 308.2h0M122.8 333.6h0M106.0 320.8h0M137.1 332.7h0M133.2 301.5h0M81.6 302.2h0M122.7 321.4h0M100.1 338.7h0M122.0 333.1h0M160.3 300.2h0M164.6 302.2h0M167.3 315.4h0M101.6 323.7h0M154.4 345.3h0M124.3 317.7h0M85.6 348.8h0M132.3 340.1h0M141.2 337.8h0M141.1 296.2h0M218.2 264.6h0M129.2 316.1h0M158.6 271.3h0M114.7 316.9h0M141.0 311.6h0M115.6 330.0h0M76.9 328.2h0M148.8 276.2h0M139.6 329.1h0M135.8 335.8h0M126.2 340.5h0M147.1 288.6h0M129.4 344.3h0M122.4 306.0h0M118.1 336.2h0M114.2 308.2h0M123.9 314.1h0M135.5 290.4h0M116.3 328.8h0M120.4 326.6h0M57.6 344.6h0M126.5 327.2h0M126.0 315.9h0M165.0 295.0h0M137.5 311.3h0M104.6 343.7h0M134.1 359.4h0M165.4 307.5h0M148.0 323.1h0M92.5 348.1h0M136.8 349.5h0M117.6 317.9h0M117.2 327.3h0M135.3 307.7h0M101.1 342.5h0M113.9 321.7h0M204.4 270.7h0M159.7 290.0h0M126.0 327.0h0M141.2 314.4h0M143.5 326.8h0M135.7 314.1h0M105.2 333.3h0M118.2 288.6h0M115.2 315.8h0M118.4 308.4h0M117.5 335.6h0M134.2 329.6h0M102.2 340.4h0M183.5 285.1h0M206.3 264.7h0M161.3 359.9h0M72.5 234.1h0M130.2 340.9h0M127.3 336.7h0M112.6 329.3h0M122.6 333.0h0M115.9 331.7h0M152.0 297.3h0M93.3 314.5h0M107.7 329.3h0M114.4 323.2h0M123.9 344.4h0M109.1 327.5h0M133.3 374.6h0M159.4 318.3h0M156.0 308.0h0M74.6 354.9h0M122.5 318.2h0M136.9 327.4h0M114.9 318.7h0M164.8 290.3h0M134.6 318.4h0M124.0 314.4h0M142.5 306.0h0M116.7 284.8h0M131.6 346.1h0M119.4 331.3h0M116.6 314.1h0M165.9 374.9h0M122.5 308.9h0M140.0 316.5h0M106.0 351.1h0M105.9 320.5h0M147.7 295.0h0M133.4 306.0h0M178.7 291.0h0M103.3 352.3h0M127.0 287.6h0M95.7 344.7h0M98.0 340.4h0M147.3 285.0h0M122.8 313.9h0M62.3 357.1h0M93.8 297.7h0M102.9 308.5h0M95.2 268.9h0M84.2 339.5h0M85.7 317.8h0M160.9 342.4h0M94.1 340.2h0M137.5 306.0h0M148.8 347.0h0M74.6 351.3h0M103.0 332.2h0M104.9 303.0h0M102.6 349.6h0M110.0 333.8h0M107.7 330.3h0M111.8 335.0h0M147.1 333.7h0M115.0 317.2h0M126.8 278.1h0M176.0 290.3h0M105.5 319.1h0M88.8 252.3h0M130.4 312.5h0M101.5 338.7h0M88.4 342.4h0M169.6 287.4h0M110.8 324.8h0M156.0 296.0h0M122.4 296.4h0M131.7 318.0h0M85.2 345.6h0M149.1 337.6h0M119.4 317.8h0M125.1 330.3h0M104.9 349.5h0M121.3 331.1h0M144.8 319.7h0M128.2 315.5h0M109.3 341.9h0M123.1 309.3h0M132.6 313.9h0M134.8 315.0h0M148.2 314.3h0M135.1 306.0h0M104.0 307.5h0M124.8 310.9h0M112.0 319.2h0M118.1 330.5h0M80.8 353.5h0M111.8 342.6h0M72.5 356.5h0M124.7 316.2h0M118.1 324.7h0M140.0 314.1h0M130.8 297.7h0M125.3 306.3h0M133.9 329.6h0M96.8 329.7h0M87.8 331.2h0M133.4 315.3h0M114.8 320.4h0M130.5 312.2h0M114.3 326.6h0M117.9 302.2h0M124.2 351.7h0M127.5 320.7h0M125.7 308.2h0M121.6 358.1h0M114.0 316.7h0M125.0 310.5h0M121.5 329.0h0M155.0 283.5h0M136.6 343.3h0M101.7 305.3h0M148.1 319.8h0M138.4 309.3h0M112.5 278.5h0M113.6 286.2h0M167.3 329.3h0M135.6 331.8h0M155.1 293.1h0M100.2 330.9h0M137.3 299.1h0M153.1 339.3h0M97.8 343.1h0M131.8 327.7h0M92.4 334.1h0M106.6 334.0h0M146.1 355.9h0M194.6 275.8h0M110.9 311.6h0M119.0 317.6h0M108.2 317.5h0M119.6 324.5h0M148.7 359.6h0M77.7 307.4h0M133.3 339.0h0M131.0 304.7h0M123.1 312.5h0M143.2 321.5h0M126.3 312.8h0M145.6 304.5h0M120.5 338.3h0M98.5 287.9h0M147.5 328.7h0M143.1 294.2h0M126.6 332.5h0M133.8 294.2h0M196.2 271.8h0M146.7 316.9h0M113.7 313.6h0M119.0 299.4h0M76.0 305.2h0M135.3 331.0h0M155.8 318.4h0M127.0 330.4h0M144.8 288.8h0M116.4 310.3h0M131.1 316.6h0M88.2 350.0h0M139.4 300.8h0" stroke="#555" stroke-opacity="0.3" stroke-width="0.90" stroke-linecap="round" fill="none"/>
<path d="M141.0 305.8h0M102.8 333.3h0M138.7 294.7h0M93.7 344.0h0M117.3 317.4h0M141.5 341.7h0M107.9 311.5h0M101.1 349.6h0M69.2 271.6h0M166.4 308.0h0M100.3 328.4h0M143.4 333.0h0M153.3 290.5h0M122.8 333.1h0M124.6 315.8h0M123.9 287.2h0M122.1 324.7h0M161.8 309.1h0M115.8 334.6h0M115.0 328.1h0M145.9 318.5h0M120.2 315.1h0M137.7 320.5h0M130.7 291.9h0M147.7 309.3h0M120.2 328.5h0M109.0 297.6h0M191.1 284.8h0M126.5 313.6h0M127.3 304.3h0M148.8 325.6h0M133.7 320.5h0M142.9 297.8h0M132.8 313.3h0M182.5 287.5h0M102.3 316.2h0M137.2 319.0h0M141.6 319.0h0M139.8 325.9h0M117.0 299.2h0M143.5 310.5h0M85.6 347.9h0M139.3 298.3h0M145.8 310.2h0M145.7 313.1h0M153.8 309.6h0M100.3 342.5h0M139.1 328.6h0M111.6 318.3h0M117.7 317.7h0M132.8 320.5h0M149.0 302.5h0M116.5 322.0h0M126.4 308.1h0M92.9 278.9h0M83.9 338.8h0M181.8 286.2h0M77.0 353.5h0M136.5 294.5h0M138.5 340.3h0M116.2 369.9h0M109.2 355.2h0M129.0 344.8h0M209.1 270.1h0M91.3 319.3h0M134.8 319.8h0M111.2 367.6h0M86.0 345.4h0M169.5 322.2h0M109.3 314.3h0M133.5 308.3h0M123.5 320.6h0M122.8 313.4h0M129.8 377.7h0M124.1 334.6h0M132.8 322.1h0M119.4 311.4h0M112.4 302.2h0M147.2 300.3h0M131.8 313.8h0M145.7 334.3h0M132.3 315.8h0M102.8 289.9h0M127.3 289.7h0M107.0 346.3h0M124.3 305.0h0M76.5 350.0h0M158.6 337.1h0M146.7 315.6h0M131.7 312.9h0M120.2 303.3h0M141.0 290.5h0M115.9 326.6h0M119.7 296.3h0M92.4 334.5h0M142.2 307.3h0M104.8 314.9h0M86.3 311.5h0M151.0 349.7h0M150.6 296.1h0M119.4 314.4h0M187.3 284.1h0M131.3 302.1h0M128.4 345.1h0M134.7 316.1h0M162.8 310.1h0M58.2 352.6h0M141.4 312.7h0M136.9 324.5h0M135.8 305.8h0M140.7 305.1h0M110.1 323.2h0M138.1 301.4h0M85.1 317.8h0M130.9 318.4h0M128.9 296.1h0M94.9 320.4h0M152.2 299.2h0M133.9 300.5h0M117.3 327.4h0M102.5 321.3h0M137.1 316.6h0M102.5 328.0h0M153.4 313.7h0M144.6 341.7h0M160.8 296.5h0M149.8 308.3h0M125.2 311.7h0M91.6 280.2h0M135.9 342.3h0M151.0 322.4h0M130.8 333.0h0M89.2 308.5h0M185.8 281.3h0M140.9 363.6h0M149.0 286.5h0M127.9 321.2h0M131.0 306.0h0M121.4 336.6h0M150.7 337.3h0M151.9 334.9h0M118.2 345.9h0M232.8 259.4h0M134.5 317.8h0M120.8 283.3h0M110.6 297.9h0M174.2 316.0h0M130.6 315.5h0M175.1 302.8h0M116.4 327.1h0M116.5 336.8h0M103.3 326.6h0M118.9 343.7h0M104.9 287.6h0M123.7 327.1h0M125.0 314.8h0M112.1 348.7h0M121.3 327.8h0M149.7 313.3h0M133.4 313.0h0M231.1 255.0h0M104.3 338.9h0M120.4 325.4h0M128.4 306.5h0M133.7 345.2h0M113.1 311.1h0M122.6 304.5h0M70.0 354.2h0M158.3 298.1h0M146.1 300.0h0M127.5 334.2h0M184.6 273.6h0M119.1 356.6h0M77.6 338.6h0M98.8 300.5h0M174.6 306.5h0M99.3 339.5h0M142.3 321.8h0M141.3 295.9h0M124.7 307.1h0M125.3 312.7h0M122.8 307.0h0M99.4 320.2h0M85.3 306.0h0M174.2 294.0h0M106.6 344.8h0M125.8 342.0h0M137.8 311.2h0M131.2 297.0h0M126.5 323.8h0M123.9 314.1h0M109.1 333.1h0M131.7 329.7h0M113.6 323.4h0M142.7 361.5h0M127.6 304.5h0M127.0 294.3h0M105.0 329.0h0M153.7 310.9h0M131.4 305.3h0M114.8 311.5h0M118.3 325.9h0M138.8 321.2h0M160.7 291.2h0M116.8 310.3h0M123.6 327.9h0M113.8 320.4h0M120.5 334.7h0M119.4 278.4h0M115.4 325.2h0M146.4 322.4h0M119.4 335.0h0M81.7 345.3h0M138.0 317.0h0M148.2 281.1h0M119.1 322.0h0M140.3 303.3h0M169.2 288.8h0M230.1 250.8h0M127.2 312.2h0M124.4 333.3h0M101.2 319.0h0M144.1 305.2h0M98.7 261.2h0M102.5 345.1h0M118.8 294.3h0M139.6 330.3h0M153.6 313.9h0M128.6 319.2h0M111.0 346.8h0M105.5 330.8h0M174.0 347.5h0M118.8 303.5h0M148.7 320.8h0M120.0 274.1h0M154.0 302.1h0M133.4 302.0h0M129.9 311.8h0M135.2 346.2h0M122.9 308.1h0M145.3 336.7h0M102.3 305.9h0M105.1 340.3h0M150.0 328.9h0M148.5 309.6h0M62.7 358.4h0M128.8 318.9h0M74.0 353.0h0M110.0 346.3h0M118.3 322.1h0M155.5 326.0h0M96.3 321.3h0M113.5 317.6h0M95.4 320.9h0M142.7 339.9h0M197.1 381.3h0M129.3 304.5h0M153.1 331.5h0M136.5 308.7h0M128.9 320.0h0M102.1 343.9h0M166.9 287.9h0M138.0 325.7h0M95.4 327.2h0M140.9 308.3h0M130.5 324.3h0M132.3 312.6h0M153.5 314.4h0M113.8 333.8h0M149.5 365.6h0M144.6 317.8h0M131.2 333.2h0M139.3 326.2h0M93.1 267.9h0M142.0 336.2h0M162.3 314.4h0M92.6 344.6h0M123.9 319.0h0M118.0 318.6h0M128.4 309.8h0M122.7 299.4h0M61.7 354.1h0M138.3 337.7h0M72.2 346.5h0M159.9 302.6h0M120.0 302.1h0M132.4 304.0h0M132.0 344.7h0M107.8 309.7h0M73.8 347.2h0M118.8 320.4h0M125.5 321.3h0M141.9 314.2h0M155.3 303.9h0M129.7 291.7h0M120.0 333.9h0M132.6 320.5h0M125.1 307.2h0M140.7 295.8h0M155.8 300.9h0M111.7 328.1h0M111.1 341.3h0M84.2 327.6h0M117.0 322.0h0M115.8 300.1h0M127.0 294.4h0M158.0 305.5h0M103.3 335.9h0M125.0 294.7h0M129.4 308.9h0M122.8 310.8h0M140.4 329.8h0M146.4 321.3h0M135.3 290.7h0M117.7 336.8h0M105.9 335.9h0M161.4 314.7h0M162.4 300.9h0M191.3 282.6h0M118.0 314.3h0M124.5 287.3h0M137.2 315.8h0M136.6 324.2h0M140.8 333.9h0M144.4 338.7h0M69.8 355.7h0M113.4 327.6h0M133.5 312.4h0M122.5 316.0h0M75.3 309.2h0M150.0 297.1h0M130.5 316.3h0M121.6 327.3h0M154.7 296.1h0M146.9 329.5h0M142.9 331.0h0M109.4 324.6h0M115.8 339.5h0M154.7 293.2h0M156.8 325.4h0M110.3 286.2h0M142.6 303.9h0M127.7 320.1h0M102.2 318.3h0M135.1 306.7h0M51.5 361.9h0M157.9 295.7h0M117.1 312.4h0M136.6 344.2h0M119.0 304.9h0M122.8 317.7h0M98.5 300.5h0M119.6 318.5h0M97.8 330.7h0M94.3 319.4h0M146.9 321.9h0M108.6 317.0h0M105.1 316.7h0M81.2 339.0h0M152.1 302.6h0M132.4 333.8h0M127.0 306.3h0M136.2 305.8h0M148.3 332.8h0M139.9 312.0h0M127.2 308.8h0M83.4 279.8h0M143.9 308.7h0M112.2 329.8h0M111.7 319.7h0M114.0 332.4h0M145.1 330.0h0M104.5 309.5h0M115.4 311.6h0M109.8 294.2h0M113.1 317.4h0M133.6 330.3h0M116.0 318.6h0M116.2 322.7h0M120.2 330.2h0M132.5 332.2h0M151.3 314.3h0M114.9 308.1h0M140.3 313.8h0M131.5 312.7h0M78.6 344.7h0M132.9 319.3h0M160.6 305.0h0M141.1 308.9h0M93.8 317.0h0M145.5 305.6h0M122.6 313.0h0M155.1 356.4h0M115.8 336.8h0M125.2 323.4h0M107.2 325.2h0M137.1 309.5h0M154.3 298.7h0M123.0 316.3h0M158.8 295.4h0M124.5 312.0h0M102.4 341.3h0M129.3 307.8h0M90.3 343.2h0M118.2 330.6h0M151.0 323.0h0M154.1 315.0h0M123.3 308.5h0M118.5 329.0h0M167.1 301.5h0M133.4 316.4h0M106.5 321.3h0M60.8 364.4h0M130.3 336.0h0M148.3 347.3h0M135.2 327.3h0M137.9 297.6h0M152.3 309.0h0M88.8 337.3h0M143.7 303.0h0M163.4 300.7h0M136.1 321.9h0M130.6 314.5h0M111.9 326.0h0M143.2 319.0h0M130.6 304.3h0M135.0 344.0h0M147.0 297.7h0M129.1 321.8h0M166.1 288.2h0M128.9 315.9h0M119.7 325.5h0M109.3 331.8h0M137.3 320.2h0M156.1 291.7h0M126.0 315.4h0M137.8 342.3h0M133.9 327.4h0M126.9 336.1h0M136.6 308.9h0M168.9 322.7h0M121.1 320.7h0M114.8 322.5h0M70.3 353.5h0M165.2 297.0h0" stroke="#555" stroke-opacity="0.3" stroke-width="0.90" stroke-linecap="round" fill="none"/>
<path d="M149.7 304.7h0M150.9 325.8h0M115.0 322.6h0M131.0 309.1h0M160.9 349.7h0M144.3 321.6h0M127.6 305.7h0M100.4 327.1h0M114.5 332.7h0M126.9 332.8h0M136.9 325.9h0M145.0 313.8h0M107.3 328.6h0M123.4 311.0h0M156.8 300.0h0M61.8 341.1h0M95.5 337.3h0M142.5 309.8h0M107.5 331.1h0M128.9 279.6h0M112.1 335.7h0M150.1 321.2h0M115.0 344.0h0M130.5 303.6h0M116.4 307.9h0M118.4 267.2h0M98.4 326.9h0M118.3 329.2h0M98.8 341.7h0M147.6 309.4h0M109.2 327.6h0M104.8 337.6h0M153.7 312.7h0M104.6 331.0h0M147.8 339.8h0M142.7 386.3h0M147.9 317.5h0M176.2 295.0h0M146.4 301.9h0M104.4 314.2h0M122.0 350.2h0M136.1 344.8h0M134.0 321.6h0M79.3 353.1h0M64.2 367.0h0M138.1 312.3h0M132.6 324.1h0M124.3 311.8h0M79.7 352.8h0M141.9 304.9h0M131.6 306.5h0M79.2 326.5h0M150.1 327.7h0M133.4 345.4h0M157.0 295.2h0M91.2 343.0h0M109.6 291.3h0M138.0 307.4h0M114.2 355.9h0M159.9 303.9h0M147.3 338.6h0M156.5 307.4h0M115.2 330.0h0M171.7 324.3h0M140.7 306.6h0M137.8 362.1h0M147.6 308.0h0M102.7 318.6h0M112.4 313.0h0M120.1 318.0h0M121.2 321.9h0M140.4 312.1h0M146.9 319.2h0M119.8 318.7h0M124.7 314.2h0M193.4 276.3h0M143.9 330.7h0M106.0 305.5h0M113.2 295.6h0M124.8 338.3h0M123.6 307.7h0M143.4 335.2h0M123.9 311.8h0M126.4 323.2h0M113.3 254.4h0M151.8 292.3h0M154.5 306.7h0M139.8 301.8h0M123.3 349.2h0M96.3 337.7h0M127.0 320.6h0M144.6 339.3h0M110.0 325.5h0M143.7 326.8h0M179.0 288.4h0M118.2 325.5h0M128.2 322.0h0M125.4 294.3h0M117.2 315.2h0M139.9 310.0h0M156.8 329.6h0M155.1 311.3h0M119.8 312.0h0M100.2 306.1h0M97.6 348.4h0M99.6 331.7h0M151.9 319.1h0M122.6 288.4h0M108.7 315.9h0M111.5 319.9h0M129.6 328.2h0M117.6 297.7h0M114.8 333.5h0M139.9 293.8h0M167.5 311.9h0M140.5 320.7h0M193.9 270.5h0M123.7 321.5h0M165.8 296.2h0M168.9 308.4h0M144.7 312.1h0M113.1 263.9h0M106.3 347.8h0M145.7 314.6h0M131.3 311.8h0M145.6 333.5h0M118.0 317.6h0M126.9 352.0h0M141.5 326.3h0M164.8 295.4h0M120.4 308.5h0M138.8 319.8h0M149.0 299.4h0M115.2 325.3h0M100.2 341.8h0M59.0 354.2h0M113.5 322.6h0M140.0 289.9h0M103.5 339.3h0M123.9 307.1h0M162.1 294.2h0M114.2 302.8h0M129.3 321.5h0M98.1 337.9h0M98.3 338.1h0M133.0 326.2h0M125.1 321.9h0M135.5 300.9h0M57.9 362.0h0M118.6 345.4h0M156.1 289.5h0M89.2 343.9h0M131.9 322.7h0M124.9 311.0h0M111.4 335.8h0M110.8 334.1h0M103.9 321.0h0M119.8 301.2h0M146.0 318.2h0M131.8 290.6h0M156.5 310.1h0M130.8 311.4h0M111.5 304.2h0M84.3 340.9h0M142.9 332.7h0M111.7 318.9h0M129.2 318.3h0M141.8 310.5h0M133.0 302.1h0M87.3 287.8h0M131.4 298.4h0M111.0 325.6h0M168.5 295.7h0M153.3 345.5h0M165.0 328.4h0M99.2 313.7h0M137.9 288.9h0M50.5 231.4h0M143.0 300.8h0M129.7 324.8h0M142.0 312.9h0M87.9 349.7h0M159.2 301.3h0M111.2 322.5h0M136.8 317.8h0M114.5 336.6h0M178.8 283.2h0M89.8 295.3h0M116.8 314.1h0M119.9 315.2h0M89.7 342.8h0M149.6 323.2h0M55.2 360.0h0M131.5 313.6h0M145.2 313.4h0M153.6 317.9h0M129.9 313.8h0M133.4 315.9h0M115.9 308.4h0M83.1 351.5h0M124.6 305.8h0M143.8 317.5h0M121.8 318.4h0M129.6 321.7h0M102.3 327.0h0M122.4 288.8h0M114.7 313.7h0M105.9 330.5h0M102.5 330.9h0M119.1 317.1h0M134.8 330.0h0M113.1 350.8h0M126.6 305.5h0M96.9 338.7h0M108.9 316.2h0M117.9 324.6h0M97.6 337.8h0M141.9 341.5h0M121.0 317.9h0M129.7 353.2h0M200.0 277.7h0M119.3 332.5h0M111.5 320.8h0M103.1 311.8h0M132.7 300.4h0M102.7 347.4h0M159.9 303.3h0M147.3 302.5h0M148.5 299.0h0M100.4 313.0h0M143.9 317.1h0M113.9 340.2h0M134.4 290.2h0M129.7 327.5h0M126.9 344.5h0M133.7 313.2h0M127.5 337.2h0M139.9 311.6h0M106.0 343.5h0M106.5 326.6h0M159.3 283.3h0M113.6 337.0h0M83.2 338.2h0M140.5 297.0h0M112.5 300.0h0M134.6 322.0h0M107.3 336.2h0M124.9 317.0h0M171.8 302.5h0M146.5 313.6h0M140.3 295.2h0M141.0 306.8h0M114.5 310.2h0M109.9 319.4h0M167.4 295.9h0M117.8 322.0h0M118.7 331.1h0M197.6 254.7h0M101.1 336.4h0M144.2 301.9h0M127.5 237.2h0M99.1 322.7h0M105.4 338.5h0M139.9 332.7h0M160.0 309.2h0M149.7 310.4h0M121.5 320.6h0M129.2 321.5h0M118.9 331.4h0M135.7 322.7h0M133.6 316.7h0M132.9 289.9h0M159.6 314.0h0M123.4 322.8h0M147.7 328.3h0M98.1 312.0h0M118.9 272.6h0M138.6 315.7h0M169.5 282.2h0M127.2 329.9h0M122.6 349.8h0M97.8 333.2h0M109.7 305.8h0M134.6 304.2h0M129.2 315.1h0M120.9 289.0h0M117.7 319.0h0M113.5 308.1h0M108.1 326.9h0M103.9 335.6h0M178.3 288.0h0M143.7 294.9h0M140.8 321.5h0M117.8 278.7h0M107.0 338.6h0M139.1 317.0h0M97.4 326.5h0M163.7 297.8h0M133.8 337.9h0M141.0 307.3h0M128.4 337.2h0M110.3 311.4h0M144.8 302.9h0M113.9 314.3h0M116.1 295.1h0M143.2 309.5h0M77.4 302.0h0M162.7 320.0h0M123.6 311.8h0M113.3 328.0h0M111.8 341.5h0M106.4 323.8h0M131.8 322.5h0M140.3 338.2h0M169.1 291.7h0M153.1 359.5h0M144.5 297.6h0M127.5 324.9h0M117.2 337.2h0M94.5 307.2h0M110.9 303.8h0M135.9 308.5h0M159.9 293.4h0M139.4 345.1h0M151.3 318.5h0M142.7 330.3h0M119.6 331.8h0M100.7 305.0h0M84.7 344.7h0M69.2 373.8h0M122.0 344.9h0M97.5 303.8h0M79.8 345.3h0M137.5 304.3h0M140.6 317.2h0M116.2 301.0h0M111.3 302.6h0M145.0 291.0h0M108.6 340.1h0M119.9 336.9h0M99.0 345.6h0M118.9 324.7h0M147.9 300.5h0M110.1 317.9h0M105.8 324.0h0M123.0 304.7h0M151.2 284.7h0M101.1 332.5h0M121.5 303.4h0M108.0 301.7h0M102.7 335.5h0M118.2 334.5h0M135.1 324.6h0M135.3 320.0h0M190.7 281.8h0M137.3 340.6h0M119.5 349.8h0M94.8 285.3h0M65.3 349.1h0M136.4 317.8h0M113.7 285.3h0M117.1 320.3h0M128.4 344.0h0M141.8 317.3h0M132.4 321.9h0M141.7 323.8h0M102.1 349.7h0M134.5 321.5h0M143.4 312.7h0M102.9 295.5h0M140.7 315.5h0M151.7 330.8h0M127.1 300.6h0M106.8 321.0h0M81.7 333.7h0M75.9 345.6h0M96.0 333.6h0M92.7 352.7h0M109.0 347.7h0M137.4 307.3h0M90.1 345.2h0M92.8 342.6h0M128.7 318.0h0M150.1 343.5h0M136.5 316.2h0M91.2 342.3h0M115.2 326.5h0M140.0 333.2h0M125.4 325.5h0M107.3 335.3h0M92.2 350.1h0M99.3 345.5h0M110.9 342.3h0M132.7 294.9h0M133.1 312.5h0M156.7 317.4h0M104.3 315.7h0M93.3 346.1h0M170.8 324.4h0M150.6 302.4h0M114.6 363.6h0M112.3 341.5h0M119.9 323.4h0M84.6 338.5h0M124.7 311.1h0M122.0 278.4h0M143.6 317.0h0M151.5 332.5h0M109.8 308.6h0M134.7 309.7h0M107.7 342.7h0M127.2 313.4h0M99.3 357.4h0M147.2 312.7h0M129.8 322.4h0M116.3 305.8h0M147.3 335.0h0M133.6 305.5h0M137.4 319.3h0M166.0 287.3h0M146.3 285.9h0M96.2 326.0h0M131.0 337.5h0M63.9 364.3h0M86.3 310.3h0M145.8 335.6h0M138.7 337.3h0M139.8 326.9h0M118.4 329.8h0M118.3 327.9h0M143.6 301.1h0M123.3 328.5h0M143.1 310.6h0M113.8 312.2h0M131.0 308.8h0M119.0 308.1h0M151.8 316.2h0M118.3 343.0h0M138.2 318.2h0M95.0 332.0h0M146.4 296.9h0M115.2 339.4h0M82.3 353.7h0M115.9 316.3h0M103.0 323.0h0" stroke="#555" stroke-opacity="0.3" stroke-width="0.90" stroke-linecap="round" fill="none"/>
<path d="M112.6 320.3h0M154.9 288.2h0M137.2 310.4h0M180.2 307.8h0M122.7 329.7h0M128.2 270.2h0M162.4 286.1h0M113.6 315.7h0M93.2 335.9h0M135.4 327.9h0M134.4 289.6h0M137.4 310.3h0M107.4 337.6h0M112.7 318.6h0M150.3 313.2h0M134.3 342.7h0M128.3 350.7h0M88.8 339.6h0M144.8 297.6h0M131.6 304.6h0M115.9 295.5h0M137.4 315.3h0M118.5 348.1h0M133.6 332.8h0M135.8 326.3h0M139.8 319.9h0M132.5 332.9h0M115.7 341.2h0M90.3 325.6h0M143.7 311.9h0M129.6 316.5h0M147.8 294.1h0M128.1 307.3h0M113.5 330.8h0M166.1 329.6h0M129.0 316.2h0M117.9 311.3h0M156.2 340.2h0M132.1 315.4h0M114.8 336.0h0M167.5 295.8h0M124.7 299.5h0M131.5 293.3h0M107.5 306.4h0M161.1 295.8h0M114.1 327.1h0M121.0 319.9h0M120.9 317.9h0M106.4 342.0h0M96.8 336.1h0M179.5 324.9h0M102.9 329.7h0M132.5 322.2h0M150.4 343.9h0M92.1 322.5h0M81.1 335.5h0M144.0 307.0h0M148.9 316.4h0M126.6 301.2h0M122.4 321.0h0M97.9 353.9h0M134.7 309.8h0M85.2 321.0h0M106.9 334.6h0M140.9 276.2h0M113.2 337.5h0M108.4 316.4h0M126.9 316.1h0M134.2 323.4h0M106.1 316.5h0M167.7 318.3h0M101.9 313.1h0M134.0 319.0h0M107.9 261.6h0M118.3 323.1h0M136.4 305.8h0M141.8 348.0h0M99.1 352.0h0M123.2 306.9h0M135.9 311.8h0M162.2 313.8h0M126.9 348.8h0M98.8 332.8h0M130.4 325.8h0M134.6 326.7h0M119.6 302.5h0M137.8 354.4h0M103.1 330.8h0M114.2 336.4h0M145.0 318.1h0M117.2 331.3h0M124.3 304.8h0M146.6 297.7h0M113.1 284.2h0M182.9 290.7h0M118.1 304.3h0M125.5 340.2h0M151.7 323.6h0M156.1 297.4h0M144.6 304.7h0M117.6 330.8h0M143.5 328.6h0M125.2 308.8h0M129.5 314.7h0M154.0 314.1h0M133.2 330.6h0M96.2 339.8h0M146.2 302.0h0M182.3 275.9h0M137.5 312.4h0M90.3 344.5h0M110.8 326.3h0M177.5 286.4h0M131.3 312.3h0M105.5 323.0h0M125.9 315.6h0M140.6 329.3h0M133.1 317.9h0M136.6 340.3h0M91.3 342.3h0M94.0 342.3h0M142.1 358.4h0M145.3 330.4h0M60.3 351.7h0M107.5 338.4h0M141.3 318.9h0M186.9 280.1h0M126.8 330.7h0M91.8 321.1h0M152.5 307.7h0M116.6 250.5h0M102.0 327.6h0M103.4 325.2h0M147.4 326.8h0M112.1 329.2h0M139.5 281.7h0M151.1 313.0h0M123.1 321.3h0M140.7 289.5h0M114.6 323.9h0M113.1 317.3h0M77.6 326.7h0M143.0 302.2h0M111.8 348.0h0M138.0 329.0h0M92.9 337.7h0M129.8 325.5h0M116.6 338.5h0M130.6 307.7h0M50.5 360.7h0M108.4 312.3h0M138.3 309.9h0M145.4 299.3h0M103.1 326.8h0M116.6 324.4h0M138.2 307.7h0M122.8 330.0h0M111.7 323.6h0M123.7 312.7h0M134.6 326.5h0M115.9 350.6h0M133.5 310.8h0M162.9 300.5h0M121.3 340.5h0M169.6 373.8h0M105.3 322.6h0M133.0 329.7h0M128.5 333.1h0M107.8 261.8h0M142.5 308.3h0M138.8 334.2h0M111.1 308.8h0M98.9 306.1h0M115.2 323.3h0M124.9 298.1h0M116.2 324.5h0M107.2 327.0h0M153.1 292.3h0M106.6 328.7h0M126.4 289.7h0M119.9 356.3h0M138.7 346.3h0M98.4 304.1h0M157.6 284.2h0M128.9 311.1h0M140.2 300.2h0M113.6 327.8h0M115.2 332.3h0M124.3 308.3h0M122.1 313.9h0M148.6 322.4h0M114.0 278.0h0M154.6 307.8h0M120.4 341.5h0M225.6 263.6h0M84.7 305.9h0M159.4 294.9h0M114.9 330.6h0M142.3 309.5h0M139.1 334.7h0M87.1 333.5h0M157.0 316.2h0M106.0 321.8h0M140.8 284.0h0M109.1 311.7h0M203.1 276.0h0M129.4 313.7h0M118.4 341.3h0M121.9 301.0h0M163.4 357.0h0M96.4 345.2h0M118.0 290.9h0M111.0 301.6h0M131.4 317.6h0M88.1 298.4h0M108.0 344.8h0M130.7 319.3h0M147.8 323.4h0M151.5 282.1h0M112.0 328.7h0M100.7 336.1h0M124.2 318.0h0M120.8 311.6h0M117.3 321.2h0M126.0 317.8h0M212.9 274.4h0M139.6 327.3h0M91.4 287.2h0M124.8 305.3h0M105.3 321.3h0M165.6 292.6h0M126.1 313.8h0M122.9 331.8h0M127.4 332.0h0M147.0 279.2h0M84.6 353.0h0M91.6 308.6h0M67.2 242.9h0M112.7 308.6h0M155.1 322.1h0M129.0 327.6h0M121.4 300.4h0M130.3 298.1h0M72.5 348.1h0M113.1 348.3h0M106.4 303.8h0M127.4 327.6h0M143.2 305.4h0M116.6 329.5h0M132.9 318.6h0M151.9 310.1h0M158.3 297.4h0M136.9 306.7h0M102.5 332.2h0M132.7 316.2h0M164.0 301.3h0M125.6 330.4h0M155.9 347.0h0M107.1 343.7h0M150.4 311.9h0M163.9 303.9h0M120.8 321.3h0M140.7 297.5h0M134.9 311.3h0M164.7 296.3h0M116.7 332.3h0M91.5 332.3h0M125.5 322.4h0M138.0 310.9h0M153.8 335.8h0M114.4 298.2h0M104.0 340.1h0M120.8 323.2h0M149.1 300.0h0M121.1 316.9h0M92.2 318.8h0M136.7 317.5h0M127.3 364.4h0M108.1 318.3h0M159.6 325.7h0M104.8 333.4h0M151.8 297.8h0M127.2 318.0h0M100.6 311.4h0M142.4 337.7h0M120.5 308.8h0M86.2 345.0h0M140.6 304.9h0M173.3 284.5h0M119.6 309.7h0M128.5 311.0h0M145.5 323.3h0M149.1 299.3h0M127.2 314.6h0M114.7 305.3h0M167.3 303.0h0M81.8 351.9h0M129.4 322.2h0M94.3 293.1h0M113.6 322.8h0M167.4 292.0h0M113.6 336.8h0M86.0 340.3h0M103.6 347.3h0M139.2 317.6h0M119.5 305.1h0M114.9 345.7h0M145.2 331.5h0M162.1 301.4h0M145.8 282.8h0M106.9 322.4h0M142.3 318.6h0M115.1 303.5h0M161.5 312.5h0M144.4 294.4h0M148.0 316.6h0M152.8 332.5h0M128.9 313.8h0M156.7 283.7h0M96.6 284.2h0M123.1 331.7h0M126.9 270.5h0M99.5 320.2h0M136.2 314.0h0M130.7 324.9h0M137.7 305.7h0M127.8 323.3h0M155.9 294.1h0M146.7 313.5h0M133.3 302.3h0M136.5 357.2h0M93.0 306.1h0M112.8 318.8h0M125.1 307.5h0M169.5 298.0h0M74.1 349.2h0M115.2 314.4h0M104.3 331.5h0M100.8 301.3h0M160.3 352.2h0M128.4 312.2h0M108.0 325.8h0M121.7 333.2h0M106.6 314.4h0M90.3 305.4h0M125.5 315.5h0M83.1 330.1h0M126.1 310.6h0M124.2 336.5h0M138.7 326.6h0M94.2 343.8h0M155.2 311.6h0M107.6 319.4h0M101.3 326.7h0M150.3 324.0h0M135.6 358.4h0M149.0 311.6h0M121.1 334.8h0M213.9 267.4h0M110.8 318.4h0M114.1 316.8h0M83.3 348.6h0M116.9 352.2h0M128.6 326.0h0M108.1 325.7h0M145.8 314.7h0M140.7 351.5h0M151.0 299.3h0M123.0 302.8h0M174.9 290.5h0M134.4 330.8h0M132.1 308.1h0M138.0 309.7h0M110.2 319.0h0M122.7 324.2h0M156.8 304.6h0M150.7 302.9h0M151.3 314.9h0M118.1 304.8h0M146.8 329.0h0M183.6 284.9h0M121.5 316.5h0M114.9 344.5h0M119.3 301.5h0M113.1 329.0h0M109.0 313.8h0M127.9 318.5h0M95.7 335.1h0M97.3 318.3h0M155.0 293.4h0M135.4 332.1h0M89.0 348.6h0M103.5 299.1h0M126.4 288.8h0M137.8 337.8h0M138.6 301.4h0M133.5 314.2h0M124.0 312.9h0M155.9 308.9h0M142.0 294.2h0M120.4 324.6h0M169.7 320.2h0M130.8 354.8h0M124.1 339.5h0M149.8 313.1h0M137.7 323.0h0M79.1 341.3h0M90.3 355.7h0M124.6 314.1h0M152.9 320.0h0M124.1 325.1h0M116.1 308.1h0M164.8 288.9h0M106.0 336.4h0M127.9 311.6h0M140.0 321.2h0M113.1 317.6h0M88.8 341.3h0M139.6 317.0h0M112.6 340.5h0M178.2 292.6h0M138.5 316.6h0M77.8 320.0h0M133.4 316.0h0M97.8 335.4h0M83.6 269.7h0M133.1 311.7h0M104.8 321.3h0M142.9 314.0h0M127.5 308.3h0M101.1 324.4h0M111.4 315.0h0M120.1 309.4h0M138.8 309.5h0M125.2 316.4h0M129.7 311.7h0M121.7 321.3h0M165.6 295.9h0M150.2 314.2h0M131.0 329.7h0M154.2 308.5h0M124.5 310.4h0M125.6 311.3h0M141.4 349.0h0" stroke="#555" stroke-opacity="0.3" stroke-width="0.90" stroke-linecap="round" fill="none"/>
<path d="M151.5 300.1h0M157.6 317.3h0M99.5 347.6h0M148.4 320.5h0M112.9 337.9h0M145.0 321.1h0M151.0 327.7h0M136.6 318.8h0M140.8 328.5h0M128.1 329.5h0M137.2 302.7h0M119.3 325.0h0M124.1 324.0h0M121.7 318.0h0M142.7 301.8h0M138.8 310.4h0M130.1 316.1h0M127.9 321.6h0M127.0 303.8h0M102.3 348.0h0M152.5 312.4h0M152.5 299.8h0M131.6 303.3h0M125.1 316.0h0M118.7 328.6h0M146.8 313.7h0M110.2 345.3h0M108.1 334.3h0M148.2 299.8h0M134.5 313.1h0M128.5 325.8h0M139.9 315.2h0M132.7 324.5h0M108.2 288.0h0M118.7 316.6h0M136.8 303.6h0M112.2 320.6h0M85.2 327.2h0M145.5 297.1h0M101.1 328.5h0M130.6 331.9h0M139.7 306.4h0M128.9 313.5h0M120.4 331.8h0M117.1 316.5h0M125.2 304.7h0M137.1 332.3h0M131.4 302.0h0M108.4 326.7h0M130.4 305.4h0M135.0 325.5h0M125.4 314.7h0M124.2 332.4h0M124.9 322.3h0M111.8 323.4h0M101.9 317.2h0M90.4 341.4h0M134.1 339.8h0M138.4 299.9h0M138.5 303.2h0M142.9 328.5h0M117.5 326.8h0M116.0 310.5h0M100.8 316.7h0M144.4 310.5h0M112.4 315.6h0M128.9 319.5h0M121.2 324.3h0M173.9 294.4h0M108.0 330.2h0M119.5 304.2h0M98.4 328.7h0M146.4 321.0h0M97.9 332.8h0M124.5 297.6h0M145.6 323.9h0M143.1 304.6h0M121.7 315.5h0M103.3 336.9h0M134.4 309.5h0M145.3 310.2h0M126.3 296.4h0M111.0 330.1h0M139.3 323.8h0M113.6 313.0h0M141.6 326.5h0M107.1 301.2h0M138.3 313.5h0M130.4 311.0h0M117.7 300.4h0M148.5 291.2h0M109.5 325.6h0M150.1 303.5h0M130.3 314.5h0M123.1 335.7h0M126.6 309.8h0M131.7 316.0h0M124.9 315.6h0M107.3 335.0h0M129.3 317.5h0M130.6 320.3h0M129.4 329.6h0M115.4 318.7h0M126.7 314.5h0M127.8 309.3h0M136.9 318.3h0M137.4 322.5h0M118.3 322.1h0M114.1 346.1h0M128.0 303.6h0M138.4 303.7h0M126.4 322.5h0M158.0 308.4h0M133.5 324.3h0M147.9 318.7h0M104.6 336.7h0M153.1 314.7h0M137.7 321.2h0M141.5 301.4h0M147.8 304.1h0M126.6 333.7h0M100.1 327.5h0M115.7 322.6h0M125.9 318.3h0M119.9 313.4h0M145.1 315.6h0M123.0 326.6h0M154.0 309.7h0M122.9 321.6h0M105.7 329.9h0M162.2 309.0h0M117.1 324.5h0M110.8 341.0h0M93.3 335.7h0M118.9 326.3h0M128.8 302.0h0M88.9 342.4h0M120.6 331.4h0M132.8 310.1h0M140.4 319.8h0M141.3 309.9h0M117.3 324.4h0M129.9 329.6h0M123.7 326.2h0M126.1 336.8h0M130.4 305.6h0M121.5 320.1h0M156.4 295.6h0M145.0 304.4h0M140.5 330.0h0M144.1 310.5h0M138.8 325.2h0M110.9 321.2h0M109.4 332.4h0M133.6 297.4h0M166.9 294.9h0M112.2 323.3h0M133.5 312.4h0M104.1 322.8h0M107.1 316.2h0M125.9 298.4h0M106.3 324.4h0M126.1 305.6h0M94.3 324.8h0M94.7 329.2h0M96.4 337.9h0M128.9 320.6h0M115.9 331.2h0M126.1 331.9h0M126.7 303.4h0M139.3 308.4h0M123.2 331.4h0M113.8 308.1h0M124.2 317.3h0M122.2 318.7h0M129.2 327.7h0M155.4 306.6h0M152.6 298.5h0M137.7 318.6h0M130.5 328.6h0M125.4 314.3h0M107.8 322.1h0M138.2 308.3h0M79.5 345.0h0M123.9 309.5h0M115.3 314.4h0M142.1 316.4h0M141.1 320.4h0M132.2 310.2h0M139.8 337.1h0M124.3 324.3h0M95.2 344.2h0M132.0 324.2h0M115.6 315.5h0M123.6 284.8h0M106.1 318.4h0M169.2 292.2h0M117.7 328.1h0M133.5 321.2h0M144.6 315.2h0M119.6 329.1h0M143.6 315.6h0M138.9 307.9h0M113.6 328.9h0M132.5 332.7h0M144.2 312.0h0M112.6 313.5h0M126.4 312.1h0M124.9 313.4h0M124.0 329.4h0M129.8 325.3h0M140.4 294.0h0M110.0 325.3h0M133.3 303.8h0M148.6 329.7h0M100.2 332.2h0M114.5 316.7h0M147.2 304.7h0M126.5 323.8h0M125.9 330.5h0M155.5 310.0h0M123.6 311.0h0M118.8 319.3h0M134.9 309.4h0M110.6 327.5h0M135.5 331.9h0M138.6 316.8h0M126.1 310.4h0M121.9 302.2h0M131.3 320.0h0M98.4 327.4h0M96.2 332.7h0M106.0 322.5h0M116.2 315.5h0M129.2 311.0h0M165.7 307.3h0M141.9 322.1h0M126.5 338.8h0M128.7 299.3h0M106.9 333.1h0M119.1 306.8h0M102.9 332.3h0M119.2 328.4h0M128.7 312.6h0M122.7 335.0h0M121.1 332.3h0M103.6 312.2h0M136.9 328.7h0M154.0 294.2h0M126.0 323.6h0M106.6 338.1h0M115.5 319.3h0M95.3 325.7h0M108.3 325.6h0M109.5 331.4h0M146.1 320.5h0M118.2 311.3h0M137.1 323.0h0M110.1 307.8h0M144.6 304.4h0M133.7 319.4h0M138.8 294.9h0M109.6 330.4h0M125.6 318.4h0M132.9 329.5h0M130.6 295.9h0M117.9 335.7h0M137.0 317.7h0M107.7 324.4h0M140.6 308.1h0M116.9 323.3h0M162.5 301.1h0M144.7 305.5h0M109.3 330.9h0M113.3 338.2h0M131.5 324.1h0M138.3 319.9h0M92.7 339.1h0M135.4 325.2h0M149.6 292.5h0M139.3 290.1h0M123.3 313.5h0M118.0 318.6h0M99.3 331.1h0M95.1 337.0h0M143.4 291.0h0M143.5 317.3h0M114.8 337.2h0M121.0 308.0h0M150.6 306.3h0M101.4 325.8h0M101.2 323.7h0M112.1 336.5h0M138.2 307.7h0M144.9 313.5h0M145.5 299.1h0M144.4 325.8h0M136.6 314.6h0M136.0 302.2h0M155.1 291.6h0M133.9 323.6h0M131.8 309.4h0M142.1 304.5h0M121.9 297.6h0M120.4 298.8h0M114.5 326.3h0M101.6 335.5h0M120.0 315.7h0M135.3 304.0h0M123.0 318.0h0M147.2 300.2h0M117.0 309.7h0M152.5 326.2h0M134.1 327.3h0M140.7 322.4h0M117.3 314.5h0M129.3 309.8h0M95.2 320.2h0M131.3 294.0h0M98.4 337.1h0M140.4 321.2h0M128.2 318.7h0M110.8 321.6h0M127.9 321.8h0M143.0 289.8h0M159.4 312.2h0M143.6 306.6h0M113.5 319.4h0M144.8 312.5h0M140.2 325.1h0M147.8 310.4h0M161.2 303.2h0M114.0 328.4h0M153.3 303.7h0M111.7 322.0h0M123.0 320.7h0M154.8 331.9h0M126.3 325.2h0M147.3 326.9h0M118.3 329.6h0M117.3 318.6h0M133.1 317.8h0M122.2 311.1h0M119.0 317.1h0M168.8 296.4h0M126.7 313.8h0M117.2 320.8h0M104.5 326.1h0M141.5 317.9h0M146.6 328.3h0M121.1 315.8h0M89.4 327.7h0M129.2 310.0h0M107.4 318.9h0M132.7 318.2h0M139.6 307.1h0M140.1 324.4h0M132.3 322.2h0M111.8 321.0h0M86.5 337.8h0M126.8 315.2h0M144.8 317.5h0M124.4 314.2h0M128.4 309.2h0M127.1 327.5h0M101.1 326.3h0M116.0 318.7h0M118.3 334.2h0M110.0 324.1h0M100.0 326.6h0M166.7 294.8h0M117.1 327.3h0M120.4 350.3h0M175.6 288.7h0M130.6 324.7h0M123.5 313.9h0M132.9 303.5h0M114.2 333.0h0M148.7 304.8h0M140.1 296.2h0M119.5 325.0h0M143.5 308.7h0M129.5 321.3h0M142.8 301.1h0M154.2 302.0h0M129.0 312.9h0M142.7 329.0h0M124.8 329.2h0M100.6 333.2h0M105.2 333.2h0M130.2 323.0h0M100.5 307.1h0M130.6 299.1h0M110.2 311.6h0M127.5 321.6h0M115.4 332.5h0M117.9 311.1h0M125.0 319.7h0M127.1 314.9h0M117.5 316.5h0M142.9 296.3h0M120.8 325.4h0M105.2 314.9h0M112.0 329.5h0M97.1 329.8h0M139.9 324.6h0M118.5 318.9h0M148.4 300.3h0M115.0 317.2h0M102.1 336.1h0M140.5 335.2h0M126.5 324.3h0M117.2 312.5h0M127.0 318.3h0M113.7 329.7h0M116.3 324.4h0M131.8 312.2h0M138.8 312.3h0M100.8 317.3h0M136.0 325.0h0M159.0 297.6h0M124.7 318.6h0M125.1 324.8h0M129.4 318.3h0M116.2 335.1h0M112.3 321.0h0M151.6 309.6h0M187.0 289.0h0M130.0 329.8h0M100.2 328.2h0M134.4 314.1h0M128.9 329.9h0M147.2 304.8h0M120.6 315.2h0M147.2 321.5h0M145.4 301.5h0M151.5 313.5h0M134.9 319.5h0M101.4 336.1h0M123.1 306.2h0M143.5 307.1h0M141.8 297.4h0M108.7 332.3h0M154.7 309.9h0M121.4 322.8h0M136.8 320.2h0M139.8 304.9h0M127.3 325.7h0M157.4 308.9h0M139.0 299.9h0M143.3 330.7h0M139.3 319.7h0M134.1 328.3h0M83.3 343.4h0M131.9 330.7h0M105.2 346.4h0M126.1 316.3h0M118.4 304.2h0M141.0 308.8h0M125.4 318.6h0M124.6 327.0h0M119.7 315.2h0M108.2 311.3h0M103.3 343.8h0M155.6 307.8h0M129.1 328.4h0M137.2 331.5h0M110.8 298.7h0M101.6 337.4h0M135.1 319.3h0M108.7 323.8h0M119.3 331.5h0M139.2 308.7h0M122.7 317.2h0M124.2 322.0h0M141.5 317.5h0M89.3 338.5h0M126.8 327.6h0M148.7 312.2h0M124.9 318.8h0M147.7 302.1h0M143.9 305.2h0M142.5 311.8h0M162.0 294.1h0M127.9 321.6h0M135.1 311.3h0M112.6 314.6h0M100.1 327.3h0M143.3 297.0h0M101.6 325.8h0M142.9 323.7h0M137.8 324.3h0M116.2 307.3h0M125.3 306.2h0M140.2 318.4h0M136.7 325.9h0M124.3 313.1h0M132.9 304.9h0M127.9 297.9h0M107.8 323.1h0M128.0 316.4h0M132.5 313.1h0M111.2 330.6h0M145.4 322.4h0M126.9 333.0h0M134.8 327.0h0M144.8 327.8h0M122.2 315.8h0M135.1 318.6h0M135.6 333.4h0M127.7 315.8h0M126.1 313.5h0M130.8 317.7h0M139.2 310.5h0M141.2 312.8h0M96.8 327.5h0M147.6 296.8h0M122.3 320.4h0M126.9 313.9h0M128.9 319.8h0M137.3 315.1h0M118.5 318.7h0M140.7 311.3h0M134.6 336.3h0M133.6 317.8h0M108.8 308.6h0M120.5 316.4h0M114.1 323.8h0M147.4 309.8h0M131.8 319.4h0M144.8 285.0h0M136.4 310.6h0M126.2 316.6h0M136.6 323.2h0M131.6 327.3h0M123.3 318.7h0M117.8 309.8h0M129.4 325.1h0M143.9 316.4h0M134.6 314.7h0M139.6 326.8h0M124.4 322.2h0M133.7 318.2h0M115.2 324.5h0M126.4 326.3h0M127.9 322.7h0M133.7 324.8h0M128.6 321.9h0M134.1 324.5h0M151.1 304.4h0M130.4 320.1h0M142.1 300.2h0M131.7 299.5h0M155.4 298.3h0M129.6 292.2h0M125.9 318.6h0M129.4 324.0h0M150.0 307.2h0M141.6 308.9h0M108.1 311.5h0M151.4 326.8h0M107.8 318.7h0M128.7 315.7h0M122.9 320.6h0M101.1 333.7h0M128.1 332.5h0M142.7 318.8h0M156.2 300.4h0M134.4 312.8h0M127.7 318.2h0M118.9 324.8h0M137.0 314.4h0M123.6 314.7h0M137.0 318.7h0M129.9 321.2h0M126.2 316.3h0M151.8 303.9h0M139.3 299.5h0M119.1 339.7h0M117.8 321.0h0M146.1 326.7h0M104.1 338.0h0M123.5 302.8h0M142.8 323.6h0M104.1 317.3h0M123.8 313.5h0M115.5 303.0h0M114.5 333.8h0M140.6 305.8h0M138.6 314.1h0M117.0 323.4h0M121.3 332.4h0M110.0 329.7h0M139.7 313.8h0M120.6 318.5h0M120.7 328.0h0M115.0 322.6h0M100.0 337.3h0M97.1 322.6h0M105.5 320.9h0M128.4 311.2h0M138.3 328.3h0M101.2 335.5h0M81.1 347.6h0M133.5 312.2h0M130.2 314.8h0M104.8 329.9h0M142.2 298.8h0M115.2 333.5h0M130.2 308.9h0M135.7 309.2h0M102.7 310.5h0M128.1 320.7h0M129.9 317.7h0M145.8 315.2h0M105.9 315.5h0M121.1 324.0h0M130.3 327.2h0M126.5 326.9h0M126.9 312.8h0M158.2 291.3h0M145.8 318.3h0M126.5 317.4h0M143.6 299.8h0M154.6 310.9h0M126.4 341.2h0M105.5 332.4h0M140.5 303.2h0M99.6 325.1h0M140.8 313.2h0M99.2 314.5h0M119.0 317.6h0M148.2 300.3h0M135.8 297.0h0M156.6 314.8h0M132.3 311.2h0M141.0 311.9h0M126.5 308.3h0M136.7 325.3h0M146.3 302.3h0M165.0 301.8h0M98.9 330.6h0M118.6 305.6h0M103.9 336.7h0M125.1 332.2h0M145.5 333.4h0M137.2 302.9h0M131.6 305.1h0M111.4 326.7h0M146.9 302.1h0" stroke="#777" stroke-opacity="0.22" stroke-width="1.20" stroke-linecap="round" fill="none"/>
<path d="M109.3 313.5h0M139.0 315.1h0M140.4 310.8h0M107.7 340.8h0M130.3 311.4h0M108.1 301.6h0M120.1 337.6h0M122.8 312.4h0M135.0 314.0h0M117.2 338.0h0M129.8 313.2h0M110.3 335.5h0M126.5 313.5h0M122.2 329.6h0M124.9 300.9h0M143.0 297.7h0M137.3 313.7h0M121.8 315.2h0M146.0 319.5h0M103.3 314.6h0M114.0 311.0h0M126.0 331.6h0M121.4 325.1h0M130.1 327.1h0M130.8 339.3h0M157.9 305.3h0M95.3 325.6h0M111.7 334.1h0M130.8 324.5h0M142.1 322.1h0M115.8 330.8h0M132.6 325.3h0M132.5 326.6h0M133.0 311.3h0M127.7 321.7h0M98.4 334.6h0M136.7 324.6h0M136.1 306.1h0M141.6 318.5h0M123.2 329.0h0M109.9 315.9h0M116.5 317.0h0M100.9 315.0h0M137.6 306.5h0M149.6 304.4h0M150.7 303.6h0M130.5 323.7h0M115.2 314.8h0M121.1 333.5h0M134.4 317.2h0M114.8 349.1h0M118.4 318.2h0M114.7 336.8h0M120.3 298.0h0M123.4 326.4h0M113.5 314.2h0M111.4 336.5h0M114.2 325.5h0M138.5 314.8h0M141.6 307.5h0M107.2 338.0h0M139.0 302.9h0M111.7 322.9h0M128.2 321.8h0M101.4 327.8h0M126.3 328.5h0M140.3 321.4h0M128.9 316.7h0M153.5 305.3h0M108.7 343.5h0M112.4 336.9h0M134.0 326.4h0M146.9 308.3h0M135.6 311.8h0M120.1 309.5h0M139.4 325.3h0M123.7 329.0h0M129.9 313.8h0M125.2 298.8h0M123.0 351.6h0M121.4 322.6h0M122.9 317.6h0M150.8 304.6h0M125.5 325.5h0M136.4 308.3h0M139.1 289.5h0M150.3 308.0h0M111.1 329.9h0M141.7 309.3h0M94.7 335.6h0M131.7 305.9h0M127.4 329.7h0M129.8 308.9h0M145.2 326.8h0M129.8 325.9h0M151.3 313.5h0M105.4 330.6h0M141.7 308.1h0M119.7 311.6h0M114.5 334.5h0M112.0 308.3h0M133.2 310.1h0M163.9 288.0h0M158.1 304.4h0M133.7 339.2h0M111.0 312.8h0M132.0 318.2h0M128.5 320.5h0M109.3 327.9h0M123.5 320.2h0M141.2 301.2h0M127.6 320.6h0M142.9 319.9h0M101.4 332.3h0M127.7 310.8h0M112.3 322.0h0M106.3 329.8h0M126.1 310.5h0M138.1 324.7h0M110.7 320.0h0M101.7 332.0h0M143.5 319.3h0M114.1 333.3h0M152.5 322.8h0M133.0 314.8h0M128.0 311.8h0M136.6 336.5h0M118.3 324.6h0M109.1 343.3h0M116.9 327.3h0M110.3 326.6h0M109.7 317.4h0M139.9 308.8h0M154.9 309.8h0M155.3 297.6h0M119.2 329.4h0M116.5 301.8h0M145.9 315.4h0M118.2 321.6h0M106.1 325.6h0M133.5 326.0h0M120.5 336.7h0M126.8 320.8h0M137.1 306.6h0M105.5 330.2h0M129.5 320.2h0M125.4 318.9h0M140.3 326.7h0M116.4 330.1h0M119.1 321.6h0M143.0 302.5h0M167.6 299.1h0M142.0 309.6h0M131.0 331.0h0M153.0 309.6h0M133.1 314.4h0M101.8 351.2h0M128.5 325.9h0M111.8 307.3h0M98.9 344.3h0M128.0 312.1h0M141.8 322.9h0M147.0 320.1h0M84.6 339.1h0M119.5 325.0h0M139.5 308.4h0M103.7 336.0h0M138.7 325.7h0M130.4 315.5h0M100.1 320.6h0M124.2 336.5h0M112.3 320.7h0M156.1 316.2h0M119.1 332.1h0M126.1 314.0h0M103.7 322.3h0M139.9 305.9h0M90.6 343.7h0M140.7 325.9h0M127.6 320.8h0M117.1 309.2h0M135.7 311.0h0M119.4 308.8h0M112.3 326.7h0M137.2 309.9h0M112.9 315.1h0M116.9 301.5h0M106.3 334.7h0M127.2 318.7h0M138.3 317.0h0M109.3 321.7h0M146.7 323.8h0M137.0 320.5h0M96.0 335.2h0M102.8 328.8h0M128.2 313.2h0M146.5 301.7h0M143.3 310.9h0M123.5 301.3h0M123.0 337.1h0M114.1 327.4h0M143.0 303.6h0M151.9 307.1h0M143.8 299.5h0M105.2 322.2h0M127.0 313.7h0M130.4 332.5h0M101.9 335.2h0M108.4 323.7h0M122.5 303.3h0M138.8 314.3h0M108.0 322.1h0M122.3 316.0h0M127.9 314.1h0M119.9 304.9h0M143.6 310.1h0M125.5 327.3h0M128.9 313.4h0M138.0 293.5h0M105.6 330.3h0M133.8 305.0h0M119.3 319.4h0M142.1 313.6h0M134.0 311.9h0M124.8 331.3h0M123.2 311.8h0M146.3 320.3h0M146.4 309.5h0M107.9 331.4h0M143.3 329.7h0M139.5 306.9h0M111.8 315.5h0M154.6 299.9h0M100.4 332.6h0M149.8 324.3h0M121.9 327.5h0M156.2 307.0h0M98.4 331.8h0M120.6 323.5h0M118.5 335.1h0M128.6 318.1h0M135.8 321.4h0M101.7 302.5h0M138.9 306.3h0M116.8 325.7h0M126.3 333.0h0M167.8 288.1h0M118.5 321.9h0M108.6 325.8h0M131.6 299.1h0M144.7 310.6h0M119.0 314.9h0M139.7 296.6h0M121.8 335.0h0M126.6 300.2h0M121.9 332.2h0M126.1 317.8h0M135.0 307.9h0M116.7 331.9h0M119.6 345.0h0M149.3 312.3h0M142.7 306.1h0M113.7 308.2h0M131.4 310.8h0M127.1 309.7h0M144.1 314.2h0M144.3 327.4h0M158.6 297.6h0M102.2 335.5h0M114.5 311.8h0M112.1 333.9h0M126.7 333.9h0M108.0 324.9h0M112.9 332.5h0M111.5 340.3h0M161.2 296.6h0M119.9 324.0h0M117.7 325.7h0M135.1 308.2h0M127.9 317.3h0M146.2 309.9h0M135.3 341.6h0M131.9 331.3h0M125.7 308.8h0M134.4 312.0h0M133.1 332.9h0M132.7 300.8h0M117.4 317.0h0M95.3 348.2h0M121.3 314.6h0M136.3 327.1h0M114.9 334.9h0M129.8 319.7h0M108.8 320.5h0M137.1 310.0h0M134.4 324.9h0M138.2 316.5h0M120.4 316.9h0M102.5 326.4h0M114.6 307.8h0M124.4 323.5h0M108.1 332.2h0M107.9 336.3h0M119.9 328.5h0M117.9 320.5h0M131.8 332.1h0M138.4 332.3h0M144.0 306.1h0M151.2 319.3h0M142.8 306.7h0M86.7 341.5h0M138.8 304.5h0M96.9 328.7h0M124.6 327.0h0M130.7 304.9h0M150.6 308.7h0M130.8 317.4h0M115.5 327.1h0M136.0 336.1h0M106.5 329.2h0M129.3 312.0h0M130.0 320.3h0M171.1 291.6h0M104.2 311.6h0M106.8 325.4h0M136.3 309.8h0M140.3 302.1h0M120.4 337.6h0M162.8 301.5h0M116.2 316.1h0M133.9 307.7h0M108.8 323.0h0M132.1 319.7h0M131.2 316.7h0M130.0 316.3h0M132.0 311.5h0M119.3 314.4h0M113.4 302.7h0M122.9 328.5h0M100.7 321.5h0M108.8 330.8h0M111.3 322.1h0M110.9 336.3h0M125.3 327.3h0M120.8 325.1h0M139.4 319.9h0M106.4 310.9h0M141.8 323.3h0M117.0 327.4h0M112.9 313.2h0M112.8 317.0h0M114.0 304.1h0M158.6 311.2h0M112.7 323.8h0M144.3 315.2h0M116.1 322.5h0M110.9 319.2h0M105.6 320.1h0M124.2 319.9h0M123.0 302.2h0M118.1 305.9h0M139.9 320.5h0M118.8 341.8h0M138.4 308.2h0M134.5 321.7h0M140.5 314.8h0M125.4 307.2h0M139.9 329.6h0M140.4 323.7h0M125.2 325.0h0M141.0 306.9h0M114.5 332.1h0M100.4 319.3h0M109.3 315.1h0M137.9 317.0h0M123.1 316.8h0M117.6 324.8h0M120.8 313.3h0M130.0 320.8h0M124.5 325.6h0M125.7 297.2h0M107.9 317.1h0M143.0 313.8h0M109.7 334.7h0M130.5 312.7h0M139.4 330.8h0M158.1 302.4h0M113.2 325.6h0M136.9 321.4h0M104.5 317.1h0M128.0 319.3h0M136.8 305.2h0M112.5 332.2h0M116.0 310.4h0M142.0 312.0h0M128.1 318.1h0M130.7 300.8h0M119.4 320.6h0M105.3 329.0h0M97.1 338.7h0M144.9 327.5h0M93.2 300.4h0M99.9 331.3h0M139.9 307.7h0M106.0 325.0h0M133.3 296.5h0M121.8 318.8h0M163.4 306.9h0M125.1 318.2h0M144.6 303.5h0M120.2 328.7h0M119.3 321.2h0M110.7 322.4h0M157.1 296.8h0M129.3 314.4h0M151.5 303.1h0M176.5 294.0h0M132.1 300.9h0M120.7 317.1h0M114.4 303.6h0M126.8 333.6h0M140.3 304.9h0M119.6 322.3h0M127.0 310.8h0M159.7 290.7h0M119.6 294.5h0M138.5 336.1h0M113.6 323.9h0M125.7 307.4h0M122.5 323.8h0M123.7 338.0h0M120.2 313.8h0M126.1 319.3h0M114.9 314.1h0M111.4 321.4h0M130.8 316.1h0M147.1 304.4h0M117.2 321.5h0M99.4 334.1h0M122.2 314.9h0M144.2 304.7h0M165.0 292.4h0M130.4 323.2h0M115.8 313.7h0M149.1 321.1h0M102.0 335.7h0M107.0 318.1h0M139.4 302.7h0M105.5 322.9h0M132.2 319.5h0M123.9 313.6h0M143.9 303.3h0M98.6 330.4h0M110.0 318.3h0M89.5 342.5h0M144.8 310.6h0M110.6 336.0h0M111.6 325.9h0M157.7 299.0h0M141.0 295.4h0M133.6 316.5h0M125.5 315.1h0M109.6 341.1h0M158.1 314.1h0M136.4 329.2h0M105.8 344.3h0M141.8 307.9h0M124.1 324.0h0M139.5 301.4h0M101.5 331.5h0M101.6 339.9h0M130.8 354.3h0M116.1 341.6h0M142.9 319.3h0M137.7 313.3h0M128.3 324.9h0M140.8 307.3h0M140.9 304.7h0M126.9 320.6h0M104.9 325.5h0M144.2 319.9h0M109.4 327.3h0M113.2 326.3h0M157.3 308.5h0M146.0 305.0h0M109.7 316.7h0M153.2 297.1h0M167.1 307.7h0M115.9 322.6h0M119.6 320.9h0M134.2 331.8h0M105.5 340.9h0M134.6 326.9h0M141.1 298.3h0M137.6 315.5h0M105.1 326.0h0M150.0 317.7h0M133.8 292.9h0M128.3 330.1h0M135.0 327.8h0M130.7 330.2h0M130.4 326.2h0M135.4 314.4h0M121.8 316.3h0M129.7 310.4h0M130.8 307.7h0M110.7 306.3h0M106.5 341.3h0M96.2 336.3h0M134.7 296.7h0M126.4 321.8h0M119.9 312.3h0M122.3 318.8h0M127.3 321.8h0M134.3 316.8h0M129.3 303.6h0M147.7 327.1h0M134.0 325.6h0M118.5 321.4h0M124.4 330.3h0M122.4 317.9h0M92.2 315.1h0M148.4 311.4h0M145.9 315.4h0M133.9 306.1h0M105.8 337.0h0M126.5 327.9h0M118.6 303.2h0M153.0 311.1h0M133.2 287.5h0M117.7 315.4h0M109.9 322.9h0M130.4 319.3h0M145.6 296.9h0M120.7 308.0h0M106.5 321.5h0M123.9 320.0h0M113.0 327.3h0M124.3 312.4h0M167.0 298.5h0M129.5 308.1h0M128.6 308.4h0M154.7 302.5h0M120.0 327.3h0M127.9 322.5h0M143.8 302.3h0M115.7 326.1h0M135.7 319.2h0M120.7 325.0h0M114.0 328.1h0M123.6 320.4h0M117.8 320.3h0M103.2 294.3h0M120.0 323.2h0M138.5 299.6h0M138.0 341.2h0M130.0 314.8h0M148.8 293.6h0M135.2 322.6h0M129.7 333.3h0M146.8 295.3h0M150.9 298.4h0M128.5 337.3h0M135.6 322.9h0M135.8 337.2h0M126.6 302.9h0M138.3 310.7h0M154.7 312.2h0M120.2 324.0h0M129.9 318.0h0M125.0 346.9h0M145.2 312.3h0M89.6 337.7h0M118.8 319.9h0M117.4 308.1h0M114.6 309.4h0M153.0 301.8h0M119.8 325.9h0M120.7 328.3h0M95.4 338.2h0M125.6 337.3h0M122.2 329.3h0M131.0 325.8h0M156.7 306.2h0M110.3 311.8h0M154.0 312.4h0M110.8 314.3h0M122.4 337.8h0M140.4 311.9h0M107.7 335.9h0M136.7 316.1h0M123.1 320.7h0M127.8 320.9h0M111.4 306.7h0M114.2 328.8h0M140.3 303.0h0M142.6 323.9h0M145.2 326.5h0M157.6 298.0h0M121.0 307.9h0M150.7 300.2h0M148.9 312.1h0M127.3 319.4h0M104.1 319.9h0M108.4 319.0h0M118.9 316.4h0M126.8 334.2h0M154.0 292.7h0M120.8 308.9h0M118.9 336.3h0M119.1 318.4h0M123.6 327.5h0M131.1 297.2h0M107.4 324.1h0M103.9 320.0h0M112.5 308.5h0M93.1 330.3h0M122.9 333.0h0M121.2 317.5h0M146.8 321.6h0M120.0 321.6h0M157.3 312.3h0M143.7 293.7h0M132.9 297.9h0M132.4 327.3h0M75.6 347.9h0M121.0 322.1h0M124.5 311.7h0M125.6 328.7h0M135.6 315.0h0M113.2 311.6h0M130.8 334.6h0M101.3 331.1h0M109.0 299.2h0M142.5 303.2h0M133.8 314.5h0M121.5 326.4h0M148.4 330.7h0M111.1 316.3h0M135.9 295.1h0M132.7 310.9h0M146.1 297.9h0M138.9 296.9h0M120.9 321.1h0M113.9 326.4h0M135.1 306.6h0M118.3 324.1h0M123.7 324.1h0M136.2 305.9h0M123.7 311.4h0" stroke="#777" stroke-opacity="0.22" stroke-width="1.20" stroke-linecap="round" fill="none"/>
<path d="M143.0 304.1h0M108.4 322.8h0M143.5 313.7h0M146.0 321.2h0M119.5 323.4h0M100.8 330.7h0M128.3 315.6h0M112.2 321.9h0M124.6 311.5h0M138.3 323.1h0M137.9 326.6h0M127.9 326.3h0M117.1 322.1h0M132.3 314.6h0M150.7 301.8h0M154.1 298.2h0M144.5 324.6h0M116.4 346.0h0M104.0 344.2h0M117.1 325.0h0M156.2 304.9h0M111.3 327.0h0M97.9 301.2h0M126.5 296.6h0M115.9 322.1h0M136.4 333.2h0M123.4 323.5h0M117.4 323.2h0M140.9 306.0h0M126.3 313.6h0M118.6 338.0h0M121.2 329.2h0M117.4 323.3h0M111.7 321.9h0M115.8 335.8h0M116.8 327.9h0M121.6 302.2h0M121.5 342.4h0M149.8 321.2h0M112.8 332.4h0M133.3 325.6h0M144.2 307.1h0M117.4 332.4h0M123.7 316.7h0M88.1 342.4h0M124.9 310.0h0M132.4 312.2h0M125.5 305.9h0M107.5 315.6h0M150.4 321.1h0M121.2 323.2h0M121.5 322.5h0M115.6 291.7h0M134.5 315.1h0M126.2 306.8h0M150.9 296.3h0M127.7 312.2h0M98.2 337.9h0M134.4 319.8h0M115.2 337.6h0M142.8 326.1h0M108.1 329.8h0M138.8 312.3h0M106.0 329.5h0M127.7 311.5h0M131.0 318.2h0M116.4 325.5h0M144.6 306.8h0M118.1 336.3h0M105.2 326.7h0M124.0 325.9h0M100.8 327.0h0M128.9 332.3h0M91.9 342.4h0M136.1 302.5h0M129.5 314.5h0M149.1 306.2h0M134.3 321.6h0M115.6 315.5h0M148.3 318.0h0M95.6 330.3h0M101.2 310.8h0M113.5 312.2h0M149.0 330.1h0M124.8 329.1h0M98.4 327.5h0M128.7 322.3h0M124.2 311.7h0M138.9 313.0h0M134.6 314.6h0M132.0 308.8h0M141.0 304.5h0M141.5 315.5h0M117.6 331.3h0M104.9 331.2h0M123.5 324.1h0M128.9 325.0h0M131.2 335.2h0M163.3 294.8h0M122.2 331.1h0M166.2 288.8h0M142.0 310.0h0M143.6 323.2h0M116.5 317.7h0M102.2 322.1h0M151.3 314.9h0M100.6 323.2h0M104.8 334.5h0M118.9 292.4h0M120.5 303.8h0M116.4 331.5h0M96.4 314.9h0M144.5 298.8h0M143.3 311.9h0M109.7 315.6h0M126.4 329.5h0M128.1 316.0h0M144.3 323.9h0M135.4 320.1h0M136.3 315.2h0M122.1 293.8h0M137.1 307.4h0M117.1 328.5h0M140.7 330.6h0M154.5 325.3h0M149.0 306.1h0M147.5 315.2h0M116.2 316.0h0M113.3 310.5h0M136.6 308.5h0M135.4 312.8h0M142.6 295.3h0M107.5 328.2h0M138.7 314.2h0M161.5 303.6h0M120.8 299.9h0M94.5 333.9h0M120.6 318.6h0M123.6 338.8h0M110.4 321.1h0M132.6 329.5h0M158.6 323.4h0M142.8 316.2h0M118.9 321.2h0M127.8 323.2h0M130.7 315.5h0M125.4 312.9h0M125.5 321.6h0M109.2 294.3h0M141.7 311.2h0M137.3 335.0h0M115.7 324.4h0M123.9 316.0h0M131.0 315.5h0M131.3 333.9h0M121.1 292.9h0M117.2 325.8h0M98.5 338.0h0M137.2 295.5h0M119.1 306.6h0M146.3 304.7h0M104.8 329.6h0M126.1 324.0h0M135.0 327.6h0M109.5 341.0h0M126.3 335.3h0M133.7 334.1h0M117.9 328.0h0M120.7 311.2h0M141.3 324.0h0M140.4 302.6h0M139.1 311.9h0M134.5 309.9h0M113.0 328.4h0M85.7 324.1h0M101.6 338.4h0M117.9 325.0h0M149.5 309.2h0M126.7 332.5h0M123.7 328.3h0M114.7 350.0h0M149.0 303.3h0M155.4 305.9h0M133.1 320.5h0M143.3 308.7h0M101.4 328.6h0M127.7 305.0h0M118.6 317.0h0M121.7 314.4h0M139.9 328.4h0M122.8 346.0h0M119.9 305.6h0M148.4 318.8h0M130.0 296.5h0M138.4 299.7h0M145.1 314.2h0M163.1 307.2h0M111.1 327.6h0M108.9 341.4h0M112.1 317.0h0M130.7 329.7h0M123.3 318.5h0M133.0 327.9h0M143.6 309.4h0M123.2 312.3h0M122.9 307.4h0M129.7 341.1h0M116.0 309.2h0M112.7 332.1h0M135.0 349.0h0M123.1 327.7h0M136.9 319.2h0M115.8 315.4h0M129.1 332.5h0M127.8 333.9h0M116.1 313.7h0M132.5 312.1h0M106.5 335.2h0M148.1 308.3h0M120.5 297.9h0M138.2 316.3h0M86.7 343.4h0M112.8 334.1h0M110.6 322.9h0M126.0 308.6h0M133.7 303.9h0M121.6 318.2h0M132.8 318.8h0M123.8 328.7h0M120.9 320.3h0M135.1 297.3h0M121.5 328.5h0M140.3 311.4h0M142.6 311.0h0M114.1 330.7h0M143.5 322.2h0M126.1 302.5h0M123.3 320.3h0M124.9 307.5h0M126.7 306.6h0M114.5 339.8h0M142.6 326.5h0M145.2 302.0h0M121.5 324.1h0M116.0 311.2h0M122.4 312.1h0M125.5 321.0h0M113.9 308.8h0M141.4 315.0h0M145.9 316.8h0M132.8 299.2h0M87.5 336.5h0M128.9 309.9h0M125.6 320.3h0M155.6 290.7h0M127.8 314.8h0M128.7 330.0h0M114.2 311.4h0M133.5 319.7h0M124.9 334.7h0M121.2 315.6h0M127.0 314.9h0M112.7 344.1h0M152.6 324.7h0M154.0 317.2h0M129.6 327.9h0M119.8 316.0h0M101.8 328.7h0M135.0 316.9h0M133.6 311.9h0M106.1 334.9h0M144.1 314.8h0M151.2 313.0h0M146.3 317.8h0M112.5 318.3h0M134.1 313.7h0M122.8 337.4h0M171.5 292.1h0M118.9 332.7h0M110.4 311.4h0M120.1 307.4h0M114.6 329.1h0M136.1 306.1h0M135.8 309.2h0M122.3 334.2h0M148.7 327.2h0M125.7 319.3h0M88.1 343.7h0M118.0 333.0h0M127.9 306.5h0M145.0 298.7h0M141.5 321.8h0M152.4 295.3h0M119.3 338.3h0M156.6 292.9h0M133.7 308.7h0M156.1 309.4h0M148.8 297.0h0M118.5 333.6h0M139.6 302.3h0M126.5 296.5h0M123.2 313.4h0M133.8 306.0h0M120.9 307.1h0M203.1 273.4h0M133.1 318.0h0M105.8 321.7h0M126.9 322.3h0M114.3 312.2h0M117.9 320.6h0M151.1 302.6h0M107.0 329.1h0M101.8 337.1h0M121.6 326.2h0M131.3 308.2h0M116.1 318.3h0M119.6 322.3h0M134.2 320.7h0M134.8 330.2h0M123.5 321.3h0M114.7 330.8h0M144.6 297.8h0M100.1 338.3h0M111.3 324.6h0M123.6 316.7h0M123.2 307.8h0M145.3 308.1h0M123.3 314.6h0M134.2 338.1h0M130.9 327.0h0M104.4 324.0h0M119.7 325.1h0M145.4 300.2h0M142.8 297.5h0M120.6 317.1h0M92.6 343.2h0M125.1 329.7h0M124.2 295.3h0M102.3 330.2h0M116.0 334.1h0M127.9 311.3h0M116.1 331.2h0M134.5 315.8h0M146.3 295.3h0M124.2 291.6h0M106.1 330.9h0M152.2 299.2h0M131.4 304.9h0M137.7 328.2h0M138.5 306.9h0M111.9 325.7h0M106.9 339.4h0M132.8 329.0h0M160.5 321.6h0M147.0 299.6h0M145.1 319.0h0M142.4 284.5h0M122.9 327.8h0M130.7 317.3h0M119.6 316.2h0M126.6 317.6h0M135.4 311.6h0M119.6 305.6h0M141.9 325.8h0M136.8 303.6h0M137.3 318.7h0M113.5 332.5h0M121.7 312.3h0M107.6 330.1h0M161.2 318.9h0M130.8 314.1h0M129.5 312.3h0M124.8 304.3h0M154.4 300.0h0M118.2 334.9h0M123.1 332.5h0M127.6 316.5h0M109.1 323.5h0M116.9 318.1h0M105.7 326.8h0M135.0 325.8h0M125.5 328.2h0M115.5 323.9h0M142.2 305.9h0M124.4 321.6h0M133.7 327.0h0M142.4 313.7h0M101.9 330.0h0M114.5 338.0h0M104.6 319.3h0M107.2 327.3h0M110.4 321.1h0M103.5 321.0h0M132.4 314.9h0M118.1 332.9h0M101.4 313.6h0M102.4 330.0h0M137.4 289.5h0M108.3 309.0h0M124.3 320.0h0M140.2 323.1h0M119.6 303.0h0M125.2 332.1h0M116.9 315.6h0M150.5 322.2h0M125.6 331.8h0M147.9 304.1h0M127.9 319.6h0M141.6 321.5h0M149.0 317.0h0M126.3 322.3h0M124.8 325.0h0M132.7 302.2h0M126.3 316.0h0M116.5 332.8h0M122.2 323.4h0M141.5 311.7h0M119.7 331.5h0M121.9 315.7h0M155.0 318.2h0M93.9 324.5h0M132.7 312.2h0M125.4 321.8h0M129.3 309.7h0M115.8 326.9h0M143.7 310.2h0M129.6 333.7h0M121.4 334.1h0M96.3 311.3h0M121.7 329.9h0M103.0 318.2h0M127.9 320.4h0M115.3 319.2h0M136.9 329.1h0M129.9 326.8h0M102.4 329.9h0M122.8 309.4h0M148.7 320.9h0M118.9 342.7h0M145.1 317.2h0M108.1 318.9h0M121.2 323.7h0M134.7 314.0h0M135.7 324.7h0M117.1 317.0h0M138.6 320.4h0M105.7 336.1h0M95.7 346.0h0M107.9 327.5h0M133.8 316.7h0M126.9 323.5h0M115.1 322.6h0M120.9 332.8h0M136.8 315.2h0M120.9 316.7h0M121.4 325.7h0M98.7 345.4h0M123.5 316.0h0M111.9 316.0h0M132.6 307.3h0M119.4 316.8h0M121.7 331.1h0M121.0 305.8h0M99.6 331.1h0M126.1 310.0h0M176.0 292.5h0M132.0 334.4h0M138.5 308.5h0M126.8 315.9h0M137.8 316.9h0M152.7 313.7h0M134.8 318.7h0M150.5 312.3h0M118.9 320.2h0M147.4 313.7h0M137.8 302.8h0M134.0 315.0h0M99.9 329.4h0M142.4 312.6h0M118.5 325.3h0M127.6 301.8h0M105.1 330.3h0M112.2 297.8h0M124.1 330.0h0M148.0 306.7h0M139.1 319.6h0M136.6 315.4h0M138.4 318.0h0M107.4 326.3h0M148.8 322.2h0M140.1 319.3h0M131.8 315.6h0M101.1 306.7h0M132.3 320.4h0M137.9 297.7h0M129.6 324.8h0M114.7 324.6h0M119.5 330.1h0M141.7 303.5h0M147.3 322.6h0M151.1 312.4h0M131.6 332.7h0M138.4 310.8h0M131.1 316.0h0M102.0 309.3h0M137.6 318.4h0M120.3 313.0h0M108.3 323.8h0M128.1 304.3h0M104.2 320.0h0M153.9 304.6h0M125.9 333.7h0M138.3 313.4h0M146.1 307.9h0M135.2 328.4h0M111.2 337.7h0M105.5 330.0h0M116.9 324.4h0M155.8 294.3h0M146.4 322.2h0M117.0 332.6h0M114.3 323.1h0M127.2 319.2h0M125.1 317.1h0M115.9 328.2h0M97.7 337.2h0M122.9 311.4h0M115.7 316.7h0M129.2 321.3h0M121.8 315.4h0M105.5 330.0h0M139.2 337.5h0M125.5 316.4h0M144.7 317.1h0M138.3 314.8h0M140.9 316.4h0M108.4 322.7h0M121.7 334.0h0M144.8 317.1h0M131.3 306.1h0M161.8 297.1h0M119.9 331.9h0M133.4 317.3h0M124.7 320.8h0M145.3 304.0h0M140.4 319.7h0M100.0 306.5h0M108.2 324.1h0M135.9 335.3h0M115.1 314.6h0M112.5 337.2h0M122.3 338.9h0M155.6 314.8h0M114.1 305.6h0M128.2 317.7h0M112.1 325.1h0M111.0 307.9h0M137.2 299.8h0M127.0 337.9h0M116.1 325.5h0M123.8 327.6h0M114.6 320.6h0M139.3 307.2h0M134.1 302.6h0M127.3 319.6h0M114.2 310.9h0M143.8 319.8h0M102.2 343.0h0M142.1 317.5h0M132.8 299.3h0M123.0 316.5h0M120.7 329.5h0M160.1 309.5h0M115.9 324.2h0M124.4 331.0h0M123.6 314.8h0M104.3 327.5h0M111.2 338.7h0M95.4 337.6h0M137.0 312.2h0M135.8 322.7h0M107.8 322.7h0M123.4 330.7h0M120.3 291.8h0M131.3 297.8h0M110.4 321.0h0M152.4 307.3h0M148.2 303.6h0M119.3 315.0h0M117.3 327.0h0M120.4 311.9h0M138.0 322.9h0M106.0 316.0h0M130.7 295.8h0M101.5 311.4h0M117.6 322.7h0M110.4 301.4h0M139.3 317.0h0M130.4 306.1h0M140.4 295.3h0M118.6 326.3h0M134.0 299.3h0M137.8 319.6h0M137.3 316.4h0M142.0 317.7h0M131.3 320.0h0M157.0 305.7h0M150.3 306.7h0M122.2 320.5h0M142.1 301.2h0M110.7 330.4h0M143.3 310.7h0M90.7 344.8h0M131.9 325.4h0M138.1 300.6h0M147.6 311.7h0M119.5 309.8h0M125.3 308.4h0M127.8 308.1h0M128.1 327.1h0M125.5 324.2h0M114.9 318.0h0M109.1 321.9h0M103.0 318.7h0M161.3 303.3h0M132.4 309.4h0M131.5 317.3h0M153.8 307.2h0M140.6 311.9h0M124.1 307.1h0M137.7 331.0h0M139.7 338.0h0M131.3 324.4h0M147.5 301.5h0M133.5 325.6h0M155.7 292.3h0M112.9 339.2h0M120.9 303.8h0M132.0 293.5h0M125.0 322.7h0M157.0 320.3h0M133.3 308.6h0M117.8 324.7h0M115.7 323.9h0M133.2 314.0h0M109.4 331.9h0M127.7 312.9h0M110.0 327.5h0M124.3 312.8h0M96.7 341.2h0" stroke="#777" stroke-opacity="0.22" stroke-width="1.20" stroke-linecap="round" fill="none"/>
<path d="M82.4 345.6h0M104.0 317.9h0M105.0 318.8h0M128.6 314.5h0M90.2 331.2h0M127.8 309.1h0M146.4 293.0h0M145.5 302.0h0M132.3 327.3h0M147.8 329.7h0M144.9 317.0h0M112.3 311.4h0M131.6 334.0h0M135.2 308.6h0M119.1 319.3h0M117.2 311.5h0M138.9 316.2h0M130.1 311.5h0M154.7 297.9h0M125.7 320.7h0M120.1 335.9h0M110.1 342.2h0M105.0 329.3h0M147.5 307.3h0M117.9 318.6h0M127.0 308.0h0M112.5 310.0h0M139.4 303.8h0M121.6 320.8h0M133.1 312.3h0M132.8 332.2h0M110.8 321.7h0M142.9 331.5h0M129.7 304.9h0M129.4 325.9h0M113.2 341.3h0M122.9 317.8h0M131.1 308.3h0M130.7 300.3h0M121.7 329.7h0M135.9 353.7h0M166.1 305.4h0M142.2 335.2h0M124.4 335.0h0M123.2 321.7h0M104.0 320.8h0M112.0 315.6h0M155.6 312.3h0M162.4 300.3h0M142.1 301.7h0M119.5 316.5h0M91.8 337.3h0M123.6 336.9h0M146.5 322.6h0M138.2 320.8h0M103.3 337.6h0M133.4 303.7h0M120.4 308.0h0M111.6 315.6h0M107.5 326.6h0M125.0 318.4h0M123.9 325.5h0M104.1 329.8h0M127.4 304.2h0M118.6 337.7h0M126.3 324.3h0M116.0 317.3h0M146.2 311.5h0M115.9 314.0h0M125.4 320.5h0M145.3 298.5h0M116.0 333.7h0M147.7 316.0h0M135.1 331.6h0M117.1 317.5h0M94.0 324.1h0M128.4 347.5h0M124.0 330.1h0M152.3 308.7h0M149.3 304.7h0M130.1 310.2h0M120.5 302.7h0M114.5 343.2h0M128.4 312.6h0M125.2 336.2h0M156.0 308.0h0M110.4 338.8h0M138.5 335.6h0M107.0 319.6h0M129.6 319.0h0M125.7 326.3h0M129.3 302.6h0M127.4 312.2h0M132.4 299.5h0M123.7 328.5h0M130.4 311.7h0M118.4 315.8h0M113.3 308.3h0M145.8 307.1h0M110.2 306.6h0M152.6 303.5h0M135.8 320.3h0M150.6 318.1h0M152.4 307.0h0M135.1 316.6h0M112.2 319.0h0M126.8 307.4h0M134.7 317.4h0M112.3 319.7h0M127.0 314.8h0M141.7 312.8h0M138.8 313.1h0M118.1 307.9h0M121.4 321.0h0M148.0 312.1h0M126.5 318.1h0M111.5 314.1h0M145.4 314.5h0M125.7 300.0h0M172.2 295.3h0M164.9 305.4h0M112.6 325.4h0M128.8 304.3h0M148.8 301.7h0M132.2 313.2h0M99.9 327.1h0M128.2 320.0h0M156.2 324.3h0M167.4 299.2h0M114.7 324.4h0M121.2 321.4h0M128.7 314.1h0M133.0 321.8h0M117.8 325.5h0M128.5 291.8h0M138.8 312.8h0M102.3 346.0h0M131.1 322.7h0M138.1 332.1h0M130.1 311.0h0M139.0 321.9h0M134.4 295.7h0M126.5 320.2h0M114.7 327.1h0M121.3 317.7h0M115.7 299.6h0M120.2 320.9h0M132.4 310.1h0M128.5 347.6h0M108.4 327.9h0M121.6 319.1h0M95.8 336.0h0M120.2 320.9h0M103.0 337.5h0M91.3 322.5h0M145.0 338.4h0M151.5 318.6h0M125.9 307.8h0M140.2 314.4h0M119.6 329.9h0M115.3 318.2h0M116.1 341.8h0M116.7 337.5h0M110.9 328.0h0M134.3 321.1h0M112.5 309.7h0M118.7 326.7h0M153.3 315.1h0M136.5 316.6h0M115.9 304.9h0M135.1 303.7h0M132.4 310.7h0M139.2 318.9h0M82.5 344.8h0M135.6 326.5h0M111.0 327.5h0M131.2 298.0h0M107.3 338.2h0M149.7 317.6h0M90.1 341.1h0M126.4 311.6h0M142.9 310.2h0M142.2 336.2h0M123.6 286.7h0M86.5 334.3h0M95.3 328.1h0M110.5 317.5h0M87.9 339.4h0M134.9 336.1h0M131.2 299.6h0M137.0 313.3h0M104.1 340.4h0M152.5 306.1h0M132.1 299.2h0M115.1 292.0h0M101.2 341.3h0M144.3 311.4h0M159.2 292.0h0M146.3 325.5h0M98.6 328.3h0M117.5 308.5h0M103.0 327.8h0M131.8 307.0h0M109.6 322.4h0M136.6 326.5h0M138.6 326.3h0M143.5 321.5h0M128.9 310.1h0M121.3 331.0h0M103.8 326.1h0M150.5 312.0h0M116.4 313.6h0M98.7 338.9h0M127.6 316.8h0M128.6 309.4h0M139.8 319.0h0M118.0 291.7h0M149.1 300.9h0M119.0 320.7h0M110.7 346.1h0M117.6 306.8h0M107.2 298.6h0M130.3 315.5h0M114.6 313.3h0M125.2 333.2h0M139.0 318.6h0M148.9 320.8h0M146.6 305.4h0M132.2 317.5h0M126.0 329.7h0M147.3 320.2h0M120.1 308.1h0M129.8 327.1h0M128.1 310.4h0M92.8 341.5h0M103.9 328.8h0M110.3 338.0h0M147.5 320.7h0M124.6 315.2h0M154.4 300.4h0M133.7 308.2h0M132.8 329.3h0M143.6 316.0h0M135.6 332.3h0M138.1 299.1h0M145.7 303.4h0M121.8 321.3h0M110.2 323.9h0M134.9 307.3h0M133.5 302.8h0M123.7 305.0h0M140.0 303.1h0M152.1 310.0h0M90.4 334.4h0M100.7 315.9h0M142.0 317.4h0M134.3 332.1h0M112.6 311.0h0M148.6 316.4h0M118.0 308.9h0M108.2 323.3h0M118.4 313.8h0M117.0 308.6h0M118.8 333.9h0M108.2 312.7h0M147.5 296.8h0M125.3 310.7h0M160.4 313.3h0M128.3 321.8h0M100.5 328.6h0M133.6 335.2h0M118.4 314.1h0M123.3 306.0h0M130.3 311.9h0M117.0 341.1h0M121.7 336.9h0M127.1 304.4h0M110.1 323.3h0M122.8 330.9h0M119.3 345.5h0M130.5 287.9h0M144.7 317.7h0M150.9 313.8h0M146.1 329.5h0M142.7 310.8h0M118.3 325.6h0M118.7 297.9h0M132.4 309.5h0M120.5 325.2h0M133.6 319.6h0M133.7 303.1h0M161.1 301.6h0M128.7 305.9h0M92.5 333.9h0M108.3 334.1h0M104.2 325.0h0M137.3 311.7h0M163.1 309.3h0M119.5 331.0h0M135.1 310.7h0M155.1 305.5h0M143.9 315.7h0M150.7 314.3h0M129.0 336.8h0M106.4 319.5h0M104.0 329.3h0M149.3 332.7h0M130.8 315.4h0M134.4 312.0h0M118.3 339.1h0M121.7 320.2h0M141.4 316.7h0M128.0 325.0h0M129.1 314.5h0M129.8 296.2h0M109.7 325.0h0M125.5 310.9h0M139.1 309.4h0M151.2 302.6h0M108.4 328.2h0M146.2 294.6h0M117.4 326.4h0M130.2 312.2h0M114.2 316.3h0M121.9 322.2h0M110.4 312.3h0M126.9 326.9h0M109.8 331.7h0M105.3 328.7h0M135.3 327.5h0M123.2 341.8h0M113.4 327.6h0M114.1 341.0h0M116.2 321.4h0M126.6 323.0h0M125.7 326.7h0M138.3 315.4h0M140.4 308.2h0M144.5 308.4h0M103.6 321.8h0M152.8 325.9h0M120.5 331.3h0M110.6 311.9h0M135.4 314.0h0M98.3 345.0h0M104.1 319.9h0M134.8 331.1h0M135.2 311.4h0M132.8 305.9h0M125.3 314.7h0M114.3 331.3h0M124.3 321.3h0M123.7 337.3h0M111.1 334.3h0M136.4 285.9h0M135.2 328.5h0M112.3 330.5h0M141.7 312.3h0M96.7 325.0h0M130.0 325.6h0M119.6 324.4h0M119.9 286.8h0M139.2 311.7h0M144.7 307.8h0M134.0 321.4h0M104.7 333.3h0M128.4 317.3h0M130.7 339.3h0M131.2 325.4h0M118.2 308.6h0M128.8 326.4h0M118.6 322.3h0M144.1 312.0h0M100.4 331.9h0M127.3 315.0h0M123.6 321.6h0M136.9 312.6h0M146.3 305.6h0M102.4 331.2h0M124.4 324.3h0M131.5 311.8h0M122.8 317.7h0M97.6 325.9h0M102.1 325.0h0M153.4 323.3h0M136.0 308.1h0M126.7 309.4h0M121.9 307.7h0M163.8 324.9h0M135.5 327.2h0M120.5 306.8h0M124.0 326.1h0M115.4 307.9h0M138.2 321.5h0M140.3 307.8h0M133.8 312.0h0M112.1 306.5h0M103.0 335.6h0M121.8 315.0h0M159.9 299.8h0M128.8 313.5h0M117.2 324.6h0M121.9 308.0h0M126.0 321.4h0M108.3 325.7h0M124.9 316.1h0M117.4 319.7h0M104.4 304.5h0M115.1 336.0h0M137.9 325.3h0M119.6 306.0h0M112.7 326.0h0M133.2 299.1h0M134.4 325.8h0M134.0 318.6h0M92.3 317.4h0M145.1 321.9h0M125.1 324.9h0M144.3 307.4h0M130.9 322.7h0M111.2 320.4h0M125.7 348.3h0M148.6 303.2h0M129.0 323.8h0M118.0 314.8h0M129.9 324.9h0M134.2 337.8h0M170.3 288.7h0M101.9 344.1h0M133.6 323.0h0M99.0 316.0h0M135.8 321.1h0M148.0 306.2h0M139.8 332.8h0M121.2 326.3h0M122.3 337.0h0M140.9 323.7h0M129.3 325.4h0M117.5 313.1h0M115.3 317.4h0M118.3 329.8h0M116.0 304.6h0M136.3 294.0h0M110.2 324.1h0M122.4 334.7h0M121.0 325.2h0M110.6 318.7h0M143.3 319.7h0M118.7 316.9h0M120.7 297.9h0M110.4 327.7h0M114.7 305.8h0M97.3 331.9h0M116.8 337.2h0M141.9 340.8h0M99.3 319.6h0M128.4 304.7h0M103.3 324.1h0M160.3 307.9h0M130.1 297.4h0M129.1 325.5h0M138.4 302.7h0M117.6 317.5h0M136.4 310.3h0M120.7 341.2h0M154.6 322.2h0M113.3 329.1h0M122.5 324.1h0M115.4 314.2h0M128.8 316.8h0M125.4 320.3h0M115.1 334.7h0M79.4 351.7h0M131.0 316.0h0M107.3 316.3h0M153.2 315.6h0M127.5 312.7h0M151.8 320.2h0M129.7 309.9h0M146.6 295.4h0M135.6 298.4h0M146.4 319.7h0M148.3 318.6h0M146.4 321.2h0M138.1 329.9h0M99.8 326.1h0M109.0 327.3h0M122.3 311.0h0M121.2 309.6h0M118.2 325.4h0M114.1 336.8h0M105.6 302.9h0M101.8 338.7h0M118.9 338.1h0M119.6 318.6h0M136.9 298.8h0M123.5 297.4h0M102.2 325.9h0M99.0 314.6h0M113.6 300.4h0M113.4 326.1h0M105.9 319.7h0M94.3 341.0h0M155.8 302.1h0M132.8 318.8h0M158.6 310.6h0M120.1 332.5h0M98.4 329.7h0M113.2 334.0h0M144.1 295.6h0M136.8 308.0h0M123.5 294.7h0M129.8 313.5h0M153.3 308.0h0M134.1 318.6h0M127.6 304.8h0M105.6 341.4h0M126.2 309.2h0M112.2 297.4h0M123.7 311.9h0M122.2 319.0h0M117.8 319.3h0M94.5 321.9h0M134.5 339.8h0M95.8 332.4h0M124.8 322.8h0M134.5 316.9h0M135.6 295.9h0M122.9 329.9h0M130.8 306.7h0M116.4 316.7h0M154.1 297.0h0M118.4 335.5h0M149.7 314.5h0M114.2 336.8h0M121.8 299.9h0M115.9 337.3h0M119.2 308.5h0M120.8 315.3h0M134.8 319.3h0M159.5 314.9h0M120.6 327.8h0M124.4 302.8h0M122.9 315.4h0M121.0 339.7h0M147.6 317.0h0M157.0 307.5h0M127.4 307.9h0M160.0 290.8h0M98.7 343.9h0M145.5 315.8h0M131.2 326.2h0M131.6 337.1h0M134.4 324.4h0M146.8 300.3h0M150.2 305.6h0M129.9 319.0h0M122.8 321.9h0M132.1 325.3h0M117.4 326.7h0M123.1 331.2h0M133.6 311.2h0M145.1 298.4h0M116.2 328.6h0M130.0 325.4h0M138.0 301.7h0M126.5 321.8h0M136.8 307.1h0M148.2 294.8h0M162.5 295.7h0M118.7 330.3h0M138.3 297.8h0M135.9 296.0h0M143.1 312.7h0M117.6 323.8h0M138.3 325.3h0M138.2 312.0h0M111.6 311.5h0M105.3 314.0h0M115.5 302.9h0M138.6 321.6h0M114.6 334.4h0M108.7 316.0h0M146.7 304.1h0M118.7 313.3h0M117.9 308.8h0M116.4 328.7h0M120.5 317.4h0M114.2 317.6h0M102.8 336.4h0M125.5 296.2h0M131.9 338.9h0M139.2 305.8h0M147.3 319.2h0M123.3 316.8h0M103.6 322.4h0M83.1 332.3h0M151.7 303.3h0M128.4 294.8h0M132.0 310.1h0M139.0 320.7h0M144.3 323.8h0M129.1 309.6h0M148.1 322.2h0M145.5 315.7h0M145.0 311.9h0M143.0 320.6h0M123.7 316.6h0M99.2 332.3h0M134.4 310.5h0M106.7 335.3h0M88.8 332.4h0M116.0 326.4h0M125.8 319.8h0M122.2 327.0h0M132.1 306.9h0M119.1 316.0h0M129.8 302.2h0M123.7 305.9h0M135.3 306.8h0M133.1 312.3h0M114.3 324.6h0M123.3 305.2h0M124.2 329.6h0M110.2 330.4h0M112.4 329.3h0M112.8 337.6h0M135.8 312.8h0M112.3 323.1h0M140.0 309.1h0M104.9 314.7h0M121.2 324.0h0M114.0 314.3h0M130.7 297.8h0M143.9 306.2h0M105.6 304.2h0M138.3 312.6h0M118.9 312.1h0M120.9 310.6h0M110.1 338.0h0M103.6 333.7h0M123.5 316.9h0M148.3 312.0h0M113.8 338.5h0M136.4 317.3h0M129.0 313.9h0M129.4 320.7h0M116.7 338.4h0M120.7 315.7h0M117.4 314.1h0" stroke="#777" stroke-opacity="0.22" stroke-width="1.20" stroke-linecap="round" fill="none"/>
<path d="M131.6 312.1h0M112.7 324.7h0M148.5 315.2h0M131.4 306.1h0M125.1 307.0h0M126.8 317.1h0M145.2 312.6h0M148.8 310.4h0M169.9 290.2h0M135.5 315.4h0M135.0 313.3h0M132.9 312.6h0M109.0 329.9h0M112.2 320.5h0M96.3 335.6h0M135.3 313.0h0M117.0 321.1h0M150.2 306.9h0M122.5 332.0h0M138.5 305.3h0M123.4 324.1h0M140.4 320.3h0M158.7 299.0h0M126.7 296.0h0M130.4 320.7h0M119.6 314.3h0M122.5 327.5h0M135.9 307.5h0M117.2 315.8h0M133.5 311.9h0M105.1 336.4h0M123.7 315.9h0M142.1 308.6h0M146.3 298.7h0M117.0 320.9h0M119.9 332.1h0M139.0 315.8h0M125.3 341.7h0M110.9 329.8h0M137.6 312.0h0M125.6 321.4h0M119.2 326.6h0M134.0 311.0h0M122.8 325.1h0M105.7 330.2h0M125.5 304.6h0M145.2 310.4h0M152.0 305.7h0M131.6 305.8h0M119.5 320.5h0M129.9 311.2h0M124.5 318.2h0M112.3 323.6h0M116.7 325.2h0M118.3 306.1h0M126.9 308.6h0M121.5 310.3h0M129.4 317.2h0M143.1 310.6h0M121.3 333.1h0M137.9 306.3h0M130.6 311.9h0M114.1 330.9h0M134.1 316.9h0M132.2 320.3h0M126.1 320.3h0M135.6 320.7h0M138.5 308.1h0M128.4 311.2h0M117.0 328.0h0M126.3 327.4h0M125.2 317.7h0M136.9 316.2h0M123.8 322.4h0M115.9 338.2h0M131.5 313.0h0M130.7 309.0h0M132.5 321.1h0M112.5 324.7h0M114.2 324.2h0M121.5 325.1h0M124.8 325.2h0M134.5 306.8h0M120.5 317.9h0M130.6 332.4h0M137.9 303.7h0M130.8 299.7h0M117.6 309.1h0M113.4 304.6h0M136.1 316.0h0M153.7 305.5h0M139.8 312.9h0M143.4 306.3h0M125.9 321.5h0M126.1 312.3h0M138.7 313.0h0M140.8 306.1h0M149.9 305.8h0M126.1 313.8h0M132.5 320.8h0M113.7 333.1h0M129.1 314.4h0M149.1 316.9h0M134.6 329.6h0M121.9 311.3h0M116.4 317.5h0M123.7 332.3h0M108.4 319.1h0M126.9 306.0h0M120.2 318.5h0M122.1 317.5h0M127.9 322.4h0M154.0 299.9h0M131.5 322.3h0M122.8 305.8h0M130.7 321.9h0M126.5 324.3h0M115.3 325.3h0M119.3 323.5h0M120.7 316.8h0M144.9 318.3h0M132.5 308.2h0M110.4 318.1h0M95.3 338.7h0M113.4 326.7h0M127.6 313.1h0M143.4 311.4h0M132.0 326.0h0M114.6 314.2h0M114.4 330.7h0M122.5 322.1h0M117.2 309.0h0M122.4 314.5h0M119.1 323.5h0M118.9 313.0h0M136.0 312.0h0M129.6 318.3h0M121.5 320.2h0M138.3 312.2h0M116.6 318.6h0M151.2 302.0h0M124.8 325.5h0M137.9 314.7h0M129.1 316.9h0M145.6 304.9h0M114.4 328.7h0M129.1 315.5h0M129.8 323.1h0M116.1 321.8h0M101.7 332.5h0M151.7 299.7h0M130.4 327.4h0M150.4 310.3h0M146.4 314.3h0M145.4 307.5h0M109.2 335.2h0M133.3 304.1h0M116.6 314.0h0M124.9 321.1h0M129.2 326.9h0M131.7 310.3h0M130.2 319.2h0M131.1 318.6h0M122.2 328.0h0M124.0 323.6h0M145.7 304.8h0M94.1 332.3h0M115.4 316.9h0M128.9 309.8h0M123.1 324.0h0M114.6 308.1h0M127.2 309.1h0M129.9 315.6h0M130.2 311.2h0M147.1 310.1h0M125.0 316.7h0M141.3 308.9h0M132.0 302.1h0M137.3 310.5h0M133.6 324.1h0M134.3 318.5h0M124.4 311.2h0M137.6 297.7h0M152.7 305.5h0M133.0 324.7h0M110.7 327.5h0M116.4 319.9h0M126.6 318.6h0M105.4 332.1h0M125.3 316.1h0M139.8 309.7h0M112.7 332.6h0M133.0 326.1h0M133.8 321.5h0M121.0 314.4h0M125.8 330.1h0M116.8 322.6h0M129.1 317.2h0M154.2 309.1h0M113.4 320.2h0M130.6 315.7h0M118.9 318.0h0M116.0 323.2h0M126.3 323.4h0M139.6 297.6h0M140.2 322.0h0M130.2 298.6h0M134.0 308.9h0M140.7 303.3h0M134.3 308.6h0M135.1 308.6h0M129.2 326.3h0M121.0 321.1h0M129.8 313.1h0M127.9 318.5h0M104.5 327.4h0M120.1 319.7h0M115.8 328.3h0M143.9 304.0h0M138.0 307.1h0M145.2 314.9h0M126.9 310.4h0M109.8 335.2h0M107.8 325.8h0M109.6 327.7h0M146.9 295.2h0M131.1 317.3h0M137.7 313.1h0M121.6 312.2h0M144.9 316.5h0M129.2 327.7h0M117.5 314.4h0M102.6 332.1h0M139.4 316.3h0M106.1 321.8h0M147.1 314.4h0M108.0 337.3h0M116.2 319.6h0M140.1 307.6h0M145.4 305.6h0M162.1 298.5h0M120.8 318.2h0M124.8 325.3h0M120.4 327.6h0M128.8 309.2h0M109.8 324.1h0M130.5 341.2h0M109.1 321.8h0M136.6 309.3h0M130.7 309.4h0M142.6 301.9h0M123.6 318.3h0M146.7 299.3h0M112.3 326.6h0M121.2 323.4h0M120.2 320.0h0M106.3 334.0h0M83.7 346.7h0M134.4 324.7h0M152.6 314.0h0M126.4 314.8h0M135.4 312.2h0M115.0 324.4h0M123.2 315.1h0M98.9 332.8h0M135.2 310.1h0M146.3 307.9h0M116.4 321.0h0M127.7 319.9h0M117.8 314.9h0M117.4 328.7h0M130.5 323.6h0M148.8 297.5h0M97.6 338.6h0M150.7 305.0h0M131.5 322.8h0M119.2 321.8h0M146.4 314.6h0M129.2 313.2h0M105.1 323.7h0M114.2 313.0h0M136.4 311.3h0M114.5 316.2h0M123.2 310.6h0M113.2 333.5h0M119.5 321.2h0M144.3 304.3h0M148.6 306.6h0M144.9 316.5h0M121.5 307.9h0M133.8 320.5h0M99.7 324.1h0M128.3 321.3h0M129.0 327.1h0M133.4 310.2h0M119.0 319.1h0M127.5 309.4h0M138.2 320.9h0M116.1 315.7h0M135.4 302.3h0M144.1 299.5h0M127.2 316.7h0M122.4 323.9h0M136.5 303.5h0M122.2 316.3h0M130.1 326.2h0M137.9 317.5h0M111.5 313.1h0M136.0 327.5h0M125.5 323.2h0M114.0 333.8h0M130.6 306.1h0M115.2 327.5h0M126.8 309.7h0M115.6 316.8h0M122.9 313.8h0M107.8 337.5h0M96.0 334.7h0M119.7 308.8h0M148.9 310.6h0M125.3 322.2h0M135.3 313.2h0M98.9 337.2h0M130.6 323.3h0M125.0 308.3h0M119.9 328.8h0M120.4 321.2h0M146.5 311.1h0M134.4 315.8h0M128.1 323.5h0M119.8 329.8h0M145.8 310.7h0M125.5 305.4h0M148.0 314.9h0M133.4 308.9h0M133.4 317.7h0M116.9 325.0h0M147.1 320.1h0M125.7 323.6h0M152.8 309.0h0M104.7 318.4h0M136.7 319.1h0M121.9 328.6h0M138.9 326.8h0M127.0 319.7h0M110.1 335.4h0M103.9 333.6h0M126.3 309.6h0M146.9 310.0h0M122.8 320.5h0M114.3 330.6h0M134.4 315.4h0M147.6 311.7h0M117.1 325.3h0M113.6 333.3h0M119.4 324.7h0M118.0 313.5h0M139.9 315.8h0M126.0 316.8h0M129.3 317.0h0M141.5 304.7h0M135.4 313.5h0M120.7 321.1h0M120.7 314.6h0M130.8 314.2h0M126.4 328.5h0M139.8 298.9h0M145.0 320.1h0M143.0 311.0h0M134.6 305.1h0M134.9 317.6h0M112.8 328.0h0M125.5 314.3h0M146.8 308.1h0M105.9 315.7h0M117.5 317.9h0M121.4 312.8h0M111.0 327.3h0M125.2 319.4h0M126.7 308.3h0M111.8 326.1h0M102.0 326.7h0M145.0 302.9h0M119.6 326.3h0M131.1 315.1h0M128.4 323.1h0M146.4 312.7h0M121.5 325.0h0M121.1 322.5h0M138.2 320.5h0M114.4 316.4h0M130.5 307.9h0M119.8 317.7h0M126.4 309.4h0M122.3 326.1h0M137.5 314.2h0M115.3 301.8h0M141.6 302.6h0M116.9 328.0h0M141.7 309.9h0M128.0 319.2h0M134.1 320.7h0M124.4 314.5h0M127.6 321.0h0M109.7 323.6h0M124.1 328.1h0M128.2 324.4h0M138.2 311.7h0M137.3 315.1h0M112.1 328.0h0M126.7 326.3h0M138.0 327.3h0M116.5 325.1h0M152.0 300.9h0M116.4 318.2h0M143.9 316.6h0M130.0 316.9h0M120.1 321.6h0M152.0 305.5h0M120.7 312.4h0M130.7 309.7h0M110.8 326.4h0M118.4 335.1h0M114.8 315.4h0M129.5 315.7h0M138.2 305.7h0M144.7 303.2h0M123.3 324.3h0M97.8 323.7h0M122.1 318.0h0M159.2 301.6h0M120.9 330.9h0M108.6 323.8h0M129.7 321.9h0M126.9 315.7h0M135.8 309.1h0M140.2 314.9h0M131.5 313.6h0M104.0 328.0h0M152.9 296.3h0M153.2 295.6h0M110.6 325.3h0M135.0 314.5h0M123.0 325.0h0M148.5 325.1h0M149.7 312.6h0M99.2 328.4h0M119.2 316.6h0M122.2 320.7h0M139.1 315.4h0M107.9 331.9h0M150.7 314.4h0M122.6 323.5h0M139.2 312.4h0M157.1 312.0h0M149.1 302.8h0M151.4 300.0h0M136.5 313.9h0M136.1 307.4h0M124.4 319.5h0M144.0 311.4h0M128.1 313.4h0M134.5 311.6h0M126.3 321.2h0M140.7 327.7h0M134.5 310.2h0M143.7 309.0h0M133.9 314.4h0M143.0 298.5h0M126.3 318.0h0M131.6 326.1h0M141.4 318.7h0M137.4 305.7h0M129.2 324.5h0M133.9 309.1h0M140.9 308.6h0M131.1 308.9h0M118.5 323.3h0M138.4 314.3h0M147.7 314.9h0M142.3 304.2h0M150.2 309.4h0M102.9 327.8h0M106.0 327.8h0M128.3 305.3h0M134.0 329.6h0M133.3 320.1h0M132.7 318.6h0M128.9 330.1h0M142.5 318.8h0M138.2 311.6h0M106.0 331.6h0M114.0 321.0h0M139.9 306.9h0M141.7 310.6h0M138.8 306.2h0M141.7 330.6h0M146.3 313.4h0M120.4 317.9h0M145.6 302.1h0M113.2 317.8h0M109.6 326.4h0M127.2 314.3h0M124.5 318.3h0M125.2 315.1h0M134.5 331.9h0M145.3 316.5h0M160.0 294.8h0M111.8 329.2h0M140.1 313.4h0M110.0 328.1h0M132.5 314.8h0M136.1 306.9h0M148.5 300.4h0M128.9 330.7h0M120.8 319.2h0M132.7 329.1h0M128.1 322.9h0M139.3 307.2h0M132.0 304.5h0M107.3 336.0h0M138.2 307.0h0M124.2 327.1h0M113.7 330.0h0M121.2 314.1h0M122.3 316.0h0M107.6 324.3h0M138.7 316.4h0M127.7 317.0h0M150.9 308.1h0M106.2 331.0h0M115.0 341.7h0M135.7 317.6h0M123.3 330.2h0M126.3 336.4h0M115.6 311.2h0M136.8 309.0h0M123.9 327.0h0M115.9 329.0h0M134.4 318.3h0M126.3 312.4h0M129.9 316.1h0M129.0 313.6h0M124.2 322.1h0M148.3 299.7h0M107.4 323.1h0M118.2 316.8h0M116.9 325.9h0M123.2 314.0h0M129.8 316.1h0M131.2 318.5h0M125.5 321.5h0M109.9 327.4h0M128.0 331.6h0M130.0 323.8h0M126.2 320.5h0M134.2 326.9h0M133.4 307.3h0M101.4 329.4h0M150.2 300.9h0M115.1 312.2h0M143.7 308.3h0M110.9 327.2h0M137.8 312.3h0M101.4 333.2h0M121.9 339.9h0M129.1 315.1h0M103.8 325.7h0M120.6 326.1h0M108.6 333.2h0M144.0 303.1h0M145.7 307.2h0M116.4 326.1h0M144.7 308.8h0M116.7 336.2h0M136.4 318.2h0M125.7 307.2h0M109.3 316.4h0M138.4 313.5h0M111.7 324.8h0M134.1 322.7h0M113.5 312.7h0M112.8 329.4h0M114.1 330.4h0M132.9 311.6h0M163.4 298.8h0M98.4 333.4h0M144.6 300.4h0M129.4 323.0h0M124.6 321.0h0M124.3 329.3h0M141.9 291.2h0M120.6 315.4h0M134.2 313.8h0M129.5 313.1h0M128.0 318.7h0M138.1 311.4h0M138.4 310.6h0M134.7 313.4h0M138.1 305.3h0" stroke="#222" stroke-opacity="0.28" stroke-width="1.00" stroke-linecap="round" fill="none"/>
<path d="M124.5 315.3h0M137.4 317.4h0M113.0 327.5h0M140.8 315.0h0M127.7 316.6h0M147.3 310.1h0M115.7 319.7h0M134.7 311.3h0M107.2 333.7h0M126.8 328.1h0M160.4 301.8h0M127.5 321.8h0M129.8 320.8h0M144.5 302.3h0M122.8 324.9h0M95.4 335.3h0M114.4 332.7h0M139.0 310.7h0M121.2 330.1h0M144.6 307.0h0M131.9 318.7h0M141.7 317.1h0M138.7 316.4h0M105.7 324.7h0M115.3 331.5h0M140.9 313.3h0M140.3 319.2h0M105.0 335.5h0M138.5 311.1h0M135.8 317.7h0M119.7 323.1h0M121.9 323.3h0M136.3 310.0h0M135.3 322.2h0M111.4 334.3h0M141.6 307.5h0M137.3 311.5h0M124.8 321.5h0M141.7 311.1h0M157.4 304.3h0M129.6 313.1h0M121.2 323.1h0M125.2 322.5h0M103.4 328.6h0M127.6 315.0h0M114.2 323.0h0M121.8 322.4h0M105.6 334.0h0M135.2 313.6h0M140.0 307.5h0M138.2 302.7h0M125.8 314.4h0M132.3 307.1h0M124.7 323.4h0M116.0 318.4h0M106.0 340.8h0M122.1 315.4h0M129.2 312.8h0M102.2 315.9h0M92.1 326.9h0M134.3 305.4h0M129.5 307.3h0M128.2 308.5h0M113.3 313.9h0M157.9 302.7h0M121.1 328.2h0M127.4 311.7h0M122.1 316.1h0M135.3 316.4h0M129.3 330.8h0M120.3 325.6h0M118.2 320.6h0M139.0 320.9h0M112.0 324.1h0M137.8 308.2h0M119.6 320.5h0M120.7 327.3h0M158.0 302.9h0M121.2 315.0h0M140.9 313.7h0M130.3 314.6h0M119.4 328.5h0M130.2 323.2h0M143.2 309.0h0M114.3 328.0h0M106.4 327.2h0M146.2 310.2h0M149.0 321.2h0M114.4 328.5h0M118.0 316.0h0M119.2 317.4h0M146.8 310.6h0M127.5 303.6h0M111.8 333.2h0M141.6 312.9h0M131.8 318.9h0M140.3 313.0h0M136.1 310.2h0M159.9 298.9h0M102.7 329.5h0M120.1 323.6h0M124.4 324.7h0M112.6 325.0h0M135.0 321.8h0M133.7 318.3h0M167.7 294.6h0M126.9 327.4h0M117.2 312.5h0M146.4 312.9h0M136.1 313.1h0M117.0 322.5h0M145.3 315.6h0M136.2 326.5h0M133.6 323.7h0M131.5 313.7h0M146.5 306.8h0M110.1 326.9h0M144.2 316.0h0M105.1 319.0h0M125.4 309.1h0M112.3 321.6h0M105.5 335.4h0M121.2 316.9h0M141.3 301.4h0M122.7 318.1h0M138.2 308.9h0M103.5 324.5h0M126.8 317.4h0M130.6 314.0h0M130.1 317.6h0M128.5 318.9h0M130.6 310.4h0M113.2 336.8h0M133.3 311.1h0M127.4 318.8h0M152.6 301.3h0M127.2 327.1h0M157.1 300.0h0M113.2 327.1h0M125.7 313.1h0M110.1 317.4h0M143.4 312.5h0M129.8 320.3h0M115.3 316.7h0M114.6 321.2h0M97.3 324.5h0M112.4 318.9h0M128.0 326.1h0M117.3 313.4h0M107.9 322.8h0M142.9 321.2h0M133.8 329.8h0M121.6 321.9h0M155.8 297.4h0M119.8 315.3h0M134.1 317.2h0M118.5 327.4h0M137.0 299.1h0M159.1 303.4h0M140.2 313.4h0M128.6 314.8h0M124.4 324.7h0M125.4 332.6h0M105.0 331.3h0M132.5 313.9h0M120.7 314.9h0M129.1 311.7h0M123.7 331.2h0M135.6 313.5h0M129.8 319.8h0M114.0 323.4h0M121.8 310.6h0M121.7 323.0h0M137.1 318.6h0M115.6 325.6h0M113.5 333.1h0M132.0 320.4h0M134.2 308.3h0M120.7 327.1h0M142.3 327.4h0M139.4 306.2h0M141.7 296.7h0M126.4 315.8h0M143.0 309.2h0M121.4 323.0h0M150.8 318.2h0M113.1 328.2h0M152.8 303.4h0M129.2 311.8h0M130.1 315.6h0M126.8 314.5h0M123.4 309.7h0M99.3 334.2h0M134.7 319.0h0M110.4 328.0h0M119.4 315.5h0M159.0 297.8h0M129.7 313.5h0M118.7 318.8h0M110.4 325.0h0M141.4 315.6h0M124.0 317.3h0M119.2 324.4h0M121.5 315.9h0M138.6 308.9h0M109.3 327.2h0M91.5 343.8h0M139.9 317.3h0M143.1 309.5h0M123.9 324.3h0M103.4 321.6h0M139.2 317.1h0M139.4 301.0h0M108.3 326.7h0M129.2 328.6h0M129.2 315.3h0M127.4 320.1h0M113.4 331.6h0M133.4 330.6h0M130.6 311.9h0M129.7 322.3h0M125.9 320.0h0M150.9 297.1h0M119.8 321.6h0M118.9 321.9h0M144.7 302.0h0M145.7 312.3h0M117.6 326.9h0M147.7 303.6h0M127.0 316.2h0M130.7 320.8h0M120.0 312.8h0M154.6 303.3h0M118.4 326.6h0M147.2 312.7h0M104.6 329.3h0M120.2 326.2h0M128.7 317.9h0M137.6 303.2h0M131.3 315.2h0M111.7 323.2h0M122.7 307.6h0M137.2 305.0h0M132.7 307.9h0M112.2 334.8h0M120.6 327.6h0M119.3 326.3h0M107.2 332.6h0M83.2 346.8h0M122.4 326.4h0M134.2 314.2h0M136.3 301.8h0M126.4 317.0h0M127.3 328.8h0M116.1 321.5h0M131.7 322.8h0M126.3 310.8h0M138.0 331.6h0M123.5 311.8h0M126.9 307.4h0M117.6 326.2h0M126.2 317.9h0M102.2 323.5h0M134.5 294.9h0M131.2 326.5h0M132.0 323.0h0M107.8 327.1h0M139.3 310.1h0M143.2 315.6h0M98.7 331.6h0M128.5 306.1h0M136.3 322.7h0M119.2 321.9h0M144.8 304.7h0M107.8 329.3h0M130.5 313.2h0M121.9 327.1h0M124.7 317.0h0M139.3 320.8h0M122.6 309.2h0M103.2 325.7h0M155.0 312.2h0M142.3 304.2h0M135.5 318.0h0M111.4 324.2h0M119.4 333.7h0M100.6 321.7h0M114.1 323.0h0M137.6 316.2h0M149.7 301.5h0M119.4 321.7h0M118.6 321.8h0M135.6 313.2h0M139.9 303.7h0M129.2 321.5h0M122.0 308.1h0M127.9 329.6h0M124.4 306.6h0M124.0 317.2h0M113.5 313.3h0M111.6 319.5h0M110.1 319.1h0M125.2 321.8h0M131.3 318.5h0M133.5 307.5h0M135.3 313.8h0M111.4 320.7h0M130.8 316.6h0M146.2 304.8h0M120.9 321.6h0M137.4 297.2h0M131.4 320.5h0M134.3 308.9h0M126.3 322.2h0M111.2 315.9h0M109.0 314.0h0M118.9 314.6h0M127.9 329.8h0M131.4 324.5h0M113.6 326.4h0M121.6 308.3h0M120.5 305.3h0M130.9 307.9h0M124.2 344.5h0M152.7 305.0h0M127.5 327.0h0M131.6 322.1h0M135.3 309.7h0M132.5 306.2h0M133.7 301.1h0M130.3 322.8h0M118.3 309.9h0M86.3 339.9h0M131.1 317.7h0M142.4 312.6h0M128.9 314.3h0M121.4 319.5h0M97.3 327.8h0M108.0 322.4h0M107.6 339.1h0M139.5 307.8h0M151.4 312.6h0M140.4 314.1h0M137.3 309.1h0M128.4 310.0h0M123.4 308.7h0M158.0 298.3h0M150.9 306.0h0M139.8 310.6h0M102.0 333.7h0M116.5 329.0h0M152.7 297.9h0M142.4 301.7h0M123.6 309.3h0M111.1 325.0h0M113.7 325.9h0M134.8 313.7h0M119.7 318.3h0M136.1 312.1h0M107.5 317.7h0M121.0 327.9h0M118.4 320.6h0M97.1 334.1h0M102.8 334.4h0M115.6 337.3h0M110.0 331.3h0M103.4 330.4h0M136.1 314.2h0M112.8 301.8h0M127.0 313.3h0M114.1 325.8h0M144.7 313.6h0M120.0 311.7h0M146.6 315.1h0M134.9 315.6h0M125.9 319.1h0M128.2 305.5h0M131.0 324.3h0M140.0 311.8h0M104.0 338.6h0M126.1 326.6h0M138.1 302.4h0M125.7 321.3h0M121.0 319.2h0M144.6 306.3h0M130.5 307.2h0M140.6 310.7h0M133.3 310.7h0M119.2 327.5h0M123.2 328.3h0M138.6 313.4h0M129.1 335.5h0M143.1 306.5h0M108.5 324.3h0M100.4 339.2h0M126.8 308.2h0M120.3 328.9h0M123.8 316.6h0M99.2 331.7h0M110.8 323.3h0M128.8 316.9h0M117.7 332.6h0M124.8 317.9h0M115.7 319.8h0M137.3 312.4h0M124.9 308.2h0M144.0 310.6h0M119.0 320.0h0M133.8 319.6h0M115.3 319.9h0M111.3 316.0h0M132.3 321.5h0M98.5 330.4h0M132.7 324.2h0M139.7 315.3h0M138.7 317.5h0M126.6 315.9h0M117.5 326.4h0M121.3 325.2h0M118.1 313.1h0M104.4 330.2h0M123.3 327.8h0M122.0 317.5h0M121.3 324.3h0M100.8 330.7h0M138.6 321.8h0M146.6 307.1h0M121.6 325.2h0M129.2 313.6h0M119.3 323.7h0M120.8 330.1h0M144.1 316.9h0M149.6 300.5h0M138.4 305.1h0M161.5 296.4h0M123.7 315.7h0M96.0 332.2h0M112.3 322.7h0M130.5 324.3h0M123.5 329.8h0M131.3 320.7h0M141.7 318.9h0M118.6 311.7h0M110.5 317.4h0M142.7 318.7h0M136.0 309.1h0M136.0 305.7h0M148.3 300.7h0M113.7 326.2h0M144.8 309.4h0M135.4 308.0h0M132.8 320.7h0M127.3 318.1h0M118.2 316.2h0M162.6 296.4h0M141.6 313.9h0M125.9 322.6h0M138.8 311.9h0M112.1 329.0h0M144.7 326.6h0M114.6 315.2h0M130.9 318.8h0M153.4 305.1h0M124.8 332.1h0M139.1 311.9h0M159.8 302.8h0M109.0 338.6h0M120.2 317.6h0M129.6 322.6h0M132.7 309.4h0M132.5 315.3h0M126.3 326.4h0M86.8 344.9h0M137.5 314.1h0M122.1 328.8h0M111.0 333.5h0M112.2 327.7h0M144.6 321.2h0M128.5 326.6h0M137.4 304.8h0M129.0 336.8h0M126.3 322.5h0M134.6 310.2h0M124.3 320.0h0M124.2 326.5h0M118.9 316.2h0M122.8 307.4h0M132.2 317.2h0M122.7 309.2h0M126.8 328.3h0M122.6 324.4h0M138.1 321.7h0M127.2 315.4h0M135.1 317.5h0M136.2 321.2h0M133.4 305.4h0M104.3 328.3h0M151.3 302.3h0M146.0 305.2h0M121.3 323.1h0M125.0 312.5h0M139.7 313.1h0M137.0 322.3h0M150.8 308.6h0M105.5 324.8h0M131.4 310.1h0M129.5 303.2h0M127.0 318.0h0M140.8 314.5h0M126.9 310.8h0M149.1 300.6h0M122.4 315.5h0M134.1 325.5h0M126.6 318.1h0M123.1 331.3h0M100.1 338.3h0M135.7 322.3h0M125.4 322.8h0M144.1 309.2h0M114.8 338.4h0M137.9 313.7h0M132.5 317.5h0M135.3 319.6h0M125.9 303.0h0M131.7 327.5h0M122.3 314.9h0M134.5 316.5h0M121.3 315.6h0M143.7 303.4h0M129.9 298.9h0M147.1 313.2h0M128.2 325.5h0M124.2 325.4h0M128.6 320.8h0M128.1 316.1h0M130.3 320.8h0M127.9 311.2h0M115.0 326.9h0M143.5 312.3h0M127.6 323.3h0M137.3 306.1h0M122.3 320.0h0M118.9 325.8h0M116.8 328.6h0M149.9 300.0h0M110.0 321.3h0M168.1 297.0h0M125.1 322.3h0M122.0 333.4h0M136.3 310.9h0M144.1 308.0h0M98.4 334.0h0M140.9 316.9h0M117.4 320.3h0M101.3 332.6h0M121.9 323.8h0M126.4 315.1h0M155.4 296.7h0M94.0 335.4h0M111.3 316.1h0M129.7 314.8h0M133.7 322.3h0M130.9 319.3h0M116.4 320.0h0M117.6 325.0h0M139.8 309.5h0M152.3 309.6h0M129.4 315.3h0M130.5 316.8h0M138.7 311.4h0M132.9 323.5h0M113.1 314.2h0M142.0 306.2h0M144.6 299.1h0M138.7 309.3h0M118.4 323.6h0M132.4 321.8h0M144.6 314.9h0M146.4 307.9h0M117.2 315.7h0M113.0 311.9h0M103.3 324.3h0M113.6 338.5h0M146.7 297.0h0M126.0 324.3h0M126.4 317.8h0M116.8 318.2h0M127.6 318.6h0M111.6 323.9h0M135.3 318.3h0M150.2 299.3h0M118.9 323.3h0M134.3 324.3h0M127.5 328.8h0M117.5 316.8h0M128.7 312.8h0M142.3 308.3h0M138.6 311.1h0M135.6 324.9h0M133.0 307.9h0" stroke="#222" stroke-opacity="0.28" stroke-width="1.00" stroke-linecap="round" fill="none"/>
<path d="M136.5 307.7h0M103.4 326.6h0M136.1 313.2h0M135.7 304.5h0M123.4 323.7h0M116.9 324.3h0M126.6 316.1h0M139.0 304.4h0M101.1 337.4h0M123.9 310.7h0M144.4 307.8h0M128.3 326.7h0M126.5 307.6h0M144.7 306.5h0M155.1 309.6h0M93.7 333.1h0M123.4 311.9h0M131.2 315.3h0M139.5 310.3h0M118.6 327.2h0M117.6 339.6h0M142.3 304.9h0M115.7 323.0h0M108.5 331.7h0M142.7 323.1h0M129.6 321.0h0M112.3 329.5h0M120.8 328.5h0M141.9 317.7h0M121.7 319.6h0M133.8 306.9h0M147.1 312.6h0M129.4 332.8h0M125.2 322.0h0M115.3 315.8h0M126.1 313.0h0M124.3 313.8h0M136.1 321.9h0M145.0 319.4h0M151.1 300.0h0M161.7 301.3h0M130.8 307.9h0M115.3 327.5h0M96.0 332.5h0M142.8 314.2h0M140.6 326.9h0M117.7 310.1h0M115.6 327.0h0M135.6 318.6h0M129.1 310.9h0M116.0 332.2h0M124.6 319.5h0M126.7 328.4h0M134.1 318.7h0M146.7 312.0h0M132.9 314.5h0M148.9 298.9h0M133.7 326.0h0M118.4 321.4h0M119.4 314.7h0M142.0 306.0h0M125.3 313.2h0M142.2 307.1h0M142.3 318.9h0M135.9 315.8h0M127.8 325.5h0M136.0 310.3h0M145.1 319.9h0M135.6 312.8h0M135.4 306.8h0M122.5 337.1h0M130.2 305.8h0M132.5 330.7h0M124.6 316.7h0M101.8 335.4h0M152.7 306.1h0M110.5 333.3h0M94.3 339.3h0M122.0 327.9h0M121.8 322.6h0M120.7 316.5h0M105.9 320.2h0M141.1 315.5h0M129.7 326.2h0M113.9 326.7h0M116.8 318.3h0M149.3 308.9h0M123.0 313.9h0M146.3 313.6h0M119.9 322.0h0M136.2 306.8h0M150.8 303.6h0M124.8 315.3h0M134.0 318.0h0M144.0 310.7h0M158.5 296.6h0M122.9 334.1h0M127.5 315.8h0M112.9 322.4h0M128.5 314.9h0M126.3 314.4h0M105.2 328.1h0M139.4 312.6h0M143.4 305.0h0M122.7 330.2h0M141.9 310.2h0M117.5 317.0h0M128.7 312.4h0M121.4 317.5h0M138.6 309.4h0M145.7 294.6h0M122.6 314.2h0M129.6 318.7h0M110.5 316.6h0M121.3 318.5h0M122.0 321.2h0M125.5 320.9h0M126.7 319.0h0M133.2 312.2h0M130.7 310.4h0M156.5 306.2h0M142.5 305.2h0M125.0 310.4h0M133.6 312.3h0M143.3 321.3h0M147.1 302.2h0M135.8 310.9h0M147.5 305.8h0M128.6 325.0h0M125.5 333.0h0M101.7 334.8h0M139.2 312.2h0M115.7 327.7h0M154.7 306.0h0M138.5 322.3h0M109.7 341.2h0M127.5 301.9h0M152.2 305.4h0M109.9 326.1h0M110.7 329.3h0M136.8 317.6h0M136.1 310.7h0M142.8 308.9h0M122.8 317.2h0M110.8 328.1h0M133.3 313.9h0M134.2 308.8h0M140.9 305.1h0M153.1 298.0h0M127.8 313.6h0M117.8 329.0h0M135.1 308.3h0M125.2 316.0h0M134.0 308.9h0M135.2 304.9h0M121.8 323.2h0M137.8 315.3h0M161.5 292.3h0M123.7 330.7h0M123.9 315.3h0M119.3 325.9h0M138.1 328.9h0M124.5 324.9h0M114.5 325.2h0M104.4 324.9h0M141.5 317.6h0M126.8 316.5h0M123.7 328.4h0M120.5 309.2h0M132.6 305.1h0M106.7 333.3h0M135.8 305.2h0M143.3 310.3h0M125.6 315.4h0M125.4 319.8h0M108.6 333.6h0M117.9 323.4h0M107.8 329.0h0M121.7 319.0h0M134.2 320.7h0M137.3 299.1h0M140.4 322.7h0M98.8 332.1h0M122.1 301.9h0M123.8 323.8h0M120.7 311.9h0M142.3 299.2h0M129.2 310.8h0M139.5 306.2h0M129.2 312.4h0M136.5 309.0h0M111.8 329.5h0M142.3 307.1h0M131.1 312.8h0M111.5 335.0h0M149.7 305.6h0M110.3 330.7h0M139.9 321.2h0M125.3 313.1h0M128.7 308.8h0M143.9 302.1h0M144.8 304.6h0M150.5 315.1h0M118.8 331.0h0M136.4 321.9h0M117.9 323.5h0M109.4 327.1h0M141.3 308.2h0M162.8 304.5h0M132.9 313.3h0M132.0 319.1h0M114.7 334.5h0M122.9 316.4h0M135.7 306.8h0M102.2 332.0h0M137.5 302.8h0M131.6 314.0h0M122.6 308.2h0M146.9 312.4h0M124.1 317.9h0M130.1 317.0h0M127.9 319.9h0M111.3 323.4h0M136.3 316.2h0M113.1 328.0h0M128.8 309.4h0M124.7 310.6h0M144.6 311.9h0M113.7 311.0h0M113.3 323.7h0M132.4 314.0h0M129.5 309.2h0M132.1 315.7h0M125.8 311.7h0M145.4 305.4h0M143.7 318.6h0M145.7 313.5h0M137.8 306.9h0M155.6 309.9h0M113.4 325.1h0M151.9 302.5h0M107.6 326.8h0M138.4 309.0h0M118.5 311.5h0M141.6 298.7h0M128.9 323.0h0M121.4 325.7h0M117.7 335.9h0M136.2 312.8h0M144.9 303.3h0M119.7 325.9h0M97.6 336.6h0M124.6 330.0h0M146.2 303.3h0M129.7 318.7h0M103.3 328.0h0M146.9 307.8h0M109.4 328.9h0M128.1 325.2h0M136.3 323.0h0M137.7 317.3h0M122.5 322.7h0M147.9 312.8h0M117.8 324.3h0M143.9 301.9h0M147.5 302.7h0M131.7 306.4h0M115.8 328.7h0M121.2 316.5h0M127.4 318.6h0M132.3 318.2h0M138.6 330.6h0M132.8 319.2h0M111.8 332.2h0M130.3 319.7h0M149.7 301.0h0M124.8 319.8h0M109.8 333.0h0M122.4 322.2h0M127.4 326.1h0M99.0 326.0h0M111.3 337.2h0M144.2 301.4h0M111.0 330.7h0M120.5 302.9h0M141.9 305.3h0M120.0 325.4h0M115.6 315.6h0M96.7 331.2h0M131.8 327.2h0M124.5 324.8h0M126.9 324.2h0M139.3 306.0h0M122.8 325.3h0M119.3 323.8h0M109.2 332.6h0M124.5 319.5h0M92.7 342.2h0M124.2 315.2h0M136.8 321.7h0M127.5 312.5h0M154.7 316.0h0M117.6 310.7h0M129.0 311.2h0M131.0 327.0h0M116.4 324.2h0M126.2 327.5h0M140.6 307.5h0M118.0 329.3h0M118.1 333.9h0M119.3 334.8h0M160.1 299.2h0M106.2 324.0h0M135.2 316.1h0M155.2 299.2h0M131.9 314.5h0M109.6 326.4h0M147.7 319.2h0M130.5 325.6h0M123.8 323.5h0M106.5 332.7h0M110.6 325.9h0M112.6 315.5h0M109.9 322.3h0M128.4 320.9h0M125.6 316.4h0M133.5 297.3h0M114.7 323.8h0M129.2 318.9h0M117.1 319.0h0M115.7 330.3h0M119.3 317.1h0M121.8 311.1h0M109.7 329.9h0M129.7 315.1h0M129.7 326.0h0M102.0 335.9h0M123.7 324.9h0M132.3 306.0h0M135.9 309.9h0M108.2 331.3h0M148.1 301.4h0M90.8 338.6h0M105.5 328.1h0M131.2 315.9h0M136.9 306.0h0M137.7 311.7h0M119.1 321.7h0M142.8 309.2h0M135.5 328.2h0M134.3 333.2h0M127.4 302.8h0M141.7 308.4h0M134.3 316.8h0M154.4 309.9h0M129.8 306.4h0M103.9 335.4h0M131.3 309.8h0M155.8 310.4h0M110.1 319.3h0M135.4 317.9h0M136.5 308.2h0M122.6 323.7h0M138.4 318.1h0M131.3 329.0h0M153.5 299.7h0M128.2 334.1h0M116.9 333.9h0M132.1 312.2h0M112.0 330.3h0M115.6 326.5h0M129.6 302.8h0M135.5 315.8h0M102.1 327.6h0M140.4 312.3h0M143.9 311.0h0M142.3 304.7h0M114.0 330.4h0M149.5 299.5h0M135.2 320.4h0M153.9 310.6h0M140.7 313.2h0M128.9 311.8h0M133.8 314.0h0M114.5 318.2h0M120.2 325.1h0M143.2 314.9h0M105.4 336.1h0M143.0 307.4h0M106.3 331.7h0M156.6 301.1h0M131.1 315.8h0M127.1 312.0h0M138.1 322.7h0M135.2 309.4h0M115.8 322.5h0M142.0 309.6h0M143.3 298.5h0M119.5 321.2h0M108.0 326.9h0M121.4 317.9h0M129.6 326.8h0M109.6 330.6h0M124.2 309.3h0M124.3 320.7h0M119.9 326.2h0M124.8 310.6h0M122.4 318.6h0M133.6 311.5h0M119.9 314.6h0M126.5 320.7h0M119.9 331.0h0M126.5 311.9h0M115.1 314.8h0M124.2 313.7h0M148.8 315.5h0M141.9 310.5h0M138.4 308.6h0M120.9 316.2h0M136.7 310.6h0M115.6 331.2h0M150.3 318.5h0M121.8 326.5h0M128.9 334.8h0M126.9 322.6h0M124.8 318.0h0M140.4 301.2h0M141.9 304.4h0M115.9 323.9h0M117.9 322.2h0M138.8 309.1h0M152.4 304.3h0M87.4 339.8h0M119.5 323.8h0M115.7 316.8h0M113.2 309.6h0M143.0 322.0h0M132.4 325.9h0M162.2 301.3h0M145.5 296.1h0M109.8 328.5h0M134.9 309.6h0M132.7 311.8h0M134.4 315.7h0M134.5 305.7h0M104.6 336.0h0M143.6 317.0h0M111.9 325.5h0M147.3 304.1h0M120.7 328.5h0M126.6 317.3h0M125.4 314.9h0M116.1 326.5h0M108.4 321.6h0M144.7 310.9h0M138.9 311.6h0M144.8 301.3h0M116.6 326.5h0M141.1 317.8h0M113.8 317.4h0M115.5 319.8h0M105.9 319.1h0M112.3 325.1h0M127.2 310.4h0M143.5 296.4h0M100.2 328.2h0M100.0 337.3h0M161.7 295.3h0M116.0 328.5h0M145.3 312.8h0M116.6 313.7h0M125.9 322.1h0M130.6 318.7h0M144.3 314.9h0M123.9 332.0h0M138.4 307.2h0M152.0 305.5h0M124.3 321.6h0M127.1 321.5h0M135.2 307.1h0M89.4 340.5h0M127.6 323.3h0M107.9 335.5h0M137.9 313.9h0M136.5 317.3h0M138.0 311.5h0M138.3 307.6h0M128.6 315.3h0M127.5 316.4h0M118.7 318.5h0M140.6 307.9h0M135.6 310.0h0M123.3 318.4h0M81.2 347.9h0M148.4 314.5h0M108.5 327.6h0M125.7 315.7h0M113.1 332.2h0M136.1 304.1h0M129.5 322.5h0M139.5 316.3h0M133.5 311.4h0M120.8 314.4h0M128.9 311.7h0M123.0 323.8h0M119.1 314.1h0M119.0 320.1h0M150.2 315.3h0M118.1 308.3h0M111.4 336.8h0M135.9 319.1h0M109.8 337.6h0M104.1 332.7h0M134.4 310.6h0M122.8 300.9h0M120.3 322.7h0M138.9 301.7h0M149.0 314.8h0M131.1 322.0h0M162.3 296.6h0M126.4 314.8h0M125.2 322.1h0M107.6 330.7h0M124.3 319.4h0M143.8 307.5h0M108.2 339.8h0M121.7 324.3h0M123.8 318.5h0M105.9 336.0h0M110.8 331.0h0M121.2 327.1h0M138.4 322.8h0M132.6 313.1h0M112.6 322.4h0M120.1 319.4h0M109.3 338.0h0M133.3 314.2h0M119.3 320.5h0M132.9 299.9h0M164.5 294.7h0M111.7 330.3h0M127.4 329.0h0M135.8 308.8h0M102.3 334.2h0M120.5 327.9h0M130.4 312.4h0M146.5 300.3h0M135.4 326.7h0M139.4 309.5h0M131.2 312.6h0M120.9 323.5h0M123.6 319.4h0M128.3 314.8h0M142.7 315.2h0M147.4 314.7h0M145.5 307.9h0M119.7 323.2h0M143.2 319.0h0M157.9 300.4h0M133.3 328.1h0M123.9 322.2h0M105.5 325.4h0M114.8 327.8h0M130.3 324.3h0M128.6 318.2h0M138.8 302.3h0M109.4 326.7h0M128.2 301.6h0M142.5 315.6h0M141.7 306.3h0M138.4 314.2h0M128.6 325.6h0M148.1 304.3h0M107.5 320.7h0M84.0 341.7h0M136.4 325.0h0M107.2 326.9h0M124.1 327.3h0M142.4 306.7h0M114.7 326.8h0M139.2 314.6h0M130.1 320.1h0M126.4 310.9h0M124.6 327.3h0M123.3 317.3h0M144.1 302.5h0M113.2 320.5h0M126.4 316.6h0M141.8 308.1h0M133.2 321.9h0M145.0 306.6h0M154.1 302.3h0M120.0 319.7h0M137.4 322.9h0M117.2 323.0h0M124.8 323.9h0M104.4 329.4h0M135.6 306.8h0M133.6 322.1h0M118.2 317.9h0" stroke="#222" stroke-opacity="0.28" stroke-width="1.00" stroke-linecap="round" fill="none"/>
<path d="M128.8 316.3h0M132.3 317.3h0M148.7 303.5h0M118.6 332.8h0M116.2 323.3h0M136.3 306.9h0M148.6 310.8h0M142.6 318.4h0M123.3 313.4h0M128.8 325.1h0M137.7 323.6h0M120.2 319.0h0M126.4 307.4h0M132.4 305.0h0M133.3 312.8h0M138.2 308.6h0M99.6 334.4h0M109.0 331.7h0M152.4 307.9h0M135.3 323.7h0M129.2 325.3h0M114.6 319.1h0M130.3 312.0h0M135.9 321.6h0M143.7 318.3h0M120.6 312.7h0M119.0 320.4h0M120.2 312.2h0M142.1 306.0h0M117.4 324.5h0M138.7 304.1h0M123.3 323.5h0M128.8 319.9h0M116.4 316.4h0M129.3 315.7h0M133.4 324.6h0M133.3 313.8h0M143.2 308.2h0M148.1 301.1h0M128.4 306.9h0M121.0 325.5h0M134.4 317.5h0M110.0 332.4h0M139.1 321.0h0M147.9 312.3h0M134.3 311.9h0M118.7 325.0h0M141.2 309.3h0M122.5 314.0h0M94.9 339.3h0M141.7 310.2h0M129.0 320.1h0M122.2 318.5h0M150.5 302.6h0M163.0 297.6h0M133.2 317.2h0M103.6 335.4h0M120.1 315.1h0M128.6 316.0h0M142.8 307.1h0M111.0 333.3h0M128.0 311.4h0M127.3 325.5h0M121.2 322.6h0M132.2 316.3h0M111.3 321.6h0M124.2 323.0h0M130.5 323.3h0M107.1 338.7h0M101.1 332.0h0M108.0 321.8h0M112.2 331.1h0M148.9 313.7h0M132.7 320.5h0M130.5 316.4h0M123.2 329.1h0M135.9 306.6h0M136.7 313.2h0M117.1 322.9h0M142.2 307.3h0M136.3 313.2h0M123.0 319.6h0M136.4 320.9h0M112.8 323.9h0M120.7 317.9h0M117.6 321.3h0M135.4 318.2h0M120.4 329.6h0M145.8 306.8h0M142.5 312.0h0M121.0 324.2h0M136.0 320.3h0M128.0 318.0h0M136.1 312.8h0M147.3 308.3h0M131.1 323.8h0M112.6 319.8h0M117.5 308.2h0M127.6 316.0h0M127.6 321.0h0M135.8 324.3h0M114.3 319.1h0M118.0 317.0h0M113.6 313.8h0M139.9 312.7h0M131.8 312.5h0M129.8 325.6h0M132.3 325.8h0M135.8 313.7h0M138.4 304.6h0M148.4 320.9h0M101.9 330.2h0M149.6 323.3h0M124.1 313.6h0M127.2 321.2h0M132.0 319.0h0M153.8 306.7h0M133.6 317.9h0M148.3 305.5h0M140.8 309.3h0M135.0 314.7h0M126.9 312.0h0M125.6 313.4h0M122.6 322.3h0M123.6 308.3h0M99.0 335.8h0M137.3 327.5h0M120.2 322.4h0M117.7 336.6h0M114.6 323.8h0M116.1 335.6h0M135.8 314.3h0M145.3 308.9h0M119.8 321.2h0M116.5 319.3h0M146.8 301.9h0M116.1 327.6h0M160.7 297.9h0M134.9 320.3h0M105.9 328.9h0M117.8 331.0h0M130.7 326.7h0M142.6 322.9h0M125.3 323.6h0M157.6 300.7h0M121.5 331.7h0M116.4 329.7h0M133.9 298.7h0M123.2 317.9h0M136.0 320.3h0M89.5 342.1h0M126.6 325.8h0M120.9 313.0h0M103.7 330.9h0M102.5 333.9h0M127.8 330.8h0M127.7 307.6h0M134.3 330.1h0M129.0 313.9h0M125.2 311.6h0M114.3 315.1h0M132.9 301.3h0M120.4 324.5h0M135.6 309.9h0M125.1 318.6h0M136.1 332.8h0M125.2 314.1h0M140.3 311.1h0M118.9 320.3h0M123.6 330.5h0M132.4 323.1h0M134.2 306.1h0M109.4 320.4h0M129.8 319.1h0M147.2 309.9h0M130.8 323.2h0M106.9 332.3h0M135.1 318.3h0M118.1 326.8h0M100.2 328.9h0M132.2 309.9h0M144.1 315.0h0M131.9 315.5h0M151.5 306.6h0M130.8 307.3h0M127.1 323.4h0M134.9 314.1h0M141.4 314.2h0M94.4 339.0h0M122.7 330.8h0M125.5 326.5h0M130.7 310.1h0M118.8 320.7h0M134.0 302.1h0M118.9 326.0h0M120.8 315.2h0M122.1 323.0h0M140.1 309.2h0M146.3 306.5h0M129.2 308.0h0M106.9 333.0h0M108.4 315.9h0M124.5 308.1h0M116.2 315.5h0M106.8 318.7h0M132.5 323.3h0M127.3 318.9h0M134.5 316.8h0M144.2 319.1h0M125.0 316.5h0M135.1 327.4h0M155.4 304.9h0M142.8 305.9h0M138.3 317.7h0M120.4 318.3h0M136.6 320.8h0M156.0 305.2h0M113.7 324.2h0M123.8 324.5h0M106.9 324.9h0M130.1 316.7h0M129.7 316.9h0M125.0 319.7h0M134.7 319.3h0M131.5 318.6h0M124.1 315.2h0M135.4 309.4h0M150.7 303.9h0M149.8 312.9h0M135.8 312.1h0M117.1 326.0h0M128.4 319.7h0M136.0 314.3h0M142.5 313.5h0M135.2 307.0h0M133.1 310.6h0M120.2 303.5h0M143.9 308.6h0M138.8 319.3h0M137.3 311.3h0M143.4 312.7h0M125.0 322.7h0M133.5 324.0h0M129.3 321.2h0M124.5 315.7h0M131.3 321.6h0M117.7 318.8h0M118.9 334.9h0M125.9 308.8h0M142.7 308.7h0M112.7 309.2h0M125.3 324.8h0M117.7 332.1h0M130.7 309.6h0M97.2 335.8h0M122.5 321.5h0M128.7 323.0h0M139.7 314.8h0M146.2 307.7h0M147.7 309.2h0M120.6 317.1h0M141.6 310.1h0M120.0 321.8h0M144.8 305.0h0M137.7 312.8h0M126.2 311.0h0M105.7 316.2h0M136.0 313.1h0M113.0 318.4h0M132.3 314.1h0M127.6 327.2h0M153.5 308.1h0M107.8 325.3h0M143.7 315.7h0M118.6 319.1h0M136.6 308.0h0M117.5 324.6h0M130.6 311.5h0M124.4 322.0h0M122.0 312.7h0M126.5 321.2h0M151.2 304.1h0M117.5 317.6h0M137.0 320.5h0M132.9 310.4h0M131.1 325.0h0M127.1 319.2h0M130.4 301.9h0M121.9 326.9h0M125.5 322.7h0M130.1 317.4h0M144.0 303.8h0M149.2 302.1h0M132.1 311.8h0M117.1 317.4h0M106.5 330.7h0M140.9 307.5h0M120.7 318.7h0M125.1 329.8h0M123.4 324.8h0M137.0 307.6h0M128.5 317.4h0M110.6 329.1h0M111.3 329.3h0M128.1 315.0h0M121.8 321.6h0M133.8 329.1h0M109.4 325.3h0M155.1 296.9h0M132.1 318.0h0M120.1 314.5h0M110.8 321.4h0M134.1 317.9h0M149.4 309.6h0M152.2 309.8h0M116.6 318.6h0M141.2 314.1h0M137.8 310.9h0M112.1 331.6h0M125.7 329.8h0M122.1 320.0h0M115.1 317.3h0M113.2 328.2h0M127.2 323.4h0M118.4 315.8h0M161.8 304.2h0M136.3 320.9h0M122.4 324.4h0M128.9 307.2h0M97.5 331.5h0M129.5 319.8h0M132.5 311.5h0M106.5 314.3h0M113.4 329.3h0M102.8 328.4h0M139.4 326.4h0M118.2 320.1h0M102.5 323.3h0M127.7 329.3h0M120.9 323.3h0M112.3 325.1h0M139.2 316.2h0M101.9 332.9h0M146.2 307.1h0M118.2 330.6h0M142.2 309.7h0M144.5 313.1h0M154.4 306.5h0M139.2 324.2h0M128.2 312.1h0M123.4 319.2h0M121.5 305.2h0M112.0 313.1h0M118.2 313.1h0M96.8 335.6h0M128.7 315.0h0M134.5 306.9h0M116.7 321.9h0M116.7 315.9h0M153.4 305.9h0M141.4 309.8h0M128.4 315.2h0M120.0 334.6h0M119.9 325.0h0M115.8 328.7h0M134.3 326.3h0M126.8 320.2h0M124.7 319.4h0M139.1 312.5h0M141.0 312.9h0M131.2 320.7h0M112.1 325.8h0M131.7 318.6h0M123.3 305.8h0M97.4 335.1h0M124.8 321.1h0M118.8 333.9h0M125.6 314.4h0M103.5 325.3h0M139.8 314.6h0M136.4 311.6h0M117.6 316.4h0M129.3 312.0h0M114.0 326.9h0M111.1 323.2h0M112.9 328.8h0M113.3 324.1h0M147.4 305.1h0M149.2 305.4h0M131.9 322.5h0M122.8 315.9h0M112.2 333.9h0M127.7 327.7h0M117.7 317.8h0M105.5 327.1h0M118.3 311.0h0M119.4 317.8h0M135.3 319.6h0M130.7 322.1h0M123.3 322.6h0M96.1 334.9h0M151.6 306.8h0M117.0 323.1h0M120.9 310.3h0M129.7 321.6h0M113.7 318.2h0M129.2 317.6h0M141.1 317.7h0M122.7 314.7h0M150.6 307.2h0M124.4 312.9h0M125.9 326.7h0M142.3 334.6h0M144.8 310.1h0M139.3 312.3h0M122.5 313.2h0M133.8 312.9h0M138.9 311.3h0M124.9 329.8h0M119.5 325.2h0M118.1 318.7h0M115.3 321.6h0M133.1 316.2h0M134.1 320.2h0M128.4 319.0h0M115.1 324.4h0M108.5 335.4h0M132.5 326.7h0M124.1 314.1h0M119.7 322.9h0M109.4 324.6h0M106.2 322.7h0M126.5 312.1h0M135.8 305.8h0M113.4 329.9h0M106.3 325.4h0M127.8 320.0h0M147.1 303.9h0M153.6 296.9h0M107.5 332.7h0M137.9 299.5h0M127.9 313.8h0M107.3 328.0h0M104.2 322.6h0M113.2 328.2h0M130.1 309.3h0M115.5 320.2h0M123.2 315.7h0M139.1 316.9h0M142.7 302.6h0M123.0 308.0h0M130.9 312.1h0M113.4 315.0h0M125.8 315.6h0M142.0 307.8h0M124.2 315.7h0M131.3 312.7h0M138.2 305.0h0M137.4 299.7h0M138.1 308.7h0M137.9 311.3h0M131.7 315.4h0M147.5 306.4h0M108.6 336.4h0M128.5 321.0h0M125.2 321.4h0M146.9 303.8h0M108.8 325.5h0M137.4 314.9h0M116.3 319.4h0M115.4 320.1h0M136.0 312.3h0M133.0 315.7h0M117.2 314.3h0M107.3 319.1h0M138.2 312.6h0M111.7 336.1h0M140.1 307.5h0M140.0 332.1h0M131.6 320.6h0M141.7 304.2h0M146.4 313.6h0M115.5 336.7h0M114.0 333.4h0M139.3 318.7h0M148.1 310.6h0M137.2 302.9h0M133.2 303.3h0M123.6 319.1h0M127.1 311.9h0M120.2 314.6h0M119.4 328.9h0M135.8 321.3h0M129.0 314.8h0M124.8 329.2h0M114.2 322.0h0M129.5 315.8h0M120.7 330.9h0M123.2 326.2h0M124.1 317.0h0M132.4 319.0h0M131.9 312.6h0M141.7 304.5h0M121.8 325.3h0M137.4 298.6h0M116.3 318.0h0M130.8 318.5h0M125.3 325.4h0M124.5 316.6h0M146.4 317.1h0M135.2 309.6h0M136.3 312.2h0M126.8 306.1h0M134.3 309.3h0M156.4 308.2h0M122.5 317.6h0M130.9 305.4h0M117.3 315.1h0M108.4 332.8h0M121.4 318.6h0M127.2 309.9h0M145.3 309.8h0M133.2 315.6h0M138.5 320.0h0M137.7 300.5h0M140.3 318.3h0M123.5 307.3h0M103.2 333.1h0M131.0 318.4h0M144.9 301.2h0M138.6 306.6h0M107.9 331.2h0M134.7 305.6h0M125.2 311.8h0M135.8 311.4h0M138.7 307.6h0M123.2 325.4h0M117.5 323.5h0M131.2 316.3h0M123.5 317.5h0M116.6 323.3h0M120.6 322.6h0M129.1 322.4h0M134.8 315.0h0M143.7 319.7h0M124.1 322.0h0M125.4 309.2h0M138.3 309.0h0M131.9 318.9h0M143.8 308.3h0M135.7 313.5h0M127.2 329.3h0M136.9 310.9h0M125.8 336.9h0M127.1 312.4h0M133.4 316.1h0M131.9 323.4h0M128.8 318.8h0M141.5 309.3h0M141.2 314.2h0M159.6 298.1h0M117.5 332.0h0M127.7 331.7h0M133.9 323.4h0M133.4 306.7h0M135.6 312.6h0M146.0 326.2h0M106.8 313.6h0M122.8 309.7h0M146.4 304.1h0M127.1 315.1h0M135.2 323.1h0M135.3 332.1h0M152.0 301.6h0M135.1 326.8h0M140.9 309.6h0M120.5 323.0h0M104.7 329.4h0M135.2 316.4h0M131.3 309.3h0M147.7 315.4h0M142.8 301.0h0M135.0 319.0h0M126.6 311.4h0M120.6 312.0h0M115.1 324.5h0M118.2 331.7h0M138.5 295.3h0M126.2 311.4h0M121.8 312.4h0M118.7 319.1h0M122.0 321.7h0M139.3 307.6h0M147.1 307.2h0M153.6 302.8h0M122.8 327.1h0M93.7 336.2h0M124.1 332.9h0M145.7 305.9h0M127.3 312.7h0" stroke="#222" stroke-opacity="0.28" stroke-width="1.00" stroke-linecap="round" fill="none"/>
<path d="M128.9 313.2h0M120.3 324.8h0M164.8 297.4h0M135.5 320.1h0M125.5 319.8h0M130.8 318.9h0M124.0 308.8h0M145.9 314.3h0M138.8 313.4h0M143.9 300.8h0M130.9 313.3h0M134.7 301.5h0M111.1 315.8h0M106.4 326.2h0M140.6 313.0h0M154.0 295.5h0M118.3 336.9h0M139.1 315.4h0M112.0 332.8h0M119.3 329.4h0M140.7 303.8h0M127.6 320.7h0M127.6 312.0h0M139.4 315.6h0M134.7 312.2h0M133.5 309.5h0M116.3 320.8h0M126.0 311.0h0M127.8 320.1h0M132.8 310.6h0M146.5 310.3h0M131.8 319.5h0M138.1 305.8h0M121.3 331.5h0M144.0 304.0h0M125.9 314.5h0M116.2 327.5h0M100.4 335.1h0M135.5 318.1h0M108.5 331.8h0M125.1 330.0h0M129.9 303.1h0M90.4 342.0h0M108.9 312.3h0M137.4 322.7h0M138.1 312.3h0M122.4 312.5h0M131.5 320.9h0M129.8 315.5h0M100.3 326.6h0M114.7 325.7h0M136.2 308.1h0M110.3 313.7h0M111.4 334.7h0M143.8 302.1h0M123.7 316.6h0M123.3 320.2h0M142.5 306.3h0M159.2 303.5h0M131.7 315.0h0M128.8 319.6h0M142.4 319.5h0M132.8 308.9h0M119.8 321.5h0M124.9 325.7h0M126.6 311.9h0M139.2 315.6h0M164.7 294.4h0M144.0 315.5h0M126.1 321.3h0M141.6 308.1h0M123.6 313.0h0M151.7 306.5h0M113.9 329.3h0M134.2 308.9h0M117.8 318.3h0M110.0 330.8h0M138.4 307.6h0M133.8 316.7h0M125.2 328.1h0M127.3 326.9h0M134.0 304.8h0M138.4 308.5h0M128.6 319.9h0M135.2 320.8h0M129.8 316.1h0M127.0 315.0h0M134.7 303.2h0M149.1 310.8h0M137.0 308.7h0M142.1 321.8h0M100.1 326.7h0M147.8 310.9h0M104.3 318.1h0M122.8 321.3h0M126.2 318.4h0M110.8 319.6h0M108.1 333.7h0M117.1 310.4h0M135.6 317.4h0M136.7 318.1h0M127.9 318.8h0M113.4 332.7h0M117.6 327.0h0M139.8 312.9h0M143.9 307.7h0M103.8 318.3h0M138.2 307.3h0M145.5 304.2h0M127.9 322.7h0M132.6 317.1h0M105.4 325.8h0M113.3 328.2h0M120.3 331.4h0M102.1 324.0h0M146.9 305.2h0M134.7 312.6h0M153.8 311.7h0M128.7 324.1h0M130.2 315.6h0M161.0 295.5h0M119.5 322.4h0M126.1 318.6h0M134.7 316.2h0M133.1 314.2h0M114.8 322.5h0M119.4 322.3h0M116.3 324.2h0M126.2 321.0h0M137.8 318.3h0M101.8 331.8h0M139.7 313.3h0M145.2 307.4h0M121.2 324.4h0M141.4 317.8h0M131.8 314.0h0M113.5 328.1h0M124.1 305.3h0M136.2 308.1h0M110.3 337.0h0M120.7 321.6h0M118.0 334.8h0M102.6 336.1h0M119.2 327.6h0M122.4 326.3h0M139.1 307.5h0M110.9 327.5h0M140.3 316.5h0M108.6 328.7h0M128.6 317.1h0M126.4 324.3h0M130.4 327.3h0M129.6 329.3h0M122.4 314.4h0M120.1 317.2h0M90.6 333.7h0M95.6 338.0h0M123.9 310.0h0M132.7 318.3h0M146.6 301.0h0M121.8 321.2h0M127.9 318.9h0M148.6 296.0h0M127.8 313.6h0M147.6 301.1h0M143.9 312.7h0M105.8 336.5h0M124.7 338.0h0M138.5 322.0h0M159.4 294.2h0M131.5 320.3h0M107.5 328.6h0M150.4 303.3h0M137.0 311.8h0M138.3 312.3h0M110.3 323.5h0M135.8 304.2h0M120.7 313.9h0M165.5 293.3h0M162.1 293.1h0M122.7 318.7h0M128.3 303.1h0M122.4 328.3h0M144.4 307.4h0M131.7 307.6h0M96.5 335.8h0M123.3 321.3h0M131.3 325.1h0M148.9 311.5h0M109.8 321.6h0M119.9 315.5h0M135.3 311.7h0M141.4 316.8h0M133.5 320.9h0M132.5 302.2h0M100.2 328.1h0M120.4 337.3h0M140.5 315.6h0M108.8 330.9h0M107.7 334.8h0M138.8 323.4h0M124.2 313.8h0M126.8 331.0h0M113.5 335.3h0M119.1 318.0h0M139.6 305.2h0M134.4 327.0h0M155.3 294.5h0M132.8 304.5h0M147.0 313.0h0M134.8 308.3h0M145.4 309.4h0M106.7 325.3h0M148.2 313.3h0M124.9 316.3h0M132.6 313.4h0M147.1 302.0h0M119.6 320.8h0M146.3 304.8h0M125.3 308.0h0M137.8 323.2h0M126.0 320.1h0M137.8 309.4h0M120.6 316.9h0M144.4 306.9h0M132.2 310.5h0M115.3 315.0h0M140.2 311.3h0M133.5 309.3h0M116.1 320.9h0M111.4 326.9h0M114.2 325.4h0M136.0 319.5h0M120.2 328.1h0M124.6 323.4h0M128.7 321.5h0M114.3 317.0h0M147.9 308.0h0M143.8 304.4h0M142.1 312.5h0M133.3 317.5h0M129.5 315.6h0M137.2 305.8h0M104.4 332.0h0M127.6 329.5h0M142.0 302.2h0M131.8 316.7h0M122.9 323.9h0M142.6 304.9h0M129.6 321.3h0M117.1 325.6h0M121.6 313.6h0M117.4 327.5h0M145.3 312.5h0M116.3 320.3h0M121.6 320.1h0M108.9 332.2h0M121.1 310.4h0M85.5 347.2h0M102.8 333.2h0M127.4 320.4h0M104.0 329.0h0M130.1 312.1h0M120.8 317.1h0M116.5 310.4h0M116.7 322.3h0M137.0 310.3h0M117.9 334.7h0M112.0 325.8h0M114.3 321.8h0M136.4 309.0h0M110.9 313.7h0M121.8 324.1h0M145.7 326.2h0M121.7 314.8h0M116.3 315.9h0M153.9 302.8h0M128.9 311.3h0M126.1 311.8h0M125.6 307.6h0M134.7 311.7h0M122.3 314.6h0M129.4 317.0h0M122.6 316.4h0M118.7 331.9h0M106.3 333.6h0M136.3 301.5h0M100.6 336.6h0M125.2 333.1h0M130.8 311.8h0M132.4 308.2h0M129.2 319.7h0M119.5 318.9h0M126.2 310.8h0M112.7 318.1h0M141.9 319.3h0M114.4 319.7h0M127.4 314.0h0M112.1 333.1h0M115.2 323.2h0M134.4 313.2h0M116.9 319.7h0M107.9 328.0h0M113.2 331.1h0M115.2 332.5h0M131.8 301.1h0M92.5 340.8h0M117.7 314.5h0M122.5 322.0h0M125.7 319.9h0M131.1 318.0h0M129.4 322.5h0M132.5 314.3h0M124.3 323.3h0M132.8 314.2h0M153.4 300.4h0M126.0 317.4h0M124.6 318.3h0M134.9 324.0h0M122.1 313.7h0M150.9 304.9h0M134.5 321.0h0M144.7 309.3h0M107.3 327.7h0M105.6 321.8h0M126.1 319.7h0M105.5 328.9h0M118.8 324.8h0M119.0 330.0h0M123.1 318.3h0M121.8 321.3h0M114.6 316.5h0M106.0 325.9h0M159.2 297.8h0M114.9 320.3h0M149.6 301.1h0M140.0 308.1h0M125.0 323.7h0M143.0 317.3h0M130.7 311.8h0M130.4 318.0h0M130.3 320.8h0M131.0 317.9h0M118.8 323.9h0M125.4 302.9h0M133.2 319.8h0M104.6 324.0h0M116.9 323.8h0M134.3 316.4h0M146.7 310.2h0M106.1 330.7h0M136.9 301.4h0M109.4 330.7h0M135.9 322.2h0M123.9 322.5h0M142.3 309.5h0M137.7 300.7h0M114.6 326.0h0M129.2 324.2h0M144.4 302.3h0M114.4 316.9h0M124.5 321.2h0M135.8 318.3h0M128.8 326.0h0M143.5 304.5h0M130.1 322.8h0M108.9 326.3h0M120.0 322.2h0M132.8 313.6h0M117.7 324.3h0M122.4 312.0h0M154.5 308.8h0M129.1 318.4h0M123.8 315.1h0M133.5 307.4h0M124.5 308.2h0M131.4 314.7h0M110.6 324.2h0M149.4 303.6h0M109.1 322.5h0M138.1 315.5h0M141.0 304.0h0M129.2 322.3h0M125.6 330.5h0M125.2 320.8h0M95.5 334.2h0M148.0 310.4h0M146.8 320.4h0M132.9 314.6h0M126.3 319.6h0M135.3 313.3h0M113.8 321.0h0M100.9 339.4h0M121.4 318.5h0M104.2 330.5h0M130.7 313.1h0M104.2 331.9h0M117.1 328.5h0M128.8 315.9h0M130.0 309.7h0M112.6 319.1h0M110.1 326.8h0M146.9 298.8h0M104.8 322.1h0M129.1 306.9h0M132.2 305.1h0M126.0 324.7h0M126.7 314.4h0M130.0 321.8h0M123.8 328.6h0M141.0 311.0h0M152.1 308.6h0M119.1 324.7h0M129.3 321.4h0M101.4 330.2h0M119.5 326.0h0M133.3 306.0h0M125.3 328.7h0M117.6 321.8h0M110.4 332.5h0M132.9 334.6h0M110.0 333.8h0M117.0 315.8h0M131.0 303.6h0M149.6 309.3h0M112.6 328.5h0M123.9 317.6h0M133.2 320.5h0M125.8 322.0h0M134.9 318.2h0M120.2 324.7h0M115.8 312.8h0M122.8 318.0h0M113.4 316.8h0M135.1 310.2h0M133.8 315.9h0M128.0 326.4h0M130.0 322.9h0M106.4 334.3h0M139.6 318.1h0M103.8 335.7h0M96.2 335.9h0M104.1 335.0h0M105.0 325.3h0M134.9 316.6h0M111.5 331.0h0M121.7 328.8h0M98.2 326.9h0M135.7 302.4h0M115.0 329.5h0M121.5 319.8h0M122.5 314.3h0M106.0 334.2h0M132.1 318.5h0M108.1 340.3h0M122.7 308.4h0M103.3 336.2h0M132.2 312.8h0M111.6 320.7h0M106.3 333.7h0M121.5 319.4h0M138.3 325.4h0M135.3 318.0h0M148.0 298.1h0M122.9 314.6h0M113.7 321.1h0M140.9 314.9h0M140.5 305.6h0M118.2 319.2h0M132.7 305.6h0M137.5 305.6h0M127.4 308.9h0M139.8 310.2h0M117.7 312.2h0M96.9 332.3h0M100.0 341.0h0M121.9 316.6h0M121.3 321.6h0M132.8 315.8h0M113.4 328.3h0M127.4 335.2h0M121.3 307.4h0M139.4 310.2h0M121.7 333.7h0M117.6 323.1h0M112.9 333.7h0M114.2 330.8h0M150.3 307.5h0M141.8 304.7h0M92.7 339.8h0M126.6 312.4h0M131.5 318.0h0M139.9 322.9h0M143.8 304.5h0M125.0 328.0h0M124.8 314.5h0M121.2 324.0h0M126.9 310.1h0M148.6 312.9h0M142.8 306.2h0M116.5 335.2h0M163.5 302.8h0M120.0 323.6h0M143.8 305.1h0M134.8 314.7h0M117.9 325.1h0M122.9 337.6h0M140.3 306.4h0M125.6 331.5h0M113.3 342.2h0M164.1 294.7h0M134.8 302.0h0M109.8 323.6h0M113.2 331.2h0M118.4 326.9h0M148.1 303.6h0M133.7 325.2h0M123.9 319.6h0M109.4 332.4h0M119.2 313.2h0M124.5 326.3h0M122.2 336.1h0M117.5 317.9h0M118.6 313.2h0M140.8 311.6h0M128.4 318.0h0M125.4 325.3h0M119.6 317.3h0M97.9 332.1h0M141.1 308.0h0M131.0 306.8h0M145.3 308.7h0M149.9 312.8h0M121.8 315.8h0M121.2 320.9h0M143.9 312.0h0M109.2 318.9h0M94.9 340.3h0M125.1 305.8h0M129.5 302.7h0M115.5 328.8h0M126.0 315.2h0M124.9 315.2h0M130.3 320.6h0M103.3 335.6h0M112.5 326.5h0M123.3 325.2h0M156.1 302.5h0M134.4 309.0h0M122.8 322.1h0M127.6 308.4h0M143.4 296.4h0M126.3 311.4h0M118.6 311.9h0M125.6 310.3h0M111.0 337.7h0M103.5 329.3h0M127.2 308.0h0M138.5 312.4h0M159.4 292.7h0M108.7 330.5h0M138.3 312.0h0M118.1 316.5h0M143.2 308.0h0M157.7 301.7h0M135.7 319.3h0M163.0 299.1h0M122.8 325.4h0M106.7 332.0h0M131.0 308.0h0M124.6 321.1h0M104.3 328.2h0M117.5 323.5h0M121.0 322.8h0M128.8 314.9h0M148.4 312.8h0M123.7 311.5h0M118.1 321.4h0M132.3 325.8h0M132.6 312.8h0M131.5 312.6h0M116.9 315.5h0M119.5 318.6h0M130.0 311.6h0M147.8 312.6h0M137.1 303.6h0M134.2 317.9h0M134.9 306.7h0M147.6 306.8h0M139.8 304.4h0M129.0 316.2h0M131.2 308.8h0M139.2 322.7h0M128.9 312.7h0M132.5 312.7h0M118.6 312.7h0M93.2 338.1h0M128.3 324.3h0M127.7 303.2h0M119.8 323.2h0" stroke="#222" stroke-opacity="0.28" stroke-width="1.00" stroke-linecap="round" fill="none"/>
<circle cx="237.5" cy="212.1" r="2.6" fill="#a4a4bc" fill-opacity="0.9"/>
<circle cx="268" cy="209.6" r="2.6" fill="#a8a8ba" fill-opacity="0.9"/>
<circle cx="280.2" cy="203.4" r="2.7" fill="#a8a8ba" fill-opacity="0.9"/>
<circle cx="220.3" cy="254.8" r="2.4" fill="#9a9ac4" fill-opacity="0.9"/>
<circle cx="247.8" cy="284.7" r="3.0" fill="#8888c0" fill-opacity="0.9"/>
<circle cx="193.9" cy="236.4" r="2.0" fill="#9a9ac4" fill-opacity="0.9"/>
<circle cx="194.2" cy="254.2" r="2.4" fill="#a0a0c8" fill-opacity="0.9"/>
<circle cx="201" cy="261" r="2.3" fill="#9a9ac4" fill-opacity="0.9"/>
<circle cx="209.7" cy="291.6" r="2.4" fill="#9a9ac4" fill-opacity="0.9"/>
<circle cx="222.2" cy="298.7" r="2.2" fill="#a0a0c8" fill-opacity="0.9"/>
<circle cx="230.6" cy="312.8" r="2.8" fill="#cfcfcf" fill-opacity="0.9"/>
<circle cx="209.4" cy="314.3" r="3.6" fill="#d0d0d0" fill-opacity="0.9"/>
<circle cx="217.2" cy="308.7" r="2.6" fill="#c8c8c8" fill-opacity="0.9"/>
<circle cx="197" cy="314.3" r="2.4" fill="#cccccc" fill-opacity="0.9"/>
<circle cx="186" cy="312" r="2.2" fill="#c8c8d8" fill-opacity="0.9"/>
<rect x="48.8" y="195.2" width="242.4" height="196.4" fill="none" stroke="#1a1a1a" stroke-width="1.3"/>
<path d="M46.199999999999996 375.8H48.8 M46.199999999999996 317.0H48.8 M46.199999999999996 258.2H48.8 M46.199999999999996 199.4H48.8 M57.9 391.6v2.6 M129.6 391.6v2.6 M201.3 391.6v2.6 M273.0 391.6v2.6" stroke="#333" stroke-width="0.9"/>
<text x="42.199999999999996" y="378.9" font-size="8.6" text-anchor="end" fill="#4d4d4d" stroke="#4d4d4d" stroke-width="0.15" textLength="16.4" lengthAdjust="spacingAndGlyphs">−2.5</text>
<text x="42.199999999999996" y="320.1" font-size="8.6" text-anchor="end" fill="#4d4d4d" stroke="#4d4d4d" stroke-width="0.15" textLength="11.2" lengthAdjust="spacingAndGlyphs">0.0</text>
<text x="42.199999999999996" y="261.3" font-size="8.6" text-anchor="end" fill="#4d4d4d" stroke="#4d4d4d" stroke-width="0.15" textLength="11.2" lengthAdjust="spacingAndGlyphs">2.5</text>
<text x="42.199999999999996" y="202.5" font-size="8.6" text-anchor="end" fill="#4d4d4d" stroke="#4d4d4d" stroke-width="0.15" textLength="11.2" lengthAdjust="spacingAndGlyphs">5.0</text>
<text x="57.89999999999999" y="405.9" font-size="8.6" text-anchor="middle" fill="#4d4d4d" stroke="#4d4d4d" stroke-width="0.15" textLength="8.6" lengthAdjust="spacingAndGlyphs">−2</text>
<text x="129.6" y="405.9" font-size="8.6" text-anchor="middle" fill="#4d4d4d" stroke="#4d4d4d" stroke-width="0.15" textLength="4.6" lengthAdjust="spacingAndGlyphs">0</text>
<text x="201.3" y="405.9" font-size="8.6" text-anchor="middle" fill="#4d4d4d" stroke="#4d4d4d" stroke-width="0.15" textLength="4.6" lengthAdjust="spacingAndGlyphs">2</text>
<text x="273.0" y="405.9" font-size="8.6" text-anchor="middle" fill="#4d4d4d" stroke="#4d4d4d" stroke-width="0.15" textLength="4.6" lengthAdjust="spacingAndGlyphs">4</text>
<text x="171.5" y="419.74" font-size="10.4" text-anchor="middle" stroke="#000" stroke-width="0.15" textLength="205" lengthAdjust="spacingAndGlyphs">Expression fold change (Breakthrough Acute vs HC)</text>
<text x="0" y="0" font-size="10.4" text-anchor="middle" stroke="#000" stroke-width="0.15" textLength="168" lengthAdjust="spacingAndGlyphs" transform="translate(22.4 294) rotate(-90)">Expression fold change (Hyperacute vs HC)</text>
<text x="90.8" y="282.95" font-size="6.8" fill="#222" stroke="#222" stroke-width="0.15" textLength="25.2" lengthAdjust="spacingAndGlyphs">SLAMF7</text>
<text x="59.6" y="296.75" font-size="6.8" fill="#222" stroke="#222" stroke-width="0.15" textLength="21.6" lengthAdjust="spacingAndGlyphs">CXCR6</text>
<text x="97.2" y="293.25" font-size="6.8" fill="#222" stroke="#222" stroke-width="0.15" textLength="21.0" lengthAdjust="spacingAndGlyphs">FASLG</text>
<text x="76.5" y="300.95" font-size="6.8" fill="#222" stroke="#222" stroke-width="0.15" textLength="16.5" lengthAdjust="spacingAndGlyphs">CMA1</text>
<text x="107.8" y="300.45" font-size="6.8" fill="#222" stroke="#222" stroke-width="0.15" textLength="16.5" lengthAdjust="spacingAndGlyphs">CST7</text>
<text x="76.5" y="310.05" font-size="6.8" fill="#222" stroke="#222" stroke-width="0.15" textLength="25.5" lengthAdjust="spacingAndGlyphs">PIK3AP1</text>
<text x="107.4" y="310.05" font-size="6.8" fill="#222" stroke="#222" stroke-width="0.15" textLength="17.4" lengthAdjust="spacingAndGlyphs">IGF2R</text>
<text x="170.7" y="306.25" font-size="6.8" fill="#222" stroke="#222" stroke-width="0.15" textLength="34.9" lengthAdjust="spacingAndGlyphs">LOC702648</text>
<text x="170.7" y="314.05" font-size="6.8" fill="#222" stroke="#222" stroke-width="0.15" textLength="15.9" lengthAdjust="spacingAndGlyphs">JUNB</text>
<text x="163.3" y="327.95" font-size="6.8" fill="#222" stroke="#222" stroke-width="0.15" textLength="12.9" lengthAdjust="spacingAndGlyphs">IRS1</text>
<text x="169.0" y="333.95" font-size="6.8" fill="#222" stroke="#222" stroke-width="0.15" textLength="19.3" lengthAdjust="spacingAndGlyphs">RORC</text>
<text x="121.5" y="341.65" font-size="6.8" fill="#222" stroke="#222" stroke-width="0.15" textLength="29.8" lengthAdjust="spacingAndGlyphs">KIAA1324</text>
<text x="162.3" y="341.65" font-size="6.8" fill="#222" stroke="#222" stroke-width="0.15" textLength="29.6" lengthAdjust="spacingAndGlyphs">LAPTM4B</text>
<text x="197.2" y="336.15" font-size="6.8" fill="#222" stroke="#222" stroke-width="0.15" textLength="22.2" lengthAdjust="spacingAndGlyphs">MATN2</text>
<text x="180.3" y="352.05" font-size="6.8" fill="#222" stroke="#222" stroke-width="0.15" textLength="16.9" lengthAdjust="spacingAndGlyphs">CHN1</text>
<text x="131.0" y="355.25" font-size="6.8" fill="#222" stroke="#222" stroke-width="0.15" textLength="26.6" lengthAdjust="spacingAndGlyphs">ADAM12</text>
<path d="M91.9 284.2L89.4 294.3M96.6 293.6L94.7 296.2M171.6 305.0L151.5 332.2M169.6 315.2L152.8 331.0" stroke="#a0122a" stroke-width="1.05"/>
<circle cx="83.9" cy="294.6" r="1.1" fill="#b5132c"/>
<circle cx="89.2" cy="294.6" r="1.2" fill="#b5132c"/>
<circle cx="94.7" cy="296.5" r="1.0" fill="#b5132c"/>
<circle cx="105.8" cy="298.9" r="1.1" fill="#b5132c"/>
<circle cx="101.2" cy="301.8" r="1.2" fill="#b5132c"/>
<circle cx="109.2" cy="302.3" r="1.6" fill="#b5132c"/>
<circle cx="150.3" cy="334.6" r="1.1" fill="#b5132c"/>
<circle cx="152.4" cy="332.0" r="1.1" fill="#b5132c"/>
<circle cx="161.5" cy="329.0" r="1.1" fill="#b5132c"/>
<circle cx="166.4" cy="331.2" r="1.1" fill="#b5132c"/>
<circle cx="159.6" cy="339.4" r="1.0" fill="#b5132c"/>
<circle cx="194.0" cy="333.7" r="1.9" fill="#b5132c"/>
<circle cx="182.0" cy="343.9" r="1.5" fill="#b5132c"/>
<circle cx="154.9" cy="347.5" r="0.9" fill="#b5132c"/>
<text x="323.3" y="220.28" font-size="8.0" text-anchor="middle" stroke="#000" stroke-width="0.15" textLength="44.5" lengthAdjust="spacingAndGlyphs">- log P Value</text>
<text x="323.0" y="228.29" font-size="7.2" text-anchor="middle" stroke="#000" stroke-width="0.15" textLength="60.7" lengthAdjust="spacingAndGlyphs">(Breakthrough Acute</text>
<text x="322.7" y="236.79" font-size="7.2" text-anchor="middle" stroke="#000" stroke-width="0.15" textLength="31.8" lengthAdjust="spacingAndGlyphs">versus HC)</text>
<rect x="308.9" y="242.00" width="15.2" height="15.35" fill="#fafafa" stroke="#e2e2e2" stroke-width="0.8"/>
<circle cx="316.5" cy="249.70" r="2.30" fill="#d3d3d3"/>
<text x="326.2" y="252.8" font-size="8.6" fill="#222" stroke="#222" stroke-width="0.15" textLength="9.6" lengthAdjust="spacingAndGlyphs">10</text>
<rect x="308.9" y="257.35" width="15.2" height="15.35" fill="#fafafa" stroke="#e2e2e2" stroke-width="0.8"/>
<circle cx="316.5" cy="265.05" r="2.72" fill="#d3d3d3"/>
<text x="326.2" y="268.15" font-size="8.6" fill="#222" stroke="#222" stroke-width="0.15" textLength="9.6" lengthAdjust="spacingAndGlyphs">20</text>
<rect x="308.9" y="272.70" width="15.2" height="15.35" fill="#fafafa" stroke="#e2e2e2" stroke-width="0.8"/>
<circle cx="316.5" cy="280.40" r="3.14" fill="#d3d3d3"/>
<text x="326.2" y="283.5" font-size="8.6" fill="#222" stroke="#222" stroke-width="0.15" textLength="9.6" lengthAdjust="spacingAndGlyphs">30</text>
<rect x="308.9" y="288.05" width="15.2" height="15.35" fill="#fafafa" stroke="#e2e2e2" stroke-width="0.8"/>
<circle cx="316.5" cy="295.75" r="3.56" fill="#d3d3d3"/>
<text x="326.2" y="298.85" font-size="8.6" fill="#222" stroke="#222" stroke-width="0.15" textLength="9.6" lengthAdjust="spacingAndGlyphs">40</text>
<rect x="308.9" y="303.40" width="15.2" height="15.35" fill="#fafafa" stroke="#e2e2e2" stroke-width="0.8"/>
<circle cx="316.5" cy="311.10" r="3.98" fill="#d3d3d3"/>
<text x="326.2" y="314.2" font-size="8.6" fill="#222" stroke="#222" stroke-width="0.15" textLength="9.6" lengthAdjust="spacingAndGlyphs">50</text>
<text x="363.4" y="187.7" font-size="12.2" font-weight="bold" stroke="#000" stroke-width="0.15">D</text>
<text x="393.3" y="205.82" font-size="5.9" text-anchor="middle" stroke="#000" stroke-width="0.15" textLength="60" lengthAdjust="spacingAndGlyphs">Fold Change Expression</text>
<text x="370.9" y="213.0" font-size="5.9" textLength="45" lengthAdjust="spacingAndGlyphs">(Log<tspan font-size="4.0" dy="1.5">2</tspan><tspan dy="-1.5"> Normalized)</tspan></text>
<defs><linearGradient id="cb" x1="0" x2="1"><stop offset="0" stop-color="#26268a"/><stop offset="0.5" stop-color="#f4f0f6"/><stop offset="1" stop-color="#c4001c"/></linearGradient></defs>
<rect x="379.7" y="216.4" width="27.5" height="5.2" fill="url(#cb)"/>
<path d="M381 221.6v2M387.9 221.6v2M394.4 221.6v2M400.3 221.6v2M406.2 221.6v2" stroke="#111" stroke-width="0.9"/>
<text x="381.3" y="231.82" font-size="7" text-anchor="middle" stroke="#000" stroke-width="0.15" textLength="5.5" lengthAdjust="spacingAndGlyphs">-2</text>
<text x="394.4" y="231.82" font-size="7" text-anchor="middle" stroke="#000" stroke-width="0.15" textLength="3.6" lengthAdjust="spacingAndGlyphs">0</text>
<text x="405.6" y="231.82" font-size="7" text-anchor="middle" stroke="#000" stroke-width="0.15" textLength="3.6" lengthAdjust="spacingAndGlyphs">2</text>
<rect x="420.3" y="233.20" width="22.00" height="6.90" fill="#4852a8"/>
<rect x="442.0" y="233.20" width="21.90" height="6.90" fill="#4852a8"/>
<text x="467.2" y="238.01" font-size="6.4" fill="#111" stroke="#111" stroke-width="0.05" letter-spacing="0.3">KLRB1</text>
<rect x="420.3" y="239.80" width="22.00" height="6.90" fill="#d8525f"/>
<rect x="442.0" y="239.80" width="21.90" height="6.90" fill="#e6a2b4"/>
<text x="467.2" y="244.61" font-size="6.4" fill="#111" stroke="#111" stroke-width="0.05" letter-spacing="0.3">LTB4R</text>
<rect x="420.3" y="246.41" width="22.00" height="6.90" fill="#e9bcd0"/>
<rect x="442.0" y="246.41" width="21.90" height="6.90" fill="#f1e7ef"/>
<text x="467.2" y="251.21" font-size="6.4" fill="#111" stroke="#111" stroke-width="0.05" letter-spacing="0.3">CSF2</text>
<rect x="420.3" y="253.01" width="22.00" height="6.90" fill="#cf1429"/>
<rect x="442.0" y="253.01" width="21.90" height="6.90" fill="#d8626f"/>
<text x="467.2" y="257.82" font-size="6.4" fill="#111" stroke="#111" stroke-width="0.05" letter-spacing="0.3">RORC</text>
<rect x="420.3" y="259.62" width="22.00" height="6.90" fill="#e8b8cc"/>
<rect x="442.0" y="259.62" width="21.90" height="6.90" fill="#e2b2c9"/>
<text x="467.2" y="264.42" font-size="6.4" fill="#111" stroke="#111" stroke-width="0.05" letter-spacing="0.3">IL1R2</text>
<rect x="420.3" y="266.22" width="22.00" height="6.90" fill="#cc1230"/>
<rect x="442.0" y="266.22" width="21.90" height="6.90" fill="#e0b2c8"/>
<text x="467.2" y="271.03" font-size="6.4" fill="#111" stroke="#111" stroke-width="0.05" letter-spacing="0.3">CCR6</text>
<rect x="420.3" y="272.82" width="22.00" height="6.90" fill="#e8c0d2"/>
<rect x="442.0" y="272.82" width="21.90" height="6.90" fill="#f1e9f1"/>
<text x="467.2" y="277.63" font-size="6.4" fill="#111" stroke="#111" stroke-width="0.05" letter-spacing="0.3">ITGA3</text>
<rect x="420.3" y="279.43" width="22.00" height="6.90" fill="#b2b2da"/>
<rect x="442.0" y="279.43" width="21.90" height="6.90" fill="#e2e2f1"/>
<text x="467.2" y="284.24" font-size="6.4" fill="#111" stroke="#111" stroke-width="0.05" letter-spacing="0.3">CSF1</text>
<rect x="420.3" y="286.03" width="22.00" height="6.90" fill="#f0ecf4"/>
<rect x="442.0" y="286.03" width="21.90" height="6.90" fill="#f0ecf4"/>
<text x="467.2" y="290.84" font-size="6.4" fill="#111" stroke="#111" stroke-width="0.05" letter-spacing="0.3">ICOS</text>
<rect x="420.3" y="292.64" width="22.00" height="6.90" fill="#f0ecf4"/>
<rect x="442.0" y="292.64" width="21.90" height="6.90" fill="#d9b2d1"/>
<text x="467.2" y="297.44" font-size="6.4" fill="#111" stroke="#111" stroke-width="0.05" letter-spacing="0.3">ITGB5</text>
<rect x="420.3" y="299.24" width="22.00" height="6.90" fill="#a8a8d2"/>
<rect x="442.0" y="299.24" width="21.90" height="6.90" fill="#8282c2"/>
<text x="467.2" y="304.05" font-size="6.4" fill="#111" stroke="#111" stroke-width="0.05" letter-spacing="0.3">CD44</text>
<rect x="420.3" y="305.85" width="22.00" height="6.90" fill="#f0eff8"/>
<rect x="442.0" y="305.85" width="21.90" height="6.90" fill="#f0eff8"/>
<text x="467.2" y="310.65" font-size="6.4" fill="#111" stroke="#111" stroke-width="0.05" letter-spacing="0.3">FOXP3</text>
<rect x="420.3" y="312.45" width="22.00" height="6.90" fill="#7e7ec2"/>
<rect x="442.0" y="312.45" width="21.90" height="6.90" fill="#e0e0f1"/>
<text x="467.2" y="317.26" font-size="6.4" fill="#111" stroke="#111" stroke-width="0.05" letter-spacing="0.3">IL10</text>
<rect x="420.3" y="319.05" width="22.00" height="6.90" fill="#b2b2e0"/>
<rect x="442.0" y="319.05" width="21.90" height="6.90" fill="#e8a4c4"/>
<text x="467.2" y="323.86" font-size="6.4" fill="#111" stroke="#111" stroke-width="0.05" letter-spacing="0.3">FAS</text>
<rect x="420.3" y="325.66" width="22.00" height="6.90" fill="#3a3aa0"/>
<rect x="442.0" y="325.66" width="21.90" height="6.90" fill="#f0eef8"/>
<text x="467.2" y="330.46" font-size="6.4" fill="#111" stroke="#111" stroke-width="0.05" letter-spacing="0.3">CCL3</text>
<rect x="420.3" y="332.26" width="22.00" height="6.90" fill="#3a3aa0"/>
<rect x="442.0" y="332.26" width="21.90" height="6.90" fill="#dcdcf0"/>
<text x="467.2" y="337.07" font-size="6.4" fill="#111" stroke="#111" stroke-width="0.05" letter-spacing="0.3">LAMP1</text>
<rect x="420.3" y="338.87" width="22.00" height="6.90" fill="#3c3ca0"/>
<rect x="442.0" y="338.87" width="21.90" height="6.90" fill="#7272b8"/>
<text x="467.2" y="343.67" font-size="6.4" fill="#111" stroke="#111" stroke-width="0.05" letter-spacing="0.3">FASLG</text>
<rect x="420.3" y="345.47" width="22.00" height="6.90" fill="#4040a0"/>
<rect x="442.0" y="345.47" width="21.90" height="6.90" fill="#6a6ab2"/>
<text x="467.2" y="350.28" font-size="6.4" fill="#111" stroke="#111" stroke-width="0.05" letter-spacing="0.3">CCL4</text>
<rect x="420.3" y="352.07" width="22.00" height="6.90" fill="#9090c8"/>
<rect x="442.0" y="352.07" width="21.90" height="6.90" fill="#b8b8e0"/>
<text x="467.2" y="356.88" font-size="6.4" fill="#111" stroke="#111" stroke-width="0.05" letter-spacing="0.3">EOMES</text>
<rect x="420.3" y="358.68" width="22.00" height="6.90" fill="#3838a0"/>
<rect x="442.0" y="358.68" width="21.90" height="6.90" fill="#e8e8f4"/>
<text x="467.2" y="363.49" font-size="6.4" fill="#111" stroke="#111" stroke-width="0.05" letter-spacing="0.3">CCR5</text>
<rect x="420.3" y="365.28" width="22.00" height="6.90" fill="#3c3ca2"/>
<rect x="442.0" y="365.28" width="21.90" height="6.90" fill="#4040a8"/>
<text x="467.2" y="370.09" font-size="6.4" fill="#111" stroke="#111" stroke-width="0.05" letter-spacing="0.3">KLRG1</text>
<rect x="420.3" y="371.89" width="22.00" height="6.90" fill="#4444a4"/>
<rect x="442.0" y="371.89" width="21.90" height="6.90" fill="#4848a8"/>
<text x="467.2" y="376.69" font-size="6.4" fill="#111" stroke="#111" stroke-width="0.05" letter-spacing="0.3">CCL5</text>
<rect x="420.3" y="378.49" width="22.00" height="6.90" fill="#9090c8"/>
<rect x="442.0" y="378.49" width="21.90" height="6.90" fill="#b8b8e0"/>
<text x="467.2" y="383.3" font-size="6.4" fill="#111" stroke="#111" stroke-width="0.05" letter-spacing="0.3">IL10RA</text>
<rect x="420.3" y="385.10" width="22.00" height="6.90" fill="#9a9ad0"/>
<rect x="442.0" y="385.10" width="21.90" height="6.90" fill="#e4e4f4"/>
<text x="467.2" y="389.9" font-size="6.4" fill="#111" stroke="#111" stroke-width="0.05" letter-spacing="0.3">GZMK</text>
<rect x="413.4" y="235.2" width="5.5" height="74.8" fill="#c4101f"/>
<rect x="413.5" y="315.6" width="5.4" height="74" fill="#3b3b9a"/>
<text x="410.3" y="265.23" font-size="8.7" text-anchor="end" font-weight="bold" fill="#a8122a" stroke="#a8122a" stroke-width="0.15" textLength="21.5" lengthAdjust="spacingAndGlyphs">Up in</text>
<text x="410.3" y="276.03" font-size="8.7" text-anchor="end" font-weight="bold" fill="#a8122a" stroke="#a8122a" stroke-width="0.15" textLength="28.7" lengthAdjust="spacingAndGlyphs">murine</text>
<text x="410.3" y="286.23" font-size="8.7" text-anchor="end" font-weight="bold" fill="#a8122a" stroke="#a8122a" stroke-width="0.15" textLength="40.6" lengthAdjust="spacingAndGlyphs">Tc17 cells</text>
<text x="410.4" y="345.43" font-size="8.7" text-anchor="end" font-weight="bold" fill="#3e3e96" stroke="#3e3e96" stroke-width="0.15" textLength="34.2" lengthAdjust="spacingAndGlyphs">Down in</text>
<text x="410.4" y="356.03" font-size="8.7" text-anchor="end" font-weight="bold" fill="#3e3e96" stroke="#3e3e96" stroke-width="0.15" textLength="29.2" lengthAdjust="spacingAndGlyphs">murine</text>
<text x="410.4" y="366.53" font-size="8.7" text-anchor="end" font-weight="bold" fill="#3e3e96" stroke="#3e3e96" stroke-width="0.15" textLength="40.9" lengthAdjust="spacingAndGlyphs">Tc17 cells</text>
<text x="431.6" y="396.0" font-size="7.8" text-anchor="end" stroke="#000" stroke-width="0.15" textLength="62" lengthAdjust="spacingAndGlyphs" transform="rotate(-43 431.6 396.0)">Breakthrough Acute</text>
<text x="437.8" y="401.6" font-size="7.8" text-anchor="end" stroke="#000" stroke-width="0.15" textLength="25" lengthAdjust="spacingAndGlyphs" transform="rotate(-43 437.8 401.6)">vs Auto</text>
<text x="454.6" y="396.6" font-size="7.8" text-anchor="end" stroke="#000" stroke-width="0.15" textLength="62" lengthAdjust="spacingAndGlyphs" transform="rotate(-43 454.6 396.6)">Breakthrough Acute</text>
<text x="460.2" y="402.4" font-size="7.8" text-anchor="end" stroke="#000" stroke-width="0.15" textLength="20" lengthAdjust="spacingAndGlyphs" transform="rotate(-43 460.2 402.4)">vs HC</text>
<text x="498.2" y="208.68" font-size="6.6" text-anchor="end" stroke="#000" stroke-width="0.15" textLength="46" lengthAdjust="spacingAndGlyphs">Not Concordant</text>
<text x="498.2" y="215.98" font-size="6.6" text-anchor="end" stroke="#000" stroke-width="0.15" textLength="34.2" lengthAdjust="spacingAndGlyphs">Concordant</text>
<rect x="501.8" y="203.3" width="9.8" height="6.6" fill="#fff" stroke="#111" stroke-width="0.9"/>
<rect x="501.8" y="210.3" width="9.8" height="6.6" fill="#9c9c9c" stroke="#111" stroke-width="0.9"/>
<path d="M506.7 221.2V227" stroke="#111" stroke-width="0.9"/><path d="M505 226.2L506.7 229.4L508.4 226.2Z" fill="#111"/>
<rect x="502.1" y="231.65" width="9.6" height="6.12" fill="#fff" stroke="#111" stroke-width="1"/>
<rect x="502.1" y="238.28" width="9.6" height="6.12" fill="#9c9c9c" stroke="#111" stroke-width="1"/>
<rect x="502.1" y="244.90" width="9.6" height="6.12" fill="#9c9c9c" stroke="#111" stroke-width="1"/>
<rect x="502.1" y="251.53" width="9.6" height="6.12" fill="#9c9c9c" stroke="#111" stroke-width="1"/>
<rect x="502.1" y="258.15" width="9.6" height="6.12" fill="#9c9c9c" stroke="#111" stroke-width="1"/>
<rect x="502.1" y="264.77" width="9.6" height="6.12" fill="#9c9c9c" stroke="#111" stroke-width="1"/>
<rect x="502.1" y="271.40" width="9.6" height="6.12" fill="#9c9c9c" stroke="#111" stroke-width="1"/>
<rect x="502.1" y="278.02" width="9.6" height="6.12" fill="#fff" stroke="#111" stroke-width="1"/>
<rect x="502.1" y="284.65" width="9.6" height="6.12" fill="#9c9c9c" stroke="#111" stroke-width="1"/>
<rect x="502.1" y="291.27" width="9.6" height="6.12" fill="#9c9c9c" stroke="#111" stroke-width="1"/>
<rect x="502.1" y="297.90" width="9.6" height="6.12" fill="#fff" stroke="#111" stroke-width="1"/>
<rect x="502.1" y="304.52" width="9.6" height="6.12" fill="#9c9c9c" stroke="#111" stroke-width="1"/>
<rect x="502.1" y="311.15" width="9.6" height="6.12" fill="#9c9c9c" stroke="#111" stroke-width="1"/>
<rect x="502.1" y="317.77" width="9.6" height="6.12" fill="#9c9c9c" stroke="#111" stroke-width="1"/>
<rect x="502.1" y="324.40" width="9.6" height="6.12" fill="#9c9c9c" stroke="#111" stroke-width="1"/>
<rect x="502.1" y="331.02" width="9.6" height="6.12" fill="#9c9c9c" stroke="#111" stroke-width="1"/>
<rect x="502.1" y="337.65" width="9.6" height="6.12" fill="#9c9c9c" stroke="#111" stroke-width="1"/>
<rect x="502.1" y="344.27" width="9.6" height="6.12" fill="#9c9c9c" stroke="#111" stroke-width="1"/>
<rect x="502.1" y="350.90" width="9.6" height="6.12" fill="#9c9c9c" stroke="#111" stroke-width="1"/>
<rect x="502.1" y="357.52" width="9.6" height="6.12" fill="#9c9c9c" stroke="#111" stroke-width="1"/>
<rect x="502.1" y="364.15" width="9.6" height="6.12" fill="#9c9c9c" stroke="#111" stroke-width="1"/>
<rect x="502.1" y="370.77" width="9.6" height="6.12" fill="#9c9c9c" stroke="#111" stroke-width="1"/>
<rect x="502.1" y="377.40" width="9.6" height="6.12" fill="#9c9c9c" stroke="#111" stroke-width="1"/>
<rect x="502.1" y="384.02" width="9.6" height="6.12" fill="#9c9c9c" stroke="#111" stroke-width="1"/>
<path d="M0 0H520V1.25H0ZM0 0H1.25V446H0ZM518.4 0H520V446H518.4ZM0 444.4H520V446H0Z" fill="#000"/>
</svg>
</body></html>
